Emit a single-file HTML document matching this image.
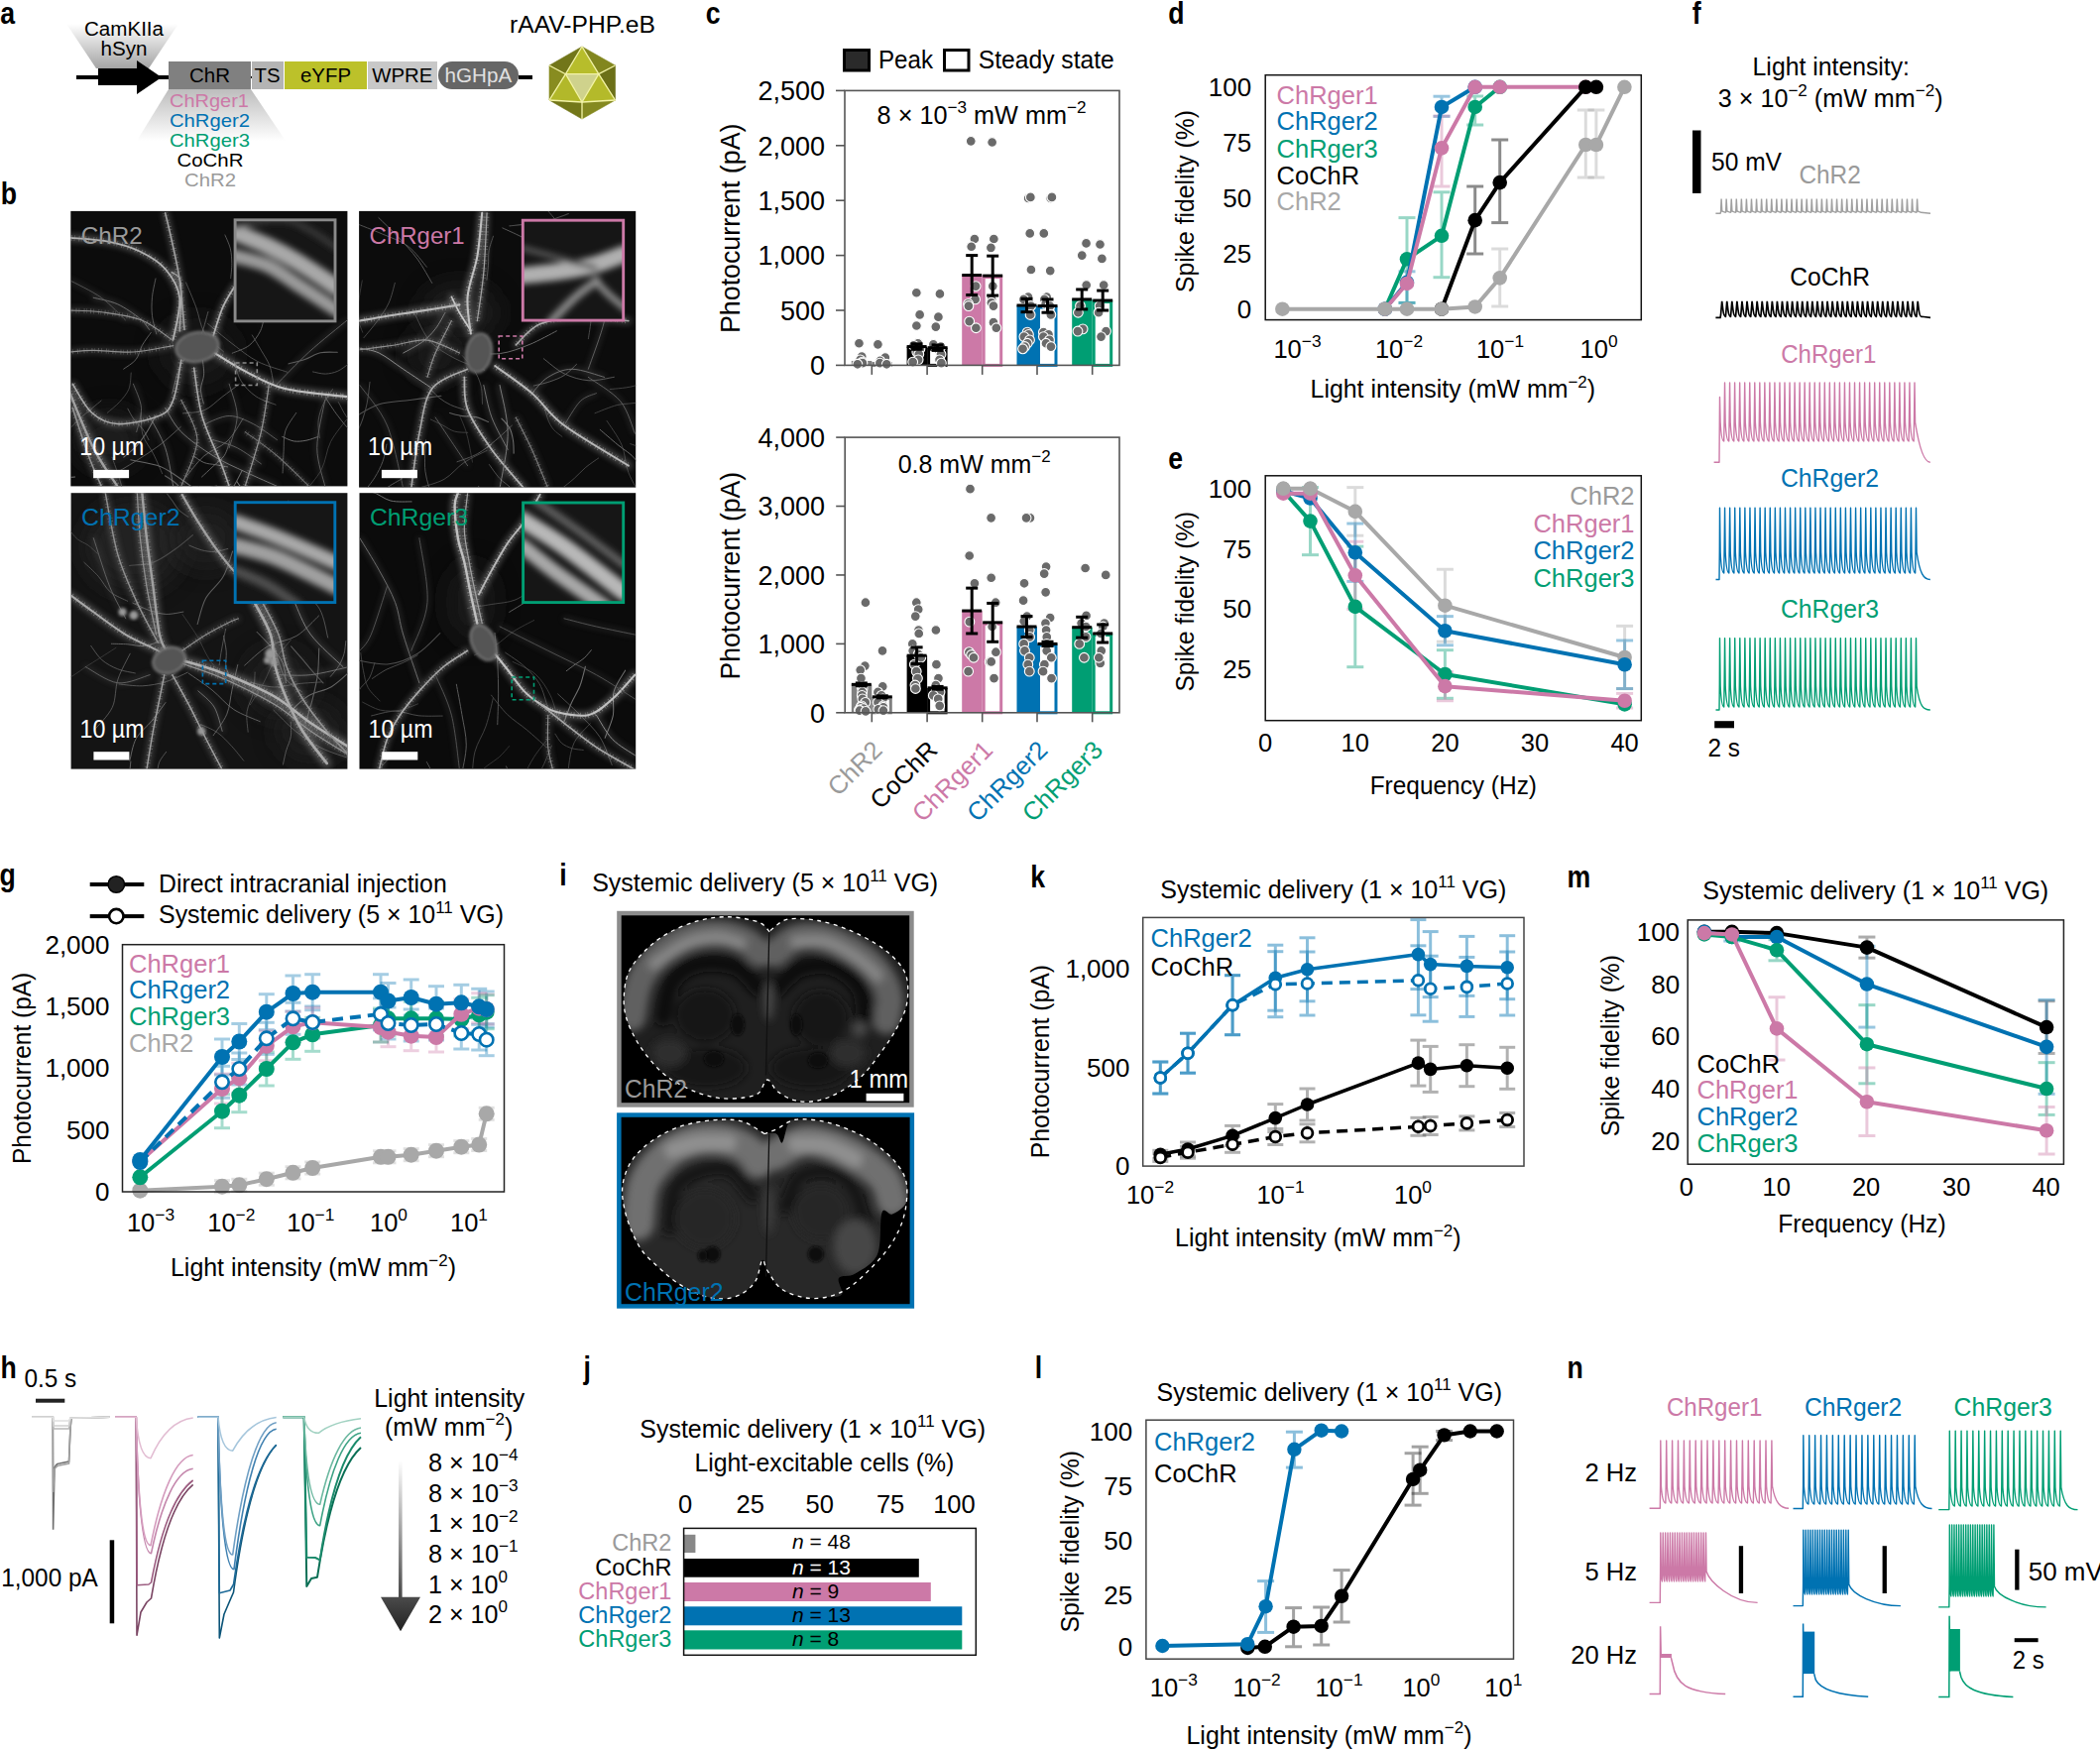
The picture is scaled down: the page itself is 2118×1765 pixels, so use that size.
<!DOCTYPE html>
<html><head><meta charset="utf-8"><style>
html,body{margin:0;padding:0;background:#fff;overflow:hidden;}
svg{display:block;font-family:"Liberation Sans",sans-serif;}
</style></head><body>
<svg width="2118" height="1765" viewBox="0 0 2118 1765">
<defs><linearGradient id="fun1" x1="0" y1="0" x2="0" y2="1"><stop offset="0" stop-color="#fff"/><stop offset="1" stop-color="#a4a4a4"/></linearGradient>
<linearGradient id="fun2" x1="0" y1="0" x2="0" y2="1"><stop offset="0" stop-color="#bdbdbd"/><stop offset="1" stop-color="#fff"/></linearGradient>
<filter id="blur1" x="-20%" y="-20%" width="140%" height="140%"><feGaussianBlur stdDeviation="1.5"/></filter>
<filter id="blur3" x="-5%" y="-5%" width="110%" height="110%"><feGaussianBlur stdDeviation="3"/></filter>
<filter id="blur8" x="-50%" y="-50%" width="200%" height="200%"><feGaussianBlur stdDeviation="12"/></filter>
<filter id="blur4" x="-20%" y="-20%" width="140%" height="140%"><feGaussianBlur stdDeviation="3.2"/></filter>
<clipPath id="im1"><rect x="71.3" y="212.9" width="279.1" height="277.5"/></clipPath>
<clipPath id="im1i"><rect x="237.1" y="221.8" width="100.9" height="102.1"/></clipPath>
<clipPath id="im2"><rect x="362.1" y="212.9" width="279.1" height="278.7"/></clipPath>
<clipPath id="im2i"><rect x="527.3" y="222.2" width="101.4" height="100.9"/></clipPath>
<clipPath id="im3"><rect x="71.6" y="497.2" width="278.8" height="278.4"/></clipPath>
<clipPath id="im3i"><rect x="237.2" y="506.7" width="100.6" height="100.9"/></clipPath>
<clipPath id="im4"><rect x="362.5" y="497.2" width="278.7" height="278.4"/></clipPath>
<clipPath id="im4i"><rect x="527.6" y="507" width="101.1" height="100.6"/></clipPath>
<linearGradient id="arr" x1="0" y1="1473" x2="0" y2="1645" gradientUnits="userSpaceOnUse"><stop offset="0" stop-color="#fff"/><stop offset="0.75" stop-color="#555"/><stop offset="1" stop-color="#222"/></linearGradient>
<filter id="blur5" x="-20%" y="-20%" width="140%" height="140%"><feGaussianBlur stdDeviation="4.5"/></filter>
<clipPath id="br1"><path d="M776.24,939.75 C774.37,938.12 771.87,932.5 764.99,930 C758.12,927.5 744.99,925 734.99,924.75 C724.99,924.5 715,925.87 705,928.5 C695,931.12 683.75,935.75 675,940.5 C666.25,945.25 659.25,950.5 652.5,957 C645.75,963.5 638.37,971.5 634.5,979.5 C630.62,987.5 629.75,997.25 629.25,1005 C628.75,1012.74 629.62,1018.99 631.5,1025.99 C633.37,1032.99 637,1040.49 640.5,1046.99 C644,1053.49 648,1059.24 652.5,1064.99 C657,1070.74 662.5,1076.99 667.5,1081.49 C672.5,1085.99 676.25,1088.49 682.5,1091.99 C688.75,1095.49 697.5,1099.87 705,1102.49 C712.5,1105.12 719.99,1106.99 727.49,1107.74 C734.99,1108.49 743.74,1107.87 749.99,1106.99 C756.24,1106.12 760.99,1105.49 764.99,1102.49 C768.99,1099.49 770.74,1089.24 773.99,1088.99 C777.24,1088.74 779.74,1097.49 784.49,1100.99 C789.24,1104.49 795.74,1108.49 802.49,1109.99 C809.24,1111.49 817.49,1111.49 824.99,1109.99 C832.49,1108.49 839.99,1105.24 847.49,1100.99 C854.99,1096.74 863.24,1090.99 869.99,1084.49 C876.74,1077.99 882.49,1069.49 887.99,1061.99 C893.49,1054.49 898.74,1046.99 902.99,1039.49 C907.24,1031.99 911.36,1024.24 913.49,1016.99 C915.61,1009.75 915.98,1002.25 915.73,996 C915.48,989.75 914.61,984.75 911.99,979.5 C909.36,974.25 904.99,969.25 899.99,964.5 C894.99,959.75 889.49,955.5 881.99,951 C874.49,946.5 864.49,941.25 854.99,937.5 C845.49,933.75 834.99,930.25 824.99,928.5 C814.99,926.75 802.49,925.75 794.99,927 C787.49,928.25 783.12,933.87 779.99,936 C776.87,938.12 776.87,939.12 776.24,939.75 Z"/></clipPath>
<clipPath id="br2"><path d="M770.99,1143.5 C767.49,1141.5 757.24,1133.87 749.99,1131.5 C742.74,1129.12 736.24,1129 727.49,1129.25 C718.74,1129.5 706.75,1130.87 697.5,1133 C688.25,1135.12 680,1138 672,1142 C664,1146 655.75,1151.5 649.5,1157 C643.25,1162.5 638.12,1168.25 634.5,1175 C630.87,1181.75 628.5,1190 627.75,1197.5 C627,1205 628.37,1212.5 630,1219.99 C631.62,1227.49 634.5,1235.49 637.5,1242.49 C640.5,1249.49 643.5,1255.99 648,1261.99 C652.5,1267.99 658.75,1273.24 664.5,1278.49 C670.25,1283.74 675.75,1288.99 682.5,1293.49 C689.25,1297.99 697.5,1302.74 705,1305.49 C712.5,1308.24 720.49,1309.99 727.49,1309.99 C734.49,1309.99 741.24,1308.49 746.99,1305.49 C752.74,1302.49 758.37,1297.74 761.99,1291.99 C765.62,1286.24 766.74,1272.74 768.74,1270.99 C770.74,1269.24 770.87,1276.74 773.99,1281.49 C777.12,1286.24 781.49,1294.99 787.49,1299.49 C793.49,1303.99 802.49,1306.99 809.99,1308.49 C817.49,1309.99 825.99,1308.99 832.49,1308.49 C838.99,1307.99 846.74,1308.74 848.99,1305.49 C851.24,1302.24 843.74,1292.49 845.99,1288.99 C848.24,1285.49 855.99,1288.49 862.49,1284.49 C868.99,1280.49 880.49,1275.24 884.99,1264.99 C889.49,1254.74 886.99,1229.74 889.49,1222.99 C891.99,1216.24 895.86,1226.24 899.99,1224.49 C904.11,1222.74 911.99,1218.24 914.24,1212.5 C916.48,1206.75 915.36,1196.75 913.49,1190 C911.61,1183.25 907.74,1177.75 902.99,1172 C898.24,1166.25 891.74,1160.5 884.99,1155.5 C878.24,1150.5 871.24,1146 862.49,1142 C853.74,1138 842.49,1133.62 832.49,1131.5 C822.49,1129.37 808.74,1129 802.49,1129.25 C796.24,1129.5 797.24,1129.12 794.99,1133 C792.74,1136.87 790.99,1150.75 788.99,1152.5 C786.99,1154.25 785.99,1145 782.99,1143.5 C779.99,1142 772.99,1143.5 770.99,1143.5 Z"/></clipPath></defs>
<rect width="2118" height="1765" fill="#fff"/>
<text x="0.2" y="24" font-size="31" textLength="14.83" lengthAdjust="spacingAndGlyphs" font-weight="bold">a</text>
<polygon points="67,24 180,24 150,69 97,69" fill="url(#fun1)"/>
<polygon points="170,90 253,90 288,142 138,142" fill="url(#fun2)"/>
<text x="125" y="36" font-size="19.5" text-anchor="middle" textLength="80" lengthAdjust="spacingAndGlyphs">CamKIIa</text>
<text x="125" y="56" font-size="19.5" text-anchor="middle" textLength="47" lengthAdjust="spacingAndGlyphs">hSyn</text>
<rect x="77" y="76" width="93" height="4" fill="#000" />
<rect x="99" y="69" width="41" height="17" fill="#000" />
<polygon points="138,61 163,78 138,95" fill="#000"/>
<rect x="170" y="62" width="83" height="28" fill="#808080" />
<rect x="254" y="62" width="32" height="28" fill="#b4b4b4" />
<rect x="287" y="62" width="83" height="28" fill="#bcc12a" />
<rect x="371" y="62" width="70" height="28" fill="#c8c8c8" />
<line x1="253" y1="78" x2="254" y2="78" stroke="#000" stroke-width="2" />
<rect x="442" y="62" width="81" height="28" rx="14" fill="#666"/>
<rect x="523" y="76" width="14" height="4" fill="#000" />
<text x="191" y="83" font-size="20" textLength="41" lengthAdjust="spacingAndGlyphs">ChR</text>
<text x="256.5" y="83" font-size="20" textLength="26" lengthAdjust="spacingAndGlyphs">TS</text>
<text x="303" y="83" font-size="20" textLength="51" lengthAdjust="spacingAndGlyphs">eYFP</text>
<text x="375.2" y="83" font-size="20" textLength="61" lengthAdjust="spacingAndGlyphs">WPRE</text>
<text x="448.6" y="83" font-size="20" fill="#e0e0e0" textLength="67.6" lengthAdjust="spacingAndGlyphs">hGHpA</text>
<text x="171" y="108" font-size="19" fill="#CC79A7" textLength="80" lengthAdjust="spacingAndGlyphs">ChRger1</text>
<text x="171" y="128" font-size="19" fill="#0072B2" textLength="81" lengthAdjust="spacingAndGlyphs">ChRger2</text>
<text x="171" y="148" font-size="19" fill="#009E73" textLength="81" lengthAdjust="spacingAndGlyphs">ChRger3</text>
<text x="178.5" y="168" font-size="19" textLength="67" lengthAdjust="spacingAndGlyphs">CoChR</text>
<text x="186" y="188" font-size="19" fill="#9a9a9a" textLength="52" lengthAdjust="spacingAndGlyphs">ChR2</text>
<text x="514" y="33" font-size="23" textLength="147" lengthAdjust="spacingAndGlyphs">rAAV-PHP.eB</text>
<polygon points="587,47 570.5,74.7 603.8,74.7" fill="#b7bd2b" stroke="#b7bd2b" stroke-width="0.6" stroke-linejoin="round"/>
<polygon points="554,66 587,47 570.5,74.7" fill="#72761a" stroke="#72761a" stroke-width="0.6" stroke-linejoin="round"/>
<polygon points="587,47 620.5,66 603.8,74.7" fill="#82861e" stroke="#82861e" stroke-width="0.6" stroke-linejoin="round"/>
<polygon points="554,66 570.5,74.7 554,101" fill="#888c20" stroke="#888c20" stroke-width="0.6" stroke-linejoin="round"/>
<polygon points="620.5,66 603.8,74.7 620.5,101" fill="#6c7018" stroke="#6c7018" stroke-width="0.6" stroke-linejoin="round"/>
<polygon points="570.5,74.7 603.8,74.7 587,103" fill="#cfd28c" stroke="#cfd28c" stroke-width="0.6" stroke-linejoin="round"/>
<polygon points="570.5,74.7 587,103 554,101" fill="#b2b82a" stroke="#b2b82a" stroke-width="0.6" stroke-linejoin="round"/>
<polygon points="603.8,74.7 620.5,101 587,103" fill="#b4ba2a" stroke="#b4ba2a" stroke-width="0.6" stroke-linejoin="round"/>
<polygon points="554,101 587,103 587,120" fill="#737719" stroke="#737719" stroke-width="0.6" stroke-linejoin="round"/>
<polygon points="587,103 620.5,101 587,120" fill="#858920" stroke="#858920" stroke-width="0.6" stroke-linejoin="round"/>
<line x1="587" y1="47" x2="570.5" y2="74.7" stroke="#f4f4a8" stroke-width="1.3" />
<line x1="587" y1="47" x2="603.8" y2="74.7" stroke="#f4f4a8" stroke-width="1.3" />
<line x1="570.5" y1="74.7" x2="603.8" y2="74.7" stroke="#f4f4a8" stroke-width="1.3" />
<line x1="554" y1="66" x2="570.5" y2="74.7" stroke="#f4f4a8" stroke-width="1.3" />
<line x1="620.5" y1="66" x2="603.8" y2="74.7" stroke="#f4f4a8" stroke-width="1.3" />
<line x1="570.5" y1="74.7" x2="587" y2="103" stroke="#f4f4a8" stroke-width="1.3" />
<line x1="603.8" y1="74.7" x2="587" y2="103" stroke="#f4f4a8" stroke-width="1.3" />
<line x1="570.5" y1="74.7" x2="554" y2="101" stroke="#f4f4a8" stroke-width="1.3" />
<line x1="603.8" y1="74.7" x2="620.5" y2="101" stroke="#f4f4a8" stroke-width="1.3" />
<line x1="554" y1="101" x2="587" y2="103" stroke="#f4f4a8" stroke-width="1.3" />
<line x1="620.5" y1="101" x2="587" y2="103" stroke="#f4f4a8" stroke-width="1.3" />
<line x1="587" y1="103" x2="587" y2="120" stroke="#f4f4a8" stroke-width="1.3" />
<text x="0.7" y="205.8" font-size="31" textLength="16.28" lengthAdjust="spacingAndGlyphs" font-weight="bold">b</text>
<rect x="71.3" y="212.9" width="279.1" height="277.5" fill="#0c0c0c" />
<g clip-path="url(#im1)">
<ellipse cx="110.28" cy="443.64" rx="35" ry="30" fill="#202020" opacity="0.8" filter="url(#blur8)"/>
<ellipse cx="198.91" cy="355.02" rx="40" ry="35" fill="#1e1e1e" opacity="0.8" filter="url(#blur8)"/>
<g fill="none" stroke-linecap="round">
<path d="M131.77,463.85 C136.85,464.99 152.79,466.76 162.27,470.71 C171.74,474.65 180.04,481.62 188.62,487.52 C197.19,493.43 209.54,503.04 213.73,506.14" stroke="#666666" stroke-width="1.01"/>
<path d="M328.61,401.54 C330.65,404.54 336.39,413.83 340.86,419.52 C345.33,425.2 349.61,431.73 355.45,435.66 C361.29,439.59 372.48,441.85 375.89,443.09" stroke="#686868" stroke-width="0.87"/>
<path d="M195.64,460.09 C197.34,461.17 202.15,465.13 205.83,466.57 C209.5,468.01 213.75,468 217.71,468.72 C221.66,469.44 227.6,470.54 229.58,470.9" stroke="#676767" stroke-width="0.92"/>
<path d="M102.12,404.08 C98.61,407.05 87.81,415.65 81.06,421.87 C74.31,428.1 67.7,434.56 61.63,441.43 C55.56,448.31 47.46,459.52 44.63,463.14" stroke="#5c5c5c" stroke-width="0.78"/>
<path d="M187.57,284.96 C189.28,289.12 194.7,301.51 197.82,309.96 C200.94,318.4 201.68,328.16 206.28,335.62 C210.88,343.07 222.23,351.5 225.42,354.68" stroke="#626262" stroke-width="0.72"/>
<path d="M200.28,490.98 C203.72,492.79 213.87,498.63 220.94,501.85 C228.01,505.06 235.52,507.3 242.71,510.26 C249.91,513.21 260.55,518.02 264.12,519.58" stroke="#5d5d5d" stroke-width="0.69"/>
<path d="M132.21,376 C131.85,378.7 131.97,387.28 130.02,392.19 C128.07,397.1 124.14,401.45 120.51,405.47 C116.89,409.49 110.32,414.49 108.28,416.29" stroke="#565656" stroke-width="0.7"/>
<path d="M328.64,268.9 C327.76,271.1 324.67,277.55 323.34,282.07 C322.01,286.59 322,291.5 320.66,296.01 C319.32,300.52 316.17,306.96 315.28,309.15" stroke="#4c4c4c" stroke-width="0.78"/>
<path d="M254.32,337.97 C255.83,340.52 260.45,348.14 263.4,353.29 C266.34,358.44 269.92,363.39 271.98,368.89 C274.04,374.39 275.13,383.39 275.76,386.29" stroke="#676767" stroke-width="0.72"/>
<path d="M166.45,479.79 C168.19,480.98 173.57,484.35 176.86,486.98 C180.14,489.61 182.56,493.59 186.15,495.55 C189.74,497.52 196.35,498.24 198.38,498.77" stroke="#5b5b5b" stroke-width="1.09"/>
<path d="M343.84,397.21 C346.52,399.53 353.9,407.66 359.93,411.15 C365.97,414.64 373.16,417.28 380.05,418.14 C386.94,418.99 397.72,416.59 401.26,416.28" stroke="#5f5f5f" stroke-width="0.96"/>
<path d="M298.74,416.39 C296.92,419.43 289.93,428.05 287.82,434.61 C285.71,441.17 286.52,448.71 286.07,455.78 C285.62,462.84 285.26,473.46 285.1,476.99" stroke="#727272" stroke-width="0.72"/>
<path d="M209.54,326.44 C213.61,329.77 225.58,340.08 233.96,346.44 C242.34,352.79 250.53,359.78 259.8,364.57 C269.06,369.35 284.58,373.39 289.53,375.15" stroke="#717171" stroke-width="0.62"/>
<path d="M156.99,419.27 C155.59,421.88 151.7,429.91 148.56,434.92 C145.41,439.92 142.07,444.94 138.11,449.3 C134.16,453.66 127.04,459.13 124.82,461.1" stroke="#6d6d6d" stroke-width="1.03"/>
<path d="M235.76,363.83 C236.98,367.22 239.38,378.19 243.1,384.18 C246.83,390.17 252.28,395.77 258.11,399.77 C263.93,403.77 274.73,406.76 278.05,408.16" stroke="#565656" stroke-width="0.88"/>
<path d="M320.92,440.43 C318.92,441.05 313.03,443.43 308.95,444.19 C304.87,444.95 300.47,445.59 296.44,444.97 C292.4,444.34 286.69,441.2 284.74,440.44" stroke="#6d6d6d" stroke-width="0.97"/>
<path d="M231.76,444.64 C230.86,447.09 229.12,455.09 226.33,459.36 C223.53,463.63 218.82,466.66 215.02,470.26 C211.22,473.86 205.46,479.19 203.55,480.98" stroke="#676767" stroke-width="0.92"/>
<path d="M239.06,485.82 C241.08,489.22 248.76,498.91 251.16,506.25 C253.56,513.6 251.83,522.2 253.47,529.89 C255.11,537.59 259.74,548.67 261,552.42" stroke="#717171" stroke-width="1.01"/>
<path d="M182.23,430.55 C178.66,433.65 168.29,443.4 160.78,449.12 C153.28,454.83 145.16,459.78 137.18,464.84 C129.19,469.9 116.93,477.04 112.88,479.48" stroke="#666666" stroke-width="0.77"/>
<path d="M113.04,461.28 C114.04,464.11 117.25,472.54 119.04,478.27 C120.83,484 122.79,489.76 123.8,495.65 C124.81,501.54 124.89,510.62 125.11,513.62" stroke="#4d4d4d" stroke-width="0.93"/>
<path d="M245.13,422.22 C242.49,426.01 235.79,438.68 229.24,444.94 C222.69,451.21 212.77,453.86 205.85,459.84 C198.92,465.82 190.73,477.32 187.71,480.82" stroke="#787878" stroke-width="0.73"/>
<path d="M142.21,416.82 C142.51,420.46 141.94,431.81 144.02,438.64 C146.1,445.46 151.4,451.24 154.68,457.75 C157.96,464.26 162.19,474.37 163.7,477.7" stroke="#696969" stroke-width="0.61"/>
<path d="M267.65,260.78 C271.27,262.74 283.13,267.38 289.33,272.54 C295.53,277.7 298.49,286.86 304.84,291.71 C311.19,296.56 323.65,299.98 327.41,301.64" stroke="#666666" stroke-width="1.03"/>
<path d="M128.86,412.17 C129.92,414.01 132.73,419.79 135.23,423.19 C137.72,426.6 141.35,429.18 143.82,432.59 C146.29,436.01 149,441.85 150.04,443.71" stroke="#727272" stroke-width="0.63"/>
<path d="M184.5,416.88 C188.11,416.35 199.63,416.41 206.16,413.7 C212.7,410.98 217.87,404.98 223.71,400.6 C229.55,396.23 238.29,389.64 241.21,387.45" stroke="#707070" stroke-width="0.66"/>
<path d="M244.04,474.76 C241.78,478.57 236.52,491.47 230.51,497.63 C224.5,503.78 215.97,508.07 207.98,511.71 C199.99,515.34 186.81,518.16 182.57,519.45" stroke="#676767" stroke-width="1.02"/>
<path d="M351.45,367.06 C349.67,368.25 344.65,372.57 340.78,374.24 C336.91,375.92 332.44,376.97 328.23,377.08 C324.03,377.2 317.66,375.29 315.55,374.93" stroke="#545454" stroke-width="0.89"/>
<path d="M218.41,489.8 C213.47,491.37 197.89,494.58 188.73,499.18 C179.57,503.77 172.8,513.52 163.46,517.37 C154.13,521.21 137.84,521.42 132.72,522.23" stroke="#545454" stroke-width="0.67"/>
<path d="M209.92,314.5 C208.35,319.31 205.1,334.49 200.52,343.37 C195.94,352.24 186.89,358.84 182.43,367.75 C177.97,376.66 175.2,391.99 173.75,396.84" stroke="#6c6c6c" stroke-width="0.73"/>
<path d="M267.13,315.68 C266.38,318.7 265.28,328.29 262.63,333.76 C259.97,339.22 255.93,344.73 251.2,348.47 C246.47,352.21 237.08,354.9 234.25,356.19" stroke="#5d5d5d" stroke-width="0.99"/>
<path d="M350.88,421.57 C347.99,425.56 337.99,436.85 333.55,445.52 C329.11,454.18 328.77,464.97 324.24,473.57 C319.71,482.16 309.34,493.18 306.36,497.1" stroke="#515151" stroke-width="0.66"/>
<path d="M350.85,487.92 C353.7,488.26 362.26,490.03 367.95,489.93 C373.64,489.83 379.47,488.82 384.97,487.33 C390.48,485.85 398.33,482.09 401,481.05" stroke="#696969" stroke-width="0.95"/>
<path d="M152.32,335.4 C150.83,337.55 145.95,343.75 143.41,348.28 C140.87,352.82 140.2,358.62 137.07,362.6 C133.95,366.58 126.73,370.57 124.66,372.16" stroke="#5d5d5d" stroke-width="0.97"/>
<path d="M75.66,481 C73.2,481.11 65.8,481.83 60.9,481.63 C56,481.42 51.12,480.45 46.24,479.77 C41.36,479.08 34.07,477.9 31.63,477.53" stroke="#757575" stroke-width="1.01"/>
<path d="M226.9,236.97 C227.81,239.28 231.21,246.05 232.35,250.84 C233.5,255.62 233.73,260.72 233.79,265.67 C233.85,270.62 232.9,278.06 232.73,280.53" stroke="#5e5e5e" stroke-width="0.89"/>
<path d="M340.31,355.28 C337.46,355.36 328.68,354.58 323.2,355.78 C317.73,356.99 312.84,360.65 307.46,362.51 C302.08,364.36 293.68,366.17 290.92,366.91" stroke="#5d5d5d" stroke-width="1.07"/>
<path d="M341.32,405.58 C343.16,408.63 347.54,418.89 352.37,423.85 C357.21,428.82 363.84,432.86 370.34,435.4 C376.84,437.93 387.88,438.44 391.38,439.05" stroke="#6c6c6c" stroke-width="0.61"/>
<path d="M156.99,280.98 C156.41,284.08 154.08,293.33 153.49,299.59 C152.91,305.84 152.75,312.29 153.48,318.51 C154.2,324.74 157.1,333.86 157.83,336.93" stroke="#6c6c6c" stroke-width="0.77"/>
<path d="M335.43,392.66 C333.87,395.13 328.48,402.21 326.1,407.47 C323.71,412.74 321.73,418.55 321.11,424.25 C320.48,429.96 322.14,438.81 322.34,441.72" stroke="#6e6e6e" stroke-width="0.62"/>
<path d="M204.42,363.36 C204.62,365.82 205.93,373.23 205.61,378.1 C205.28,382.96 202.52,387.72 202.48,392.55 C202.44,397.38 204.88,404.64 205.36,407.05" stroke="#707070" stroke-width="0.87"/>
</g>
<g filter="url(#blur3)" fill="none" stroke-linecap="round" opacity="0.45">
<path d="M181.18,334.07 C181.45,327.9 182.79,305.87 182.79,297.01 C182.79,288.15 182.79,284.66 181.18,280.9 C179.57,277.14 174.47,275.53 173.13,274.45" stroke="#a8a8a8" stroke-width="4.16"/>
<path d="M150.57,332.46 C148.96,330.58 146.27,325.48 140.9,321.18 C135.53,316.89 126.13,310.17 118.34,306.68 C110.55,303.19 98.2,301.31 94.17,300.24" stroke="#808080" stroke-width="2.6"/>
<path d="M166.68,411.42 C169.37,415.45 174.74,427.53 182.79,435.59 C190.85,443.64 204.28,453.04 215.02,459.76 C225.76,466.47 236.51,470.77 247.25,475.87 C257.99,480.97 274.1,487.96 279.47,490.37" stroke="#888888" stroke-width="2.6"/>
<path d="M150.57,419.47 C153.25,424.85 162.65,439.89 166.68,451.7 C170.71,463.52 173.39,483.93 174.74,490.37" stroke="#808080" stroke-width="2.6"/>
<path d="M206.96,427.53 C210.99,426.19 223.08,419.47 231.13,419.47 C239.19,419.47 247.25,423.5 255.3,427.53 C263.36,431.56 275.45,440.96 279.47,443.64" stroke="#777777" stroke-width="2.34"/>
<path d="M215.02,443.64 C219.05,444.99 231.13,447.67 239.19,451.7 C247.25,455.73 259.33,465.13 263.36,467.82" stroke="#777777" stroke-width="2.34"/>
<path d="M134.45,387.25 C135.8,391.28 141.97,403.36 142.51,411.42 C143.05,419.47 138.48,431.56 137.68,435.59" stroke="#707070" stroke-width="2.34"/>
<path d="M231.13,387.25 C232.48,392.62 239.19,408.73 239.19,419.47 C239.19,430.22 232.48,446.33 231.13,451.7" stroke="#707070" stroke-width="2.34"/>
<path d="M174.74,342.13 C175.81,335.15 182.53,312.05 181.18,300.24 C179.84,288.42 173.39,279.02 166.68,271.23 C159.97,263.44 150.3,258.07 140.9,253.51 C131.5,248.94 122.1,246.12 110.28,243.84 C98.47,241.56 76.71,240.48 70,239.81" stroke="#b0b0b0" stroke-width="5.72"/>
<path d="M186.02,332.46 C185.21,324.14 183.33,297.55 181.18,282.51 C179.03,267.47 175.54,253.51 173.13,242.23 C170.71,230.95 167.75,219.4 166.68,214.83" stroke="#a0a0a0" stroke-width="5.2"/>
<path d="M215.02,338.91 C216.63,334.07 220.93,318.5 224.69,309.9 C228.45,301.31 235.43,291.1 237.58,287.34" stroke="#b0b0b0" stroke-width="5.72"/>
<path d="M215.02,355.02 C220.39,358.24 235.16,368.18 247.25,374.36 C259.33,380.53 270.34,387.78 287.53,392.08 C304.72,396.38 339.9,398.8 350.37,400.14" stroke="#c0c0c0" stroke-width="6.76"/>
<path d="M174.74,343.74 C169.37,340.25 154.6,327.63 142.51,322.79 C130.43,317.96 114.31,316.35 102.23,314.74 C90.14,313.13 75.37,313.39 70,313.13" stroke="#909090" stroke-width="3.9"/>
<path d="M174.74,348.58 C168.02,349.65 147.88,354.22 134.45,355.02 C121.03,355.83 104.91,353.41 94.17,353.41 C83.43,353.41 74.03,354.75 70,355.02" stroke="#909090" stroke-width="3.9"/>
<path d="M182.79,363.08 C181.45,369.79 178.5,393.96 174.74,403.36 C170.98,412.76 169.63,415.45 160.24,419.47 C150.84,423.5 129.62,428.07 118.34,427.53 C107.06,426.99 100.08,422.97 92.56,416.25 C85.04,409.54 76.45,392.08 73.22,387.25" stroke="#a8a8a8" stroke-width="5.2"/>
<path d="M195.68,371.13 C197.03,379.19 199.18,403.36 203.74,419.47 C208.31,435.59 218.51,456 223.08,467.82 C227.64,479.63 229.79,486.61 231.13,490.37" stroke="#a8a8a8" stroke-width="5.2"/>
<path d="M70,395.3 C74.03,404.7 86.11,435.86 94.17,451.7 C102.23,467.55 114.31,483.93 118.34,490.37" stroke="#a0a0a0" stroke-width="7.8"/>
<path d="M73.22,411.42 C75.91,419.47 84.5,446.6 89.34,459.76 C94.17,472.92 100.08,485.27 102.23,490.37" stroke="#909090" stroke-width="5.2"/>
<path d="M271.42,387.25 C270.08,395.3 267.39,418.4 263.36,435.59 C259.33,452.78 249.93,481.24 247.25,490.37" stroke="#909090" stroke-width="4.16"/>
<path d="M182.79,403.36 C185.48,410.08 198.91,429.14 198.91,443.64 C198.91,458.15 185.48,482.59 182.79,490.37" stroke="#808080" stroke-width="3.64"/>
<path d="M247.25,435.59 C252.62,439.62 268.73,450.63 279.47,459.76 C290.22,468.89 306.33,485.27 311.7,490.37" stroke="#707070" stroke-width="3.38"/>
<path d="M279.47,387.25 C284.85,381.88 299.89,365.76 311.7,355.02 C323.52,344.28 343.93,328.17 350.37,322.79" stroke="#606060" stroke-width="3.12"/>
<path d="M70,282.51 C75.37,285.46 92.83,293.52 102.23,300.24 C111.63,306.95 122.37,319.03 126.4,322.79" stroke="#606060" stroke-width="2.6"/>
<path d="M327.82,403.36 C326.47,411.42 319.76,437.2 319.76,451.7 C319.76,466.2 326.47,483.93 327.82,490.37" stroke="#606060" stroke-width="3.12"/>
</g>
<g fill="none" opacity="0.45">
<path d="M181.18,334.07 C181.45,327.9 182.79,305.87 182.79,297.01 C182.79,288.15 182.79,284.66 181.18,280.9 C179.57,277.14 174.47,275.53 173.13,274.45" stroke="#a8a8a8" stroke-width="5.1" stroke-dasharray="0.7,2.1,1.0,3.4,0.6,1.6,0.9,4.2"/>
<path d="M174.74,342.13 C175.81,335.15 182.53,312.05 181.18,300.24 C179.84,288.42 173.39,279.02 166.68,271.23 C159.97,263.44 150.3,258.07 140.9,253.51 C131.5,248.94 122.1,246.12 110.28,243.84 C98.47,241.56 76.71,240.48 70,239.81" stroke="#b0b0b0" stroke-width="5.7" stroke-dasharray="0.7,2.1,1.0,3.4,0.6,1.6,0.9,4.2"/>
<path d="M186.02,332.46 C185.21,324.14 183.33,297.55 181.18,282.51 C179.03,267.47 175.54,253.51 173.13,242.23 C170.71,230.95 167.75,219.4 166.68,214.83" stroke="#a0a0a0" stroke-width="5.5" stroke-dasharray="0.7,2.1,1.0,3.4,0.6,1.6,0.9,4.2"/>
<path d="M215.02,338.91 C216.63,334.07 220.93,318.5 224.69,309.9 C228.45,301.31 235.43,291.1 237.58,287.34" stroke="#b0b0b0" stroke-width="5.7" stroke-dasharray="0.7,2.1,1.0,3.4,0.6,1.6,0.9,4.2"/>
<path d="M215.02,355.02 C220.39,358.24 235.16,368.18 247.25,374.36 C259.33,380.53 270.34,387.78 287.53,392.08 C304.72,396.38 339.9,398.8 350.37,400.14" stroke="#c0c0c0" stroke-width="6.1" stroke-dasharray="0.7,2.1,1.0,3.4,0.6,1.6,0.9,4.2"/>
<path d="M174.74,343.74 C169.37,340.25 154.6,327.63 142.51,322.79 C130.43,317.96 114.31,316.35 102.23,314.74 C90.14,313.13 75.37,313.39 70,313.13" stroke="#909090" stroke-width="5" stroke-dasharray="0.7,2.1,1.0,3.4,0.6,1.6,0.9,4.2"/>
<path d="M174.74,348.58 C168.02,349.65 147.88,354.22 134.45,355.02 C121.03,355.83 104.91,353.41 94.17,353.41 C83.43,353.41 74.03,354.75 70,355.02" stroke="#909090" stroke-width="5" stroke-dasharray="0.7,2.1,1.0,3.4,0.6,1.6,0.9,4.2"/>
<path d="M182.79,363.08 C181.45,369.79 178.5,393.96 174.74,403.36 C170.98,412.76 169.63,415.45 160.24,419.47 C150.84,423.5 129.62,428.07 118.34,427.53 C107.06,426.99 100.08,422.97 92.56,416.25 C85.04,409.54 76.45,392.08 73.22,387.25" stroke="#a8a8a8" stroke-width="5.5" stroke-dasharray="0.7,2.1,1.0,3.4,0.6,1.6,0.9,4.2"/>
<path d="M195.68,371.13 C197.03,379.19 199.18,403.36 203.74,419.47 C208.31,435.59 218.51,456 223.08,467.82 C227.64,479.63 229.79,486.61 231.13,490.37" stroke="#a8a8a8" stroke-width="5.5" stroke-dasharray="0.7,2.1,1.0,3.4,0.6,1.6,0.9,4.2"/>
<path d="M70,395.3 C74.03,404.7 86.11,435.86 94.17,451.7 C102.23,467.55 114.31,483.93 118.34,490.37" stroke="#a0a0a0" stroke-width="6.5" stroke-dasharray="0.7,2.1,1.0,3.4,0.6,1.6,0.9,4.2"/>
<path d="M73.22,411.42 C75.91,419.47 84.5,446.6 89.34,459.76 C94.17,472.92 100.08,485.27 102.23,490.37" stroke="#909090" stroke-width="5.5" stroke-dasharray="0.7,2.1,1.0,3.4,0.6,1.6,0.9,4.2"/>
<path d="M271.42,387.25 C270.08,395.3 267.39,418.4 263.36,435.59 C259.33,452.78 249.93,481.24 247.25,490.37" stroke="#909090" stroke-width="5.1" stroke-dasharray="0.7,2.1,1.0,3.4,0.6,1.6,0.9,4.2"/>
<path d="M182.79,403.36 C185.48,410.08 198.91,429.14 198.91,443.64 C198.91,458.15 185.48,482.59 182.79,490.37" stroke="#808080" stroke-width="4.9" stroke-dasharray="0.7,2.1,1.0,3.4,0.6,1.6,0.9,4.2"/>
<path d="M247.25,435.59 C252.62,439.62 268.73,450.63 279.47,459.76 C290.22,468.89 306.33,485.27 311.7,490.37" stroke="#707070" stroke-width="4.8" stroke-dasharray="0.7,2.1,1.0,3.4,0.6,1.6,0.9,4.2"/>
</g>
<g fill="none" stroke-linecap="round">
<path d="M181.18,334.07 C181.45,327.9 182.79,305.87 182.79,297.01 C182.79,288.15 182.79,284.66 181.18,280.9 C179.57,277.14 174.47,275.53 173.13,274.45" stroke="#a8a8a8" stroke-width="1.28"/>
<path d="M150.57,332.46 C148.96,330.58 146.27,325.48 140.9,321.18 C135.53,316.89 126.13,310.17 118.34,306.68 C110.55,303.19 98.2,301.31 94.17,300.24" stroke="#808080" stroke-width="0.8"/>
<path d="M166.68,411.42 C169.37,415.45 174.74,427.53 182.79,435.59 C190.85,443.64 204.28,453.04 215.02,459.76 C225.76,466.47 236.51,470.77 247.25,475.87 C257.99,480.97 274.1,487.96 279.47,490.37" stroke="#888888" stroke-width="0.8"/>
<path d="M150.57,419.47 C153.25,424.85 162.65,439.89 166.68,451.7 C170.71,463.52 173.39,483.93 174.74,490.37" stroke="#808080" stroke-width="0.8"/>
<path d="M206.96,427.53 C210.99,426.19 223.08,419.47 231.13,419.47 C239.19,419.47 247.25,423.5 255.3,427.53 C263.36,431.56 275.45,440.96 279.47,443.64" stroke="#777777" stroke-width="0.72"/>
<path d="M215.02,443.64 C219.05,444.99 231.13,447.67 239.19,451.7 C247.25,455.73 259.33,465.13 263.36,467.82" stroke="#777777" stroke-width="0.72"/>
<path d="M134.45,387.25 C135.8,391.28 141.97,403.36 142.51,411.42 C143.05,419.47 138.48,431.56 137.68,435.59" stroke="#707070" stroke-width="0.72"/>
<path d="M231.13,387.25 C232.48,392.62 239.19,408.73 239.19,419.47 C239.19,430.22 232.48,446.33 231.13,451.7" stroke="#707070" stroke-width="0.72"/>
<path d="M174.74,342.13 C175.81,335.15 182.53,312.05 181.18,300.24 C179.84,288.42 173.39,279.02 166.68,271.23 C159.97,263.44 150.3,258.07 140.9,253.51 C131.5,248.94 122.1,246.12 110.28,243.84 C98.47,241.56 76.71,240.48 70,239.81" stroke="#b0b0b0" stroke-width="1.76"/>
<path d="M186.02,332.46 C185.21,324.14 183.33,297.55 181.18,282.51 C179.03,267.47 175.54,253.51 173.13,242.23 C170.71,230.95 167.75,219.4 166.68,214.83" stroke="#a0a0a0" stroke-width="1.6"/>
<path d="M215.02,338.91 C216.63,334.07 220.93,318.5 224.69,309.9 C228.45,301.31 235.43,291.1 237.58,287.34" stroke="#b0b0b0" stroke-width="1.76"/>
<path d="M215.02,355.02 C220.39,358.24 235.16,368.18 247.25,374.36 C259.33,380.53 270.34,387.78 287.53,392.08 C304.72,396.38 339.9,398.8 350.37,400.14" stroke="#c0c0c0" stroke-width="2.08"/>
<path d="M174.74,343.74 C169.37,340.25 154.6,327.63 142.51,322.79 C130.43,317.96 114.31,316.35 102.23,314.74 C90.14,313.13 75.37,313.39 70,313.13" stroke="#909090" stroke-width="1.2"/>
<path d="M174.74,348.58 C168.02,349.65 147.88,354.22 134.45,355.02 C121.03,355.83 104.91,353.41 94.17,353.41 C83.43,353.41 74.03,354.75 70,355.02" stroke="#909090" stroke-width="1.2"/>
<path d="M182.79,363.08 C181.45,369.79 178.5,393.96 174.74,403.36 C170.98,412.76 169.63,415.45 160.24,419.47 C150.84,423.5 129.62,428.07 118.34,427.53 C107.06,426.99 100.08,422.97 92.56,416.25 C85.04,409.54 76.45,392.08 73.22,387.25" stroke="#a8a8a8" stroke-width="1.6"/>
<path d="M195.68,371.13 C197.03,379.19 199.18,403.36 203.74,419.47 C208.31,435.59 218.51,456 223.08,467.82 C227.64,479.63 229.79,486.61 231.13,490.37" stroke="#a8a8a8" stroke-width="1.6"/>
<path d="M70,395.3 C74.03,404.7 86.11,435.86 94.17,451.7 C102.23,467.55 114.31,483.93 118.34,490.37" stroke="#a0a0a0" stroke-width="2.4"/>
<path d="M73.22,411.42 C75.91,419.47 84.5,446.6 89.34,459.76 C94.17,472.92 100.08,485.27 102.23,490.37" stroke="#909090" stroke-width="1.6"/>
<path d="M271.42,387.25 C270.08,395.3 267.39,418.4 263.36,435.59 C259.33,452.78 249.93,481.24 247.25,490.37" stroke="#909090" stroke-width="1.28"/>
<path d="M182.79,403.36 C185.48,410.08 198.91,429.14 198.91,443.64 C198.91,458.15 185.48,482.59 182.79,490.37" stroke="#808080" stroke-width="1.12"/>
<path d="M247.25,435.59 C252.62,439.62 268.73,450.63 279.47,459.76 C290.22,468.89 306.33,485.27 311.7,490.37" stroke="#707070" stroke-width="1.04"/>
<path d="M279.47,387.25 C284.85,381.88 299.89,365.76 311.7,355.02 C323.52,344.28 343.93,328.17 350.37,322.79" stroke="#606060" stroke-width="0.96"/>
<path d="M70,282.51 C75.37,285.46 92.83,293.52 102.23,300.24 C111.63,306.95 122.37,319.03 126.4,322.79" stroke="#606060" stroke-width="0.8"/>
<path d="M327.82,403.36 C326.47,411.42 319.76,437.2 319.76,451.7 C319.76,466.2 326.47,483.93 327.82,490.37" stroke="#606060" stroke-width="0.96"/>
</g>
<ellipse cx="199" cy="350" rx="22" ry="15" fill="#555" stroke="#8a8a8a" stroke-width="1.5" transform="rotate(-10 199 350)" filter="url(#blur1)"/>
</g>
<rect x="237.1" y="221.8" width="100.9" height="102.1" fill="#161616" />
<g clip-path="url(#im1i)">
<g filter="url(#blur4)" fill="none" stroke-linecap="round">
<path d="M236,234 C241.67,236.33 259.33,243 270,248 C280.67,253 288.33,257 300,264 C311.67,271 333.33,285.67 340,290" stroke="#a8a8a8" stroke-width="17"/>
<path d="M236,258 C241.67,259.67 259.33,263.17 270,268 C280.67,272.83 288.33,279.5 300,287 C311.67,294.5 333.33,308.67 340,313" stroke="#9a9a9a" stroke-width="14"/>
<path d="M236,228 C245,227 272.67,218.33 290,222 C307.33,225.67 331.67,245.33 340,250" stroke="#3a3a3a" stroke-width="6"/>
</g></g>
<rect x="237.1" y="221.8" width="100.9" height="102.1" fill="none" stroke="#8a8a8a" stroke-width="2.9"/>
<rect x="237.6" y="366" width="21.7" height="22.5" fill="none" stroke="#8a8a8a" stroke-width="1.6" stroke-dasharray="4,3"/>
<text x="81.8" y="245.5" font-size="24.5" fill="#9a9a9a" textLength="62" lengthAdjust="spacingAndGlyphs">ChR2</text>
<text x="80.3" y="459.2" font-size="25.5" fill="#fff" textLength="65" lengthAdjust="spacingAndGlyphs">10 µm</text>
<rect x="94.1" y="473.9" width="36" height="8.3" fill="#fff" />
<rect x="362.1" y="212.9" width="279.1" height="278.7" fill="#0c0c0c" />
<g clip-path="url(#im2)">
<ellipse cx="463.49" cy="315.49" rx="40" ry="30" fill="#222" opacity="0.8" filter="url(#blur8)"/>
<ellipse cx="439.14" cy="356.06" rx="30" ry="30" fill="#1c1c1c" opacity="0.8" filter="url(#blur8)"/>
<g fill="none" stroke-linecap="round">
<path d="M381.9,219.66 C385.28,222.99 395.66,232.75 402.16,239.66 C408.65,246.57 415.29,253.49 420.88,261.11 C426.47,268.74 433.23,281.37 435.7,285.42" stroke="#5b5b5b" stroke-width="0.97"/>
<path d="M445.02,399.22 C439.79,399.92 424.1,402.02 413.65,403.46 C403.2,404.9 392.19,404.66 382.3,407.85 C372.41,411.05 358.97,420.17 354.31,422.64" stroke="#535353" stroke-width="1.01"/>
<path d="M466.41,358.75 C468.33,361.08 474.81,367.6 477.93,372.69 C481.05,377.78 483.7,383.52 485.13,389.29 C486.55,395.06 486.26,404.32 486.49,407.33" stroke="#515151" stroke-width="0.81"/>
<path d="M549.79,412.42 C550.28,414.24 551.31,419.86 552.73,423.31 C554.14,426.77 555.89,430.31 558.26,433.15 C560.62,435.99 565.49,439.15 566.94,440.35" stroke="#494949" stroke-width="0.84"/>
<path d="M429.62,443.78 C429.51,449.07 427.52,465.15 428.96,475.48 C430.41,485.81 434.05,496.18 438.31,505.76 C442.57,515.35 451.82,528.46 454.53,533" stroke="#606060" stroke-width="0.82"/>
<path d="M405.68,482.7 C402.89,484.4 394.07,488.88 388.98,492.89 C383.9,496.9 380.43,503.06 375.18,506.75 C369.93,510.44 360.42,513.66 357.46,515.04" stroke="#5e5e5e" stroke-width="0.93"/>
<path d="M635.76,447.68 C637.58,448.41 643.48,449.93 646.64,452.08 C649.8,454.23 651.68,458.18 654.72,460.58 C657.75,462.98 663.17,465.49 664.86,466.47" stroke="#4e4e4e" stroke-width="0.82"/>
<path d="M453.57,416.5 C455.75,417.02 462.22,418.94 466.63,419.62 C471.04,420.31 475.7,419.65 480.02,420.62 C484.34,421.59 490.45,424.66 492.54,425.47" stroke="#5d5d5d" stroke-width="1.08"/>
<path d="M482.61,490.55 C478.92,494.11 468.87,506.29 460.5,511.94 C452.14,517.59 442.13,521.41 432.41,524.47 C422.7,527.52 407.24,529.3 402.21,530.26" stroke="#717171" stroke-width="0.88"/>
<path d="M603.59,462.06 C601.44,463.62 594.75,468.02 590.68,471.42 C586.61,474.82 583.16,478.95 579.19,482.48 C575.22,486 568.9,490.88 566.84,492.57" stroke="#5e5e5e" stroke-width="0.69"/>
<path d="M365.3,282.9 C364.79,285.83 363.11,294.6 362.26,300.49 C361.41,306.37 359.62,312.43 360.19,318.21 C360.77,324 364.79,332.36 365.71,335.18" stroke="#535353" stroke-width="0.63"/>
<path d="M612.06,424.48 C614.56,428.54 623.44,440.17 627.08,448.87 C630.72,457.57 630.52,467.84 633.9,476.69 C637.28,485.54 645.11,497.77 647.35,501.98" stroke="#5c5c5c" stroke-width="0.63"/>
<path d="M358.96,225.3 C363.37,227.08 376.72,232.15 385.43,235.96 C394.15,239.76 403.76,242.56 411.25,248.11 C418.75,253.66 427.22,265.73 430.42,269.25" stroke="#5e5e5e" stroke-width="0.84"/>
<path d="M506.83,229.91 C510.73,231.8 522.8,236.85 530.23,241.26 C537.65,245.68 545.45,250.26 551.39,256.38 C557.34,262.49 563.47,274.37 565.89,277.97" stroke="#6b6b6b" stroke-width="0.79"/>
<path d="M389.95,448.06 C389.29,450.93 387.99,459.81 386.02,465.33 C384.06,470.86 381.25,476.2 378.18,481.22 C375.11,486.23 369.37,493.07 367.61,495.44" stroke="#595959" stroke-width="0.92"/>
<path d="M493.43,468.57 C495.18,470.88 500.01,478.22 503.92,482.47 C507.83,486.73 513.64,489.47 516.9,494.1 C520.15,498.72 522.35,507.55 523.44,510.24" stroke="#757575" stroke-width="0.65"/>
<path d="M433.27,391.09 C434.86,392.76 439.28,398.24 442.84,401.13 C446.39,404.02 450.47,406.48 454.61,408.45 C458.76,410.43 465.54,412.22 467.73,412.97" stroke="#555555" stroke-width="0.92"/>
<path d="M474.18,355.52 C479.28,355.69 494.79,357.85 504.76,356.51 C514.73,355.18 524.56,351.27 534,347.49 C543.43,343.7 556.8,336.09 561.36,333.8" stroke="#696969" stroke-width="0.98"/>
<path d="M373.05,385.25 C372.46,389.31 371.45,401.66 369.54,409.6 C367.63,417.53 365.23,425.61 361.57,432.87 C357.91,440.12 349.92,449.74 347.6,453.11" stroke="#484848" stroke-width="1.02"/>
<path d="M471.73,436.32 C469.5,436.12 462.55,436.34 458.33,435.09 C454.11,433.85 450.42,430.88 446.41,428.86 C442.41,426.84 436.33,423.97 434.31,422.99" stroke="#585858" stroke-width="0.63"/>
<path d="M548.37,361.76 C551.83,364.29 561.54,373.23 569.12,376.9 C576.71,380.56 585.51,383.2 593.87,383.76 C602.24,384.33 615.08,380.87 619.33,380.29" stroke="#777777" stroke-width="0.69"/>
<path d="M516.31,429.21 C513.54,431.71 505.48,439.5 499.73,444.23 C493.97,448.96 488.23,453.99 481.77,457.58 C475.31,461.18 464.44,464.45 460.97,465.82" stroke="#5f5f5f" stroke-width="0.87"/>
<path d="M463.72,419.31 C464.73,421.82 468.12,429.23 469.76,434.37 C471.4,439.51 472.42,444.86 473.54,450.15 C474.66,455.44 475.99,463.45 476.48,466.11" stroke="#494949" stroke-width="0.67"/>
<path d="M505.92,422.1 C507.28,423.76 512.17,428.32 514.1,432.05 C516.04,435.78 516.86,440.25 517.53,444.46 C518.21,448.68 518.06,455.18 518.16,457.33" stroke="#6f6f6f" stroke-width="1.06"/>
<path d="M599.65,277.99 C599.09,281.51 596.89,292.03 596.33,299.11 C595.77,306.2 596.77,313.4 596.28,320.5 C595.79,327.59 593.86,338.15 593.38,341.68" stroke="#585858" stroke-width="0.79"/>
<path d="M550.64,210.31 C553.77,214.43 565.1,225.88 569.39,235.04 C573.68,244.21 576.41,255.21 576.38,265.28 C576.35,275.35 570.38,290.44 569.18,295.47" stroke="#6c6c6c" stroke-width="0.67"/>
<path d="M585.53,246.65 C586.18,248.96 587.64,256.1 589.42,260.54 C591.19,264.98 594.71,268.78 596.2,273.28 C597.68,277.78 597.99,285.17 598.35,287.54" stroke="#515151" stroke-width="0.8"/>
<path d="M600,416.76 C603.79,415.37 614.98,410.41 622.77,408.44 C630.57,406.47 639.4,407.75 646.77,404.94 C654.14,402.13 663.63,393.81 667,391.58" stroke="#5c5c5c" stroke-width="0.67"/>
<path d="M418.41,316.63 C420.95,321.19 426.81,336.46 433.64,344 C440.47,351.53 450.23,356.97 459.39,361.82 C468.56,366.67 483.74,371.22 488.61,373.1" stroke="#4a4a4a" stroke-width="0.96"/>
<path d="M581.51,367.38 C579.48,369.21 573.84,375.44 569.29,378.36 C564.74,381.29 559.39,383.16 554.23,384.94 C549.07,386.72 540.97,388.35 538.32,389.03" stroke="#5a5a5a" stroke-width="0.95"/>
<path d="M615.2,392.61 C619.88,391.84 634.75,391.56 643.28,388.01 C651.8,384.47 658.93,377.25 666.35,371.36 C673.77,365.48 684.24,355.8 687.81,352.68" stroke="#4d4d4d" stroke-width="0.81"/>
<path d="M573.38,215.62 C570.17,216.72 560.68,220.55 554.13,222.21 C547.58,223.88 540.79,224.67 534.08,225.62 C527.36,226.56 517.23,227.51 513.86,227.89" stroke="#4a4a4a" stroke-width="1.06"/>
<path d="M605.23,433.37 C608.17,435.89 616.98,443.48 622.91,448.48 C628.84,453.47 636.39,457.26 640.8,463.34 C645.22,469.42 647.97,481.35 649.41,484.95" stroke="#696969" stroke-width="1"/>
<path d="M398.34,285.31 C397.29,288.73 394.99,299.39 392.02,305.82 C389.04,312.25 384.65,318.12 380.47,323.91 C376.29,329.7 369.21,337.81 366.96,340.59" stroke="#5b5b5b" stroke-width="0.75"/>
<path d="M497.48,238.22 C496.76,240.61 494.01,247.68 493.18,252.57 C492.35,257.46 492.87,262.56 492.49,267.53 C492.11,272.51 491.19,279.95 490.93,282.43" stroke="#727272" stroke-width="0.63"/>
<path d="M491.06,454.41 C487.21,456.43 475.15,461.74 467.98,466.56 C460.81,471.38 455.45,479.13 448.01,483.34 C440.58,487.55 427.46,490.42 423.35,491.83" stroke="#5a5a5a" stroke-width="0.75"/>
</g>
<g filter="url(#blur3)" fill="none" stroke-linecap="round" opacity="0.45">
<path d="M455.37,299.26 C456.72,301.96 460.24,309.81 463.49,315.49 C466.73,321.17 472.95,330.36 474.85,333.34" stroke="#c8c8c8" stroke-width="5.2"/>
<path d="M448.88,315.49 C447.26,318.19 442.93,326.85 439.14,331.71 C435.36,336.58 431.57,340.64 426.16,344.7 C420.75,348.75 409.93,354.16 406.69,356.06" stroke="#909090" stroke-width="2.6"/>
<path d="M435.9,391.76 C431.03,388.51 415.61,378.24 406.69,372.28 C397.76,366.33 389.65,359.57 382.34,356.06 C375.04,352.54 366.11,352 362.87,351.19" stroke="#909090" stroke-width="3.12"/>
<path d="M487.83,388.51 C489.18,393.92 491.89,410.15 495.94,420.97 C500,431.79 509.47,448.02 512.17,453.43" stroke="#888888" stroke-width="2.6"/>
<path d="M536.51,396.63 C539.22,393.92 545.98,384.46 552.74,380.4 C559.5,376.34 567.62,372.28 577.08,372.28 C586.55,372.28 604.13,379.05 609.54,380.4" stroke="#808080" stroke-width="2.6"/>
<path d="M568.97,429.08 C571.68,425.03 579.79,410.15 585.2,404.74 C590.61,399.33 598.72,397.98 601.43,396.63" stroke="#707070" stroke-width="2.34"/>
<path d="M439.14,420.97 C441.85,425.03 449.96,437.2 455.37,445.31 C460.78,453.43 468.89,465.6 471.6,469.66" stroke="#707070" stroke-width="2.34"/>
<path d="M474.85,336.58 C474.3,330.36 470.52,312.24 471.6,299.26 C472.68,286.27 478.9,272.75 481.34,258.69 C483.77,244.62 485.39,222.17 486.21,214.87" stroke="#c0c0c0" stroke-width="6.76"/>
<path d="M481.34,323.6 C482.42,315.49 486.21,293.04 487.83,274.91 C489.45,256.79 490.53,224.88 491.07,214.87" stroke="#a0a0a0" stroke-width="4.16"/>
<path d="M463.49,307.37 C456.72,308.45 435.09,311.97 422.91,313.86 C410.74,315.76 400.46,317.11 390.46,318.73 C380.45,320.35 367.47,322.79 362.87,323.6" stroke="#b8b8b8" stroke-width="6.76"/>
<path d="M471.6,372.28 C465.65,375.53 444.01,380.94 435.9,391.76 C427.78,402.58 426.43,420.43 422.91,437.2 C419.4,453.97 416.15,483.18 414.8,492.38" stroke="#a8a8a8" stroke-width="5.2"/>
<path d="M499.19,369.04 C505.41,373.64 524.88,386.62 536.51,396.63 C548.14,406.64 552.74,416.91 568.97,429.08 C585.2,441.26 623.07,462.89 633.88,469.66" stroke="#b8b8b8" stroke-width="6.24"/>
<path d="M468.35,380.4 C468.89,385.81 467,400.68 471.6,412.86 C476.2,425.03 486.48,440.17 495.94,453.43 C505.41,466.68 522.99,485.88 528.4,492.38" stroke="#b0b0b0" stroke-width="5.72"/>
<path d="M520.28,347.94 C524.34,344.43 533.81,331.44 544.63,326.85 C555.45,322.25 570.32,320.89 585.2,320.35 C600.08,319.81 625.77,323.06 633.88,323.6" stroke="#a8a8a8" stroke-width="5.2"/>
<path d="M463.49,356.06 C458.08,353.89 441.85,344.43 431.03,343.07 C420.21,341.72 409.93,346.32 398.57,347.94 C387.21,349.57 368.82,352 362.87,352.81" stroke="#909090" stroke-width="3.64"/>
<path d="M455.37,323.6 C452.67,329.01 443.2,346.59 439.14,356.06 C435.09,365.52 432.38,376.34 431.03,380.4" stroke="#909090" stroke-width="3.64"/>
<path d="M520.28,420.97 C522.99,426.38 531.1,441.53 536.51,453.43 C541.92,465.33 550.04,485.88 552.74,492.38" stroke="#808080" stroke-width="3.38"/>
<path d="M593.31,372.28 C596.02,364.17 606.57,337.12 609.54,323.6 C612.52,310.08 610.89,296.55 611.16,291.14" stroke="#707070" stroke-width="2.6"/>
<path d="M593.31,380.4 C598.72,384.46 617.93,395.28 625.77,404.74 C633.61,414.21 637.94,431.79 640.38,437.2" stroke="#707070" stroke-width="2.6"/>
<path d="M362.87,388.51 C367.47,395.28 383.15,411.77 390.46,429.08 C397.76,446.4 403.98,481.83 406.69,492.38" stroke="#606060" stroke-width="2.6"/>
<path d="M504.06,388.51 C505.41,396.63 512.17,419.89 512.17,437.2 C512.17,454.51 505.41,483.18 504.06,492.38" stroke="#808080" stroke-width="3.12"/>
</g>
<g fill="none" opacity="0.45">
<path d="M455.37,299.26 C456.72,301.96 460.24,309.81 463.49,315.49 C466.73,321.17 472.95,330.36 474.85,333.34" stroke="#c8c8c8" stroke-width="5.5" stroke-dasharray="0.7,2.1,1.0,3.4,0.6,1.6,0.9,4.2"/>
<path d="M474.85,336.58 C474.3,330.36 470.52,312.24 471.6,299.26 C472.68,286.27 478.9,272.75 481.34,258.69 C483.77,244.62 485.39,222.17 486.21,214.87" stroke="#c0c0c0" stroke-width="6.1" stroke-dasharray="0.7,2.1,1.0,3.4,0.6,1.6,0.9,4.2"/>
<path d="M481.34,323.6 C482.42,315.49 486.21,293.04 487.83,274.91 C489.45,256.79 490.53,224.88 491.07,214.87" stroke="#a0a0a0" stroke-width="5.1" stroke-dasharray="0.7,2.1,1.0,3.4,0.6,1.6,0.9,4.2"/>
<path d="M463.49,307.37 C456.72,308.45 435.09,311.97 422.91,313.86 C410.74,315.76 400.46,317.11 390.46,318.73 C380.45,320.35 367.47,322.79 362.87,323.6" stroke="#b8b8b8" stroke-width="6.1" stroke-dasharray="0.7,2.1,1.0,3.4,0.6,1.6,0.9,4.2"/>
<path d="M471.6,372.28 C465.65,375.53 444.01,380.94 435.9,391.76 C427.78,402.58 426.43,420.43 422.91,437.2 C419.4,453.97 416.15,483.18 414.8,492.38" stroke="#a8a8a8" stroke-width="5.5" stroke-dasharray="0.7,2.1,1.0,3.4,0.6,1.6,0.9,4.2"/>
<path d="M499.19,369.04 C505.41,373.64 524.88,386.62 536.51,396.63 C548.14,406.64 552.74,416.91 568.97,429.08 C585.2,441.26 623.07,462.89 633.88,469.66" stroke="#b8b8b8" stroke-width="5.9" stroke-dasharray="0.7,2.1,1.0,3.4,0.6,1.6,0.9,4.2"/>
<path d="M468.35,380.4 C468.89,385.81 467,400.68 471.6,412.86 C476.2,425.03 486.48,440.17 495.94,453.43 C505.41,466.68 522.99,485.88 528.4,492.38" stroke="#b0b0b0" stroke-width="5.7" stroke-dasharray="0.7,2.1,1.0,3.4,0.6,1.6,0.9,4.2"/>
<path d="M520.28,347.94 C524.34,344.43 533.81,331.44 544.63,326.85 C555.45,322.25 570.32,320.89 585.2,320.35 C600.08,319.81 625.77,323.06 633.88,323.6" stroke="#a8a8a8" stroke-width="5.5" stroke-dasharray="0.7,2.1,1.0,3.4,0.6,1.6,0.9,4.2"/>
<path d="M463.49,356.06 C458.08,353.89 441.85,344.43 431.03,343.07 C420.21,341.72 409.93,346.32 398.57,347.94 C387.21,349.57 368.82,352 362.87,352.81" stroke="#909090" stroke-width="4.9" stroke-dasharray="0.7,2.1,1.0,3.4,0.6,1.6,0.9,4.2"/>
<path d="M455.37,323.6 C452.67,329.01 443.2,346.59 439.14,356.06 C435.09,365.52 432.38,376.34 431.03,380.4" stroke="#909090" stroke-width="4.9" stroke-dasharray="0.7,2.1,1.0,3.4,0.6,1.6,0.9,4.2"/>
<path d="M520.28,420.97 C522.99,426.38 531.1,441.53 536.51,453.43 C541.92,465.33 550.04,485.88 552.74,492.38" stroke="#808080" stroke-width="4.8" stroke-dasharray="0.7,2.1,1.0,3.4,0.6,1.6,0.9,4.2"/>
</g>
<g fill="none" stroke-linecap="round">
<path d="M455.37,299.26 C456.72,301.96 460.24,309.81 463.49,315.49 C466.73,321.17 472.95,330.36 474.85,333.34" stroke="#c8c8c8" stroke-width="1.6"/>
<path d="M448.88,315.49 C447.26,318.19 442.93,326.85 439.14,331.71 C435.36,336.58 431.57,340.64 426.16,344.7 C420.75,348.75 409.93,354.16 406.69,356.06" stroke="#909090" stroke-width="0.8"/>
<path d="M435.9,391.76 C431.03,388.51 415.61,378.24 406.69,372.28 C397.76,366.33 389.65,359.57 382.34,356.06 C375.04,352.54 366.11,352 362.87,351.19" stroke="#909090" stroke-width="0.96"/>
<path d="M487.83,388.51 C489.18,393.92 491.89,410.15 495.94,420.97 C500,431.79 509.47,448.02 512.17,453.43" stroke="#888888" stroke-width="0.8"/>
<path d="M536.51,396.63 C539.22,393.92 545.98,384.46 552.74,380.4 C559.5,376.34 567.62,372.28 577.08,372.28 C586.55,372.28 604.13,379.05 609.54,380.4" stroke="#808080" stroke-width="0.8"/>
<path d="M568.97,429.08 C571.68,425.03 579.79,410.15 585.2,404.74 C590.61,399.33 598.72,397.98 601.43,396.63" stroke="#707070" stroke-width="0.72"/>
<path d="M439.14,420.97 C441.85,425.03 449.96,437.2 455.37,445.31 C460.78,453.43 468.89,465.6 471.6,469.66" stroke="#707070" stroke-width="0.72"/>
<path d="M474.85,336.58 C474.3,330.36 470.52,312.24 471.6,299.26 C472.68,286.27 478.9,272.75 481.34,258.69 C483.77,244.62 485.39,222.17 486.21,214.87" stroke="#c0c0c0" stroke-width="2.08"/>
<path d="M481.34,323.6 C482.42,315.49 486.21,293.04 487.83,274.91 C489.45,256.79 490.53,224.88 491.07,214.87" stroke="#a0a0a0" stroke-width="1.28"/>
<path d="M463.49,307.37 C456.72,308.45 435.09,311.97 422.91,313.86 C410.74,315.76 400.46,317.11 390.46,318.73 C380.45,320.35 367.47,322.79 362.87,323.6" stroke="#b8b8b8" stroke-width="2.08"/>
<path d="M471.6,372.28 C465.65,375.53 444.01,380.94 435.9,391.76 C427.78,402.58 426.43,420.43 422.91,437.2 C419.4,453.97 416.15,483.18 414.8,492.38" stroke="#a8a8a8" stroke-width="1.6"/>
<path d="M499.19,369.04 C505.41,373.64 524.88,386.62 536.51,396.63 C548.14,406.64 552.74,416.91 568.97,429.08 C585.2,441.26 623.07,462.89 633.88,469.66" stroke="#b8b8b8" stroke-width="1.92"/>
<path d="M468.35,380.4 C468.89,385.81 467,400.68 471.6,412.86 C476.2,425.03 486.48,440.17 495.94,453.43 C505.41,466.68 522.99,485.88 528.4,492.38" stroke="#b0b0b0" stroke-width="1.76"/>
<path d="M520.28,347.94 C524.34,344.43 533.81,331.44 544.63,326.85 C555.45,322.25 570.32,320.89 585.2,320.35 C600.08,319.81 625.77,323.06 633.88,323.6" stroke="#a8a8a8" stroke-width="1.6"/>
<path d="M463.49,356.06 C458.08,353.89 441.85,344.43 431.03,343.07 C420.21,341.72 409.93,346.32 398.57,347.94 C387.21,349.57 368.82,352 362.87,352.81" stroke="#909090" stroke-width="1.12"/>
<path d="M455.37,323.6 C452.67,329.01 443.2,346.59 439.14,356.06 C435.09,365.52 432.38,376.34 431.03,380.4" stroke="#909090" stroke-width="1.12"/>
<path d="M520.28,420.97 C522.99,426.38 531.1,441.53 536.51,453.43 C541.92,465.33 550.04,485.88 552.74,492.38" stroke="#808080" stroke-width="1.04"/>
<path d="M593.31,372.28 C596.02,364.17 606.57,337.12 609.54,323.6 C612.52,310.08 610.89,296.55 611.16,291.14" stroke="#707070" stroke-width="0.8"/>
<path d="M593.31,380.4 C598.72,384.46 617.93,395.28 625.77,404.74 C633.61,414.21 637.94,431.79 640.38,437.2" stroke="#707070" stroke-width="0.8"/>
<path d="M362.87,388.51 C367.47,395.28 383.15,411.77 390.46,429.08 C397.76,446.4 403.98,481.83 406.69,492.38" stroke="#606060" stroke-width="0.8"/>
<path d="M504.06,388.51 C505.41,396.63 512.17,419.89 512.17,437.2 C512.17,454.51 505.41,483.18 504.06,492.38" stroke="#808080" stroke-width="0.96"/>
</g>
<ellipse cx="483" cy="356" rx="13" ry="20" fill="#555" stroke="#8a8a8a" stroke-width="1.5" transform="rotate(10 483 356)" filter="url(#blur1)"/>
</g>
<rect x="527.3" y="222.2" width="101.4" height="100.9" fill="#161616" />
<g clip-path="url(#im2i)">
<g filter="url(#blur4)" fill="none" stroke-linecap="round">
<path d="M526,278 C533.33,277.17 557.67,274.83 570,273 C582.33,271.17 590,269.83 600,267 C610,264.17 625,257.83 630,256" stroke="#b0b0b0" stroke-width="17"/>
<path d="M602,283 C598.33,285.83 587.83,293 580,300 C572.17,307 559.17,320.83 555,325" stroke="#8a8a8a" stroke-width="8"/>
<path d="M600,283 C602.5,285.5 609.67,293.17 615,298 C620.33,302.83 629.17,309.67 632,312" stroke="#8a8a8a" stroke-width="7"/>
<path d="M526,250 C533.33,252 557.67,258.67 570,262 C582.33,265.33 595,268.67 600,270" stroke="#5a5a5a" stroke-width="5"/>
</g></g>
<rect x="527.3" y="222.2" width="101.4" height="100.9" fill="none" stroke="#CC79A7" stroke-width="2.9"/>
<rect x="503.2" y="339" width="23.6" height="22.7" fill="none" stroke="#CC79A7" stroke-width="1.6" stroke-dasharray="4,3"/>
<text x="372.6" y="245.5" font-size="24.5" fill="#CC79A7" textLength="96" lengthAdjust="spacingAndGlyphs">ChRger1</text>
<text x="371.1" y="459.2" font-size="25.5" fill="#fff" textLength="65" lengthAdjust="spacingAndGlyphs">10 µm</text>
<rect x="384.9" y="473.9" width="36" height="8.3" fill="#fff" />
<rect x="71.6" y="497.2" width="278.8" height="278.4" fill="#141414" />
<g clip-path="url(#im3)">
<ellipse cx="134.91" cy="550.8" rx="50" ry="45" fill="#262626" opacity="0.8" filter="url(#blur8)"/>
<ellipse cx="207.94" cy="542.69" rx="35" ry="30" fill="#242424" opacity="0.8" filter="url(#blur8)"/>
<ellipse cx="280.97" cy="688.74" rx="35" ry="35" fill="#222" opacity="0.8" filter="url(#blur8)"/>
<ellipse cx="313.43" cy="737.43" rx="35" ry="30" fill="#222" opacity="0.8" filter="url(#blur8)"/>
<g fill="none" stroke-linecap="round">
<path d="M349.36,756.1 C353.81,758.07 366.99,764.49 376.1,767.92 C385.2,771.35 394.56,776.16 403.98,776.68 C413.41,777.2 427.88,771.96 432.66,771.02" stroke="#4e4e4e" stroke-width="0.69"/>
<path d="M184.88,617.09 C181.95,617.48 173.12,619.7 167.32,619.41 C161.52,619.11 155.64,617.23 150.08,615.34 C144.51,613.46 136.6,609.31 133.91,608.11" stroke="#767676" stroke-width="0.73"/>
<path d="M161.07,646.93 C158.43,647.7 150.61,651.09 145.23,651.57 C139.86,652.05 134.31,650.19 128.83,649.8 C123.34,649.42 115.08,649.35 112.33,649.26" stroke="#616161" stroke-width="0.98"/>
<path d="M190.36,679.21 C194.32,682.02 206.53,690.04 214.1,696.1 C221.67,702.16 227.74,710.3 235.77,715.57 C243.8,720.83 257.86,725.65 262.27,727.67" stroke="#656565" stroke-width="0.92"/>
<path d="M91.7,651.32 C93.56,653.71 98.4,661.75 102.89,665.66 C107.38,669.56 113.07,672.53 118.65,674.75 C124.22,676.97 133.39,678.26 136.34,678.96" stroke="#727272" stroke-width="0.67"/>
<path d="M275.73,647.69 C276.59,650.91 278.72,660.75 280.9,667.04 C283.09,673.33 284.9,680.29 288.83,685.43 C292.77,690.57 301.91,695.81 304.52,697.89" stroke="#767676" stroke-width="0.69"/>
<path d="M293.22,728.19 C293.24,730.63 294.09,738.1 293.34,742.87 C292.59,747.64 290.03,752.1 288.72,756.8 C287.4,761.51 285.98,768.73 285.43,771.11" stroke="#5c5c5c" stroke-width="0.95"/>
<path d="M259.19,637.45 C261.52,639.91 268.82,647.03 273.16,652.21 C277.49,657.4 282.68,662.5 285.21,668.57 C287.75,674.65 287.84,685.3 288.37,688.65" stroke="#777777" stroke-width="0.92"/>
<path d="M189.29,678.16 C185.63,679.73 174.92,685.3 167.34,687.57 C159.76,689.84 151.72,691.39 143.83,691.79 C135.94,692.19 123.98,690.28 120.01,689.98" stroke="#585858" stroke-width="0.94"/>
<path d="M131.23,659.23 C129.18,663.56 121.9,676.17 118.91,685.2 C115.92,694.22 117.19,704.92 113.29,713.38 C109.38,721.84 98.44,732.18 95.48,735.94" stroke="#686868" stroke-width="0.76"/>
<path d="M184.05,619.65 C186.54,623.35 194.43,634.2 199,641.85 C203.57,649.49 206.5,658.19 211.47,665.53 C216.44,672.87 225.92,682.52 228.81,685.91" stroke="#4d4d4d" stroke-width="0.62"/>
<path d="M116.98,653.33 C112.48,656.18 99.04,664.83 89.96,670.39 C80.89,675.96 72.4,683.8 62.5,686.72 C52.61,689.64 35.9,687.73 30.58,687.93" stroke="#4f4f4f" stroke-width="0.6"/>
<path d="M257.14,678.03 C256.88,681.42 256.88,691.78 255.54,698.41 C254.19,705.04 249.94,711.17 249.05,717.81 C248.15,724.44 249.98,734.83 250.16,738.23" stroke="#606060" stroke-width="0.74"/>
<path d="M229.79,553.42 C227.62,553.93 221.13,556.24 216.73,556.48 C212.34,556.71 207.73,555.89 203.43,554.83 C199.12,553.76 192.97,550.88 190.88,550.09" stroke="#606060" stroke-width="0.83"/>
<path d="M239.77,670.59 C238.82,674.72 235.9,687.1 234.07,695.38 C232.24,703.66 231.95,712.54 228.8,720.26 C225.64,727.98 217.42,738.14 215.14,741.72" stroke="#6c6c6c" stroke-width="0.86"/>
<path d="M84.87,567.3 C87.25,569.61 94.73,576.2 99.11,581.13 C103.49,586.06 106.24,592.71 111.17,596.9 C116.1,601.08 125.76,604.68 128.68,606.24" stroke="#5a5a5a" stroke-width="0.9"/>
<path d="M321.74,654.16 C321.52,658.45 321.53,671.42 320.44,679.92 C319.36,688.43 317.29,696.85 315.21,705.18 C313.14,713.52 309.2,725.82 308,729.95" stroke="#5e5e5e" stroke-width="1.09"/>
<path d="M167.64,758.34 C166.46,760.1 162.02,765.06 160.55,768.93 C159.07,772.8 158.88,777.33 158.79,781.55 C158.7,785.77 159.82,792.13 160.02,794.24" stroke="#5e5e5e" stroke-width="0.83"/>
<path d="M293.31,645.44 C290.62,648.8 281.73,658.36 277.15,665.58 C272.56,672.8 269.93,681.24 265.8,688.77 C261.66,696.31 254.58,707.14 252.34,710.81" stroke="#4d4d4d" stroke-width="0.78"/>
<path d="M354,676.29 C350.7,679.02 341.49,688.38 334.22,692.7 C326.94,697.02 317.52,697.78 310.34,702.21 C303.15,706.63 294.3,716.41 291.1,719.25" stroke="#646464" stroke-width="1.04"/>
<path d="M202.08,730.35 C204.97,731.79 214.2,735.3 219.42,738.96 C224.64,742.62 229.03,747.61 233.42,752.31 C237.82,757.02 243.73,764.71 245.79,767.2" stroke="#666666" stroke-width="0.69"/>
<path d="M290.78,504.88 C290.28,508.87 287.2,520.96 287.77,528.82 C288.34,536.69 290.9,544.86 294.2,552.08 C297.5,559.3 305.34,568.82 307.56,572.17" stroke="#525252" stroke-width="0.68"/>
<path d="M194.44,539.65 C191.28,542.17 182.1,550.19 175.45,554.76 C168.8,559.34 162.04,564.5 154.55,567.12 C147.06,569.74 134.52,569.92 130.51,570.48" stroke="#4b4b4b" stroke-width="1.08"/>
<path d="M286.26,567.13 C288.91,571.34 296.12,584.55 302.15,592.42 C308.18,600.29 317.69,605.9 322.44,614.34 C327.2,622.78 329.31,638.26 330.68,643.05" stroke="#707070" stroke-width="0.68"/>
<path d="M225.58,641.21 C226.02,643.89 227.8,651.91 228.23,657.31 C228.66,662.72 226.93,668.51 228.18,673.63 C229.44,678.76 234.51,685.68 235.78,688.08" stroke="#606060" stroke-width="0.94"/>
<path d="M321.55,621.02 C317.78,624.42 307.49,636.34 298.93,641.46 C290.38,646.58 278.94,646.78 270.23,651.72 C261.52,656.66 250.62,667.87 246.69,671.1" stroke="#767676" stroke-width="0.74"/>
<path d="M324.5,687.87 C320.46,688.16 308.32,688.79 300.28,689.64 C292.23,690.49 284.2,693.22 276.22,692.97 C268.24,692.72 256.39,688.94 252.42,688.14" stroke="#5b5b5b" stroke-width="0.83"/>
<path d="M131.86,768.12 C131.49,771.27 130.63,780.76 129.68,787.02 C128.73,793.29 126.37,799.46 126.15,805.72 C125.92,811.99 127.97,821.48 128.33,824.63" stroke="#777777" stroke-width="0.86"/>
<path d="M167.15,496.17 C168.29,497.69 171.75,502.24 174,505.32 C176.24,508.41 177.95,512 180.6,514.66 C183.26,517.32 188.38,520.17 189.93,521.27" stroke="#4b4b4b" stroke-width="1.03"/>
<path d="M166.98,708.56 C164.64,711.67 157.87,721.2 152.93,727.22 C148,733.24 141.07,738.01 137.39,744.65 C133.72,751.3 131.97,763.35 130.89,767.09" stroke="#787878" stroke-width="0.81"/>
<path d="M70.02,534.51 C71.39,536.07 75.08,541.27 78.26,543.86 C81.43,546.45 85.73,547.63 89.08,550.05 C92.42,552.47 96.78,557.02 98.32,558.41" stroke="#545454" stroke-width="0.7"/>
<path d="M293.58,651.8 C295.38,653.86 300.82,660.01 304.38,664.17 C307.93,668.33 311.29,672.66 314.9,676.77 C318.51,680.89 324.17,686.83 326.03,688.85" stroke="#5b5b5b" stroke-width="1.04"/>
<path d="M348.81,646.59 C348.49,648.79 348.14,655.55 346.93,659.78 C345.71,664 343.8,668.18 341.52,671.95 C339.24,675.71 334.63,680.64 333.25,682.38" stroke="#696969" stroke-width="0.83"/>
<path d="M234.63,555.97 C233.02,560.28 229.48,573.94 224.97,581.83 C220.47,589.72 211.92,595.34 207.61,603.29 C203.3,611.25 200.53,625.19 199.12,629.56" stroke="#5c5c5c" stroke-width="1.07"/>
<path d="M275.94,716.26 C279.66,719.82 290.24,731.22 298.28,737.58 C306.31,743.94 315,749.85 324.14,754.43 C333.29,759.02 348.29,763.31 353.12,765.08" stroke="#707070" stroke-width="0.64"/>
<path d="M227.64,634.37 C227.23,636.39 225.96,642.43 225.17,646.47 C224.38,650.51 223.58,654.55 222.92,658.61 C222.25,662.67 221.46,668.8 221.17,670.84" stroke="#5a5a5a" stroke-width="0.84"/>
</g>
<g filter="url(#blur3)" fill="none" stroke-linecap="round" opacity="0.45">
<path d="M143.03,494 C143.84,502.11 146,526.46 147.9,542.69 C149.79,558.91 152.22,575.14 154.39,591.37 C156.55,607.6 158.72,629.24 160.88,640.06 C163.04,650.88 166.29,653.58 167.37,656.28" stroke="#a0a0a0" stroke-width="7.8"/>
<path d="M138.16,494 C138.7,502.11 139.78,526.46 141.41,542.69 C143.03,558.91 145.19,575.14 147.9,591.37 C150.6,607.6 156.01,631.94 157.63,640.06" stroke="#909090" stroke-width="4.16"/>
<path d="M105.7,494 C107.87,504.82 113.28,539.98 118.69,558.91 C124.09,577.85 131.4,592.72 138.16,607.6 C144.92,622.48 155.74,641.41 159.26,648.17" stroke="#909090" stroke-width="4.68"/>
<path d="M70,599.49 C74.06,602.46 84.88,610.57 94.34,617.34 C103.81,624.1 115.98,633.57 126.8,640.06 C137.62,646.55 151.95,652.23 159.26,656.28 C166.56,660.34 168.72,663.05 170.62,664.4" stroke="#a8a8a8" stroke-width="6.24"/>
<path d="M183.6,666.02 C189.01,667.64 205.24,671.97 216.06,675.76 C226.88,679.55 237.69,683.87 248.51,688.74 C259.33,693.61 270.15,698.21 280.97,704.97 C291.79,711.73 301.53,721.2 313.43,729.31 C325.33,737.43 345.88,749.6 352.38,753.66" stroke="#b0b0b0" stroke-width="8.32"/>
<path d="M183.6,669.27 C189.01,671.16 205.24,676.3 216.06,680.63 C226.88,684.96 237.69,689.82 248.51,695.23 C259.33,700.64 270.15,706.05 280.97,713.08 C291.79,720.12 301.53,729.31 313.43,737.43 C325.33,745.54 345.88,757.71 352.38,761.77" stroke="#909090" stroke-width="4.16"/>
<path d="M183.6,498.87 C186.3,503.47 194.42,517.8 199.83,526.46 C205.24,535.11 210.65,543.23 216.06,550.8 C221.47,558.37 228.5,567.3 232.28,571.9 C236.07,576.49 237.69,577.31 238.78,578.39" stroke="#a0a0a0" stroke-width="7.28"/>
<path d="M256.63,607.6 C259.33,613.01 269.34,629.24 272.86,640.06 C276.37,650.88 275.02,661.69 277.72,672.51 C280.43,683.33 284.49,694.15 289.08,704.97 C293.68,715.79 298.55,726.61 305.31,737.43 C312.08,748.25 325.6,764.47 329.66,769.88" stroke="#a8a8a8" stroke-width="8.84"/>
<path d="M264.74,607.6 C267.45,613.01 276.91,629.24 280.97,640.06 C285.03,650.88 285.03,661.69 289.08,672.51 C293.14,683.33 298.55,694.15 305.31,704.97 C312.08,715.79 321.81,727.96 329.66,737.43 C337.5,746.89 348.59,757.71 352.38,761.77" stroke="#909090" stroke-width="5.2"/>
<path d="M165.75,680.63 C164.94,684.68 162.77,695.5 160.88,704.97 C158.99,714.44 156.55,725.53 154.39,737.43 C152.22,749.33 148.98,769.88 147.9,776.38" stroke="#a0a0a0" stroke-width="4.68"/>
<path d="M173.86,680.63 C176.84,686.04 186.03,702.27 191.71,713.08 C197.39,723.9 202.53,734.99 207.94,745.54 C213.35,756.09 221.47,771.24 224.17,776.38" stroke="#a0a0a0" stroke-width="4.68"/>
<path d="M183.6,656.28 C187.66,653.58 199.83,644.93 207.94,640.06 C216.06,635.19 226.88,629.78 232.28,627.07 C237.69,624.37 239.05,624.37 240.4,623.83" stroke="#909090" stroke-width="3.38"/>
<path d="M86.23,672.51 C91.64,675.22 107.87,687.39 118.69,688.74 C129.5,690.09 145.73,681.98 151.14,680.63" stroke="#707070" stroke-width="2.6"/>
<path d="M297.2,607.6 C299.9,613.01 305.31,629.24 313.43,640.06 C321.54,650.88 340.47,667.1 345.88,672.51" stroke="#808080" stroke-width="3.12"/>
<path d="M94.34,542.69 C97.05,550.8 105.16,577.85 110.57,591.37 C115.98,604.89 124.09,618.42 126.8,623.83" stroke="#707070" stroke-width="2.6"/>
<path d="M199.83,696.86 C202.53,699.56 212,706.32 216.06,713.08 C220.11,719.85 222.82,733.37 224.17,737.43" stroke="#808080" stroke-width="2.6"/>
<path d="M280.97,680.63 C286.38,680.63 301.53,681.98 313.43,680.63 C325.33,679.28 345.88,673.87 352.38,672.51" stroke="#808080" stroke-width="2.6"/>
</g>
<g fill="none" opacity="0.45">
<path d="M143.03,494 C143.84,502.11 146,526.46 147.9,542.69 C149.79,558.91 152.22,575.14 154.39,591.37 C156.55,607.6 158.72,629.24 160.88,640.06 C163.04,650.88 166.29,653.58 167.37,656.28" stroke="#a0a0a0" stroke-width="6.5" stroke-dasharray="0.7,2.1,1.0,3.4,0.6,1.6,0.9,4.2"/>
<path d="M138.16,494 C138.7,502.11 139.78,526.46 141.41,542.69 C143.03,558.91 145.19,575.14 147.9,591.37 C150.6,607.6 156.01,631.94 157.63,640.06" stroke="#909090" stroke-width="5.1" stroke-dasharray="0.7,2.1,1.0,3.4,0.6,1.6,0.9,4.2"/>
<path d="M105.7,494 C107.87,504.82 113.28,539.98 118.69,558.91 C124.09,577.85 131.4,592.72 138.16,607.6 C144.92,622.48 155.74,641.41 159.26,648.17" stroke="#909090" stroke-width="5.3" stroke-dasharray="0.7,2.1,1.0,3.4,0.6,1.6,0.9,4.2"/>
<path d="M70,599.49 C74.06,602.46 84.88,610.57 94.34,617.34 C103.81,624.1 115.98,633.57 126.8,640.06 C137.62,646.55 151.95,652.23 159.26,656.28 C166.56,660.34 168.72,663.05 170.62,664.4" stroke="#a8a8a8" stroke-width="5.9" stroke-dasharray="0.7,2.1,1.0,3.4,0.6,1.6,0.9,4.2"/>
<path d="M183.6,666.02 C189.01,667.64 205.24,671.97 216.06,675.76 C226.88,679.55 237.69,683.87 248.51,688.74 C259.33,693.61 270.15,698.21 280.97,704.97 C291.79,711.73 301.53,721.2 313.43,729.31 C325.33,737.43 345.88,749.6 352.38,753.66" stroke="#b0b0b0" stroke-width="6.7" stroke-dasharray="0.7,2.1,1.0,3.4,0.6,1.6,0.9,4.2"/>
<path d="M183.6,669.27 C189.01,671.16 205.24,676.3 216.06,680.63 C226.88,684.96 237.69,689.82 248.51,695.23 C259.33,700.64 270.15,706.05 280.97,713.08 C291.79,720.12 301.53,729.31 313.43,737.43 C325.33,745.54 345.88,757.71 352.38,761.77" stroke="#909090" stroke-width="5.1" stroke-dasharray="0.7,2.1,1.0,3.4,0.6,1.6,0.9,4.2"/>
<path d="M183.6,498.87 C186.3,503.47 194.42,517.8 199.83,526.46 C205.24,535.11 210.65,543.23 216.06,550.8 C221.47,558.37 228.5,567.3 232.28,571.9 C236.07,576.49 237.69,577.31 238.78,578.39" stroke="#a0a0a0" stroke-width="6.3" stroke-dasharray="0.7,2.1,1.0,3.4,0.6,1.6,0.9,4.2"/>
<path d="M256.63,607.6 C259.33,613.01 269.34,629.24 272.86,640.06 C276.37,650.88 275.02,661.69 277.72,672.51 C280.43,683.33 284.49,694.15 289.08,704.97 C293.68,715.79 298.55,726.61 305.31,737.43 C312.08,748.25 325.6,764.47 329.66,769.88" stroke="#a8a8a8" stroke-width="6.9" stroke-dasharray="0.7,2.1,1.0,3.4,0.6,1.6,0.9,4.2"/>
<path d="M264.74,607.6 C267.45,613.01 276.91,629.24 280.97,640.06 C285.03,650.88 285.03,661.69 289.08,672.51 C293.14,683.33 298.55,694.15 305.31,704.97 C312.08,715.79 321.81,727.96 329.66,737.43 C337.5,746.89 348.59,757.71 352.38,761.77" stroke="#909090" stroke-width="5.5" stroke-dasharray="0.7,2.1,1.0,3.4,0.6,1.6,0.9,4.2"/>
<path d="M165.75,680.63 C164.94,684.68 162.77,695.5 160.88,704.97 C158.99,714.44 156.55,725.53 154.39,737.43 C152.22,749.33 148.98,769.88 147.9,776.38" stroke="#a0a0a0" stroke-width="5.3" stroke-dasharray="0.7,2.1,1.0,3.4,0.6,1.6,0.9,4.2"/>
<path d="M173.86,680.63 C176.84,686.04 186.03,702.27 191.71,713.08 C197.39,723.9 202.53,734.99 207.94,745.54 C213.35,756.09 221.47,771.24 224.17,776.38" stroke="#a0a0a0" stroke-width="5.3" stroke-dasharray="0.7,2.1,1.0,3.4,0.6,1.6,0.9,4.2"/>
<path d="M183.6,656.28 C187.66,653.58 199.83,644.93 207.94,640.06 C216.06,635.19 226.88,629.78 232.28,627.07 C237.69,624.37 239.05,624.37 240.4,623.83" stroke="#909090" stroke-width="4.8" stroke-dasharray="0.7,2.1,1.0,3.4,0.6,1.6,0.9,4.2"/>
</g>
<g fill="none" stroke-linecap="round">
<path d="M143.03,494 C143.84,502.11 146,526.46 147.9,542.69 C149.79,558.91 152.22,575.14 154.39,591.37 C156.55,607.6 158.72,629.24 160.88,640.06 C163.04,650.88 166.29,653.58 167.37,656.28" stroke="#a0a0a0" stroke-width="2.4"/>
<path d="M138.16,494 C138.7,502.11 139.78,526.46 141.41,542.69 C143.03,558.91 145.19,575.14 147.9,591.37 C150.6,607.6 156.01,631.94 157.63,640.06" stroke="#909090" stroke-width="1.28"/>
<path d="M105.7,494 C107.87,504.82 113.28,539.98 118.69,558.91 C124.09,577.85 131.4,592.72 138.16,607.6 C144.92,622.48 155.74,641.41 159.26,648.17" stroke="#909090" stroke-width="1.44"/>
<path d="M70,599.49 C74.06,602.46 84.88,610.57 94.34,617.34 C103.81,624.1 115.98,633.57 126.8,640.06 C137.62,646.55 151.95,652.23 159.26,656.28 C166.56,660.34 168.72,663.05 170.62,664.4" stroke="#a8a8a8" stroke-width="1.92"/>
<path d="M183.6,666.02 C189.01,667.64 205.24,671.97 216.06,675.76 C226.88,679.55 237.69,683.87 248.51,688.74 C259.33,693.61 270.15,698.21 280.97,704.97 C291.79,711.73 301.53,721.2 313.43,729.31 C325.33,737.43 345.88,749.6 352.38,753.66" stroke="#b0b0b0" stroke-width="2.56"/>
<path d="M183.6,669.27 C189.01,671.16 205.24,676.3 216.06,680.63 C226.88,684.96 237.69,689.82 248.51,695.23 C259.33,700.64 270.15,706.05 280.97,713.08 C291.79,720.12 301.53,729.31 313.43,737.43 C325.33,745.54 345.88,757.71 352.38,761.77" stroke="#909090" stroke-width="1.28"/>
<path d="M183.6,498.87 C186.3,503.47 194.42,517.8 199.83,526.46 C205.24,535.11 210.65,543.23 216.06,550.8 C221.47,558.37 228.5,567.3 232.28,571.9 C236.07,576.49 237.69,577.31 238.78,578.39" stroke="#a0a0a0" stroke-width="2.24"/>
<path d="M256.63,607.6 C259.33,613.01 269.34,629.24 272.86,640.06 C276.37,650.88 275.02,661.69 277.72,672.51 C280.43,683.33 284.49,694.15 289.08,704.97 C293.68,715.79 298.55,726.61 305.31,737.43 C312.08,748.25 325.6,764.47 329.66,769.88" stroke="#a8a8a8" stroke-width="2.72"/>
<path d="M264.74,607.6 C267.45,613.01 276.91,629.24 280.97,640.06 C285.03,650.88 285.03,661.69 289.08,672.51 C293.14,683.33 298.55,694.15 305.31,704.97 C312.08,715.79 321.81,727.96 329.66,737.43 C337.5,746.89 348.59,757.71 352.38,761.77" stroke="#909090" stroke-width="1.6"/>
<path d="M165.75,680.63 C164.94,684.68 162.77,695.5 160.88,704.97 C158.99,714.44 156.55,725.53 154.39,737.43 C152.22,749.33 148.98,769.88 147.9,776.38" stroke="#a0a0a0" stroke-width="1.44"/>
<path d="M173.86,680.63 C176.84,686.04 186.03,702.27 191.71,713.08 C197.39,723.9 202.53,734.99 207.94,745.54 C213.35,756.09 221.47,771.24 224.17,776.38" stroke="#a0a0a0" stroke-width="1.44"/>
<path d="M183.6,656.28 C187.66,653.58 199.83,644.93 207.94,640.06 C216.06,635.19 226.88,629.78 232.28,627.07 C237.69,624.37 239.05,624.37 240.4,623.83" stroke="#909090" stroke-width="1.04"/>
<path d="M86.23,672.51 C91.64,675.22 107.87,687.39 118.69,688.74 C129.5,690.09 145.73,681.98 151.14,680.63" stroke="#707070" stroke-width="0.8"/>
<path d="M297.2,607.6 C299.9,613.01 305.31,629.24 313.43,640.06 C321.54,650.88 340.47,667.1 345.88,672.51" stroke="#808080" stroke-width="0.96"/>
<path d="M94.34,542.69 C97.05,550.8 105.16,577.85 110.57,591.37 C115.98,604.89 124.09,618.42 126.8,623.83" stroke="#707070" stroke-width="0.8"/>
<path d="M199.83,696.86 C202.53,699.56 212,706.32 216.06,713.08 C220.11,719.85 222.82,733.37 224.17,737.43" stroke="#808080" stroke-width="0.8"/>
<path d="M280.97,680.63 C286.38,680.63 301.53,681.98 313.43,680.63 C325.33,679.28 345.88,673.87 352.38,672.51" stroke="#808080" stroke-width="0.8"/>
</g>
<circle cx="272.86" cy="659.53" r="5.5" fill="#9a9a9a" filter="url(#blur1)"/>
<circle cx="276.1" cy="667.64" r="4" fill="#9a9a9a" filter="url(#blur1)"/>
<circle cx="269.61" cy="666.02" r="3.5" fill="#9a9a9a" filter="url(#blur1)"/>
<circle cx="203.07" cy="737.43" r="4" fill="#9a9a9a" filter="url(#blur1)"/>
<circle cx="134.91" cy="620.58" r="4.5" fill="#9a9a9a" filter="url(#blur1)"/>
<circle cx="123.55" cy="617.34" r="4" fill="#9a9a9a" filter="url(#blur1)"/>
<ellipse cx="170.6" cy="666" rx="17" ry="13" fill="#555" stroke="#8a8a8a" stroke-width="1.5" transform="rotate(-20 170.6 666)" filter="url(#blur1)"/>
</g>
<rect x="237.2" y="506.7" width="100.6" height="100.9" fill="#161616" />
<g clip-path="url(#im3i)">
<g filter="url(#blur4)" fill="none" stroke-linecap="round">
<path d="M236,526 C243.33,528.67 262.67,535 280,542 C297.33,549 330,563.67 340,568" stroke="#a8a8a8" stroke-width="15"/>
<path d="M236,550 C243.33,552.17 262.67,556 280,563 C297.33,570 330,587.17 340,592" stroke="#a0a0a0" stroke-width="16"/>
<path d="M236,575 C241.67,577.5 259.33,584.17 270,590 C280.67,595.83 295,606.67 300,610" stroke="#505050" stroke-width="10"/>
</g></g>
<rect x="237.2" y="506.7" width="100.6" height="100.9" fill="none" stroke="#0072B2" stroke-width="2.9"/>
<rect x="204.4" y="666.3" width="23.3" height="23.3" fill="none" stroke="#0072B2" stroke-width="1.6" stroke-dasharray="4,3"/>
<text x="82.1" y="529.8" font-size="24.5" fill="#0072B2" textLength="99.4" lengthAdjust="spacingAndGlyphs">ChRger2</text>
<text x="80.6" y="743.5" font-size="25.5" fill="#fff" textLength="65" lengthAdjust="spacingAndGlyphs">10 µm</text>
<rect x="94.4" y="758.2" width="36" height="8.3" fill="#fff" />
<rect x="362.5" y="497.2" width="278.7" height="278.4" fill="#0b0b0b" />
<g clip-path="url(#im4)">
<ellipse cx="474.85" cy="607.6" rx="25" ry="40" fill="#1e1e1e" opacity="0.8" filter="url(#blur8)"/>
<g fill="none" stroke-linecap="round">
<path d="M421.19,660.82 C418.64,662.12 411.09,666.26 405.89,668.64 C400.69,671.03 395.05,672.51 389.98,675.13 C384.91,677.75 377.9,682.82 375.48,684.36" stroke="#595959" stroke-width="0.8"/>
<path d="M540.4,591.08 C537,593.38 527.44,601.82 520.01,604.88 C512.58,607.95 503.91,608.06 495.83,609.48 C487.75,610.9 475.58,612.77 471.53,613.42" stroke="#515151" stroke-width="0.78"/>
<path d="M377.94,668.34 C377.02,670.94 375.1,679.2 372.42,683.91 C369.74,688.62 364.22,691.81 361.87,696.62 C359.52,701.42 358.9,710.06 358.3,712.75" stroke="#5a5a5a" stroke-width="0.77"/>
<path d="M497.27,704.49 C496.08,709.1 493.22,723.17 490.16,732.16 C487.1,741.15 481.26,749.3 478.91,758.42 C476.57,767.53 476.56,782.11 476.09,786.85" stroke="#595959" stroke-width="0.69"/>
<path d="M556.35,752.1 C554.85,755.64 550.77,766.49 547.36,773.38 C543.95,780.27 540.76,787.62 535.9,793.44 C531.05,799.26 521.17,805.83 518.22,808.31" stroke="#595959" stroke-width="0.71"/>
<path d="M383.71,756.22 C384.03,758.4 385.77,764.96 385.66,769.3 C385.54,773.64 384.61,778.23 383.01,782.26 C381.41,786.3 377.23,791.65 376.07,793.53" stroke="#494949" stroke-width="0.6"/>
<path d="M415.07,505.92 C411.55,505.77 400.65,506.64 393.92,505.01 C387.2,503.38 381.44,497.5 374.71,496.14 C367.98,494.77 357.08,496.71 353.56,496.82" stroke="#767676" stroke-width="0.93"/>
<path d="M509.68,658.19 C512.86,660.49 523,666.75 528.75,672.02 C534.49,677.3 540.28,683.17 544.16,689.84 C548.03,696.51 550.7,708.35 552.01,712.05" stroke="#515151" stroke-width="0.85"/>
<path d="M517.16,667.44 C520.98,669.54 533.76,674.36 540.09,680.03 C546.42,685.7 551.33,693.7 555.14,701.43 C558.95,709.16 561.65,722.24 562.95,726.4" stroke="#565656" stroke-width="0.6"/>
<path d="M595.26,729.79 C592.59,732.94 582.85,741.55 579.24,748.73 C575.62,755.91 574.65,764.72 573.56,772.88 C572.48,781.04 572.87,793.54 572.73,797.67" stroke="#4b4b4b" stroke-width="0.85"/>
<path d="M552.65,745.09 C550.33,748.13 542.78,756.88 538.73,763.33 C534.67,769.77 530.87,776.63 528.33,783.78 C525.79,790.93 524.31,802.47 523.51,806.21" stroke="#535353" stroke-width="0.63"/>
<path d="M499.02,638.4 C499.49,643.51 501.23,658.84 501.83,669.09 C502.43,679.34 502.64,689.64 502.63,699.91 C502.61,710.18 501.89,725.58 501.74,730.72" stroke="#555555" stroke-width="0.98"/>
<path d="M575,554.44 C572.95,559.04 568.63,574.24 562.67,582.01 C556.71,589.79 547.4,595.21 539.25,601.09 C531.1,606.97 518.01,614.59 513.76,617.29" stroke="#787878" stroke-width="0.75"/>
<path d="M559.92,740.17 C561.03,741.73 563.77,747.12 566.6,749.55 C569.43,751.98 573.27,753.59 576.89,754.74 C580.5,755.88 586.38,756.15 588.28,756.43" stroke="#4d4d4d" stroke-width="0.84"/>
<path d="M538.7,625.55 C535.27,627.41 524.68,632.48 518.16,636.71 C511.64,640.93 506.2,646.87 499.58,650.89 C492.96,654.91 481.95,659.16 478.43,660.82" stroke="#4d4d4d" stroke-width="0.67"/>
<path d="M495.46,701.09 C498.14,704.31 505.59,714.61 511.56,720.45 C517.53,726.28 524.85,730.7 531.29,736.08 C537.72,741.46 547.02,749.96 550.16,752.74" stroke="#4c4c4c" stroke-width="0.89"/>
<path d="M630.69,676.07 C628.77,679.61 621.26,689.78 619.19,697.36 C617.13,704.93 619.82,713.71 618.31,721.54 C616.8,729.36 611.49,740.51 610.12,744.3" stroke="#727272" stroke-width="1.01"/>
<path d="M460.35,690.23 C461.27,695.3 464.23,710.45 465.89,720.61 C467.54,730.77 470.31,740.99 470.25,751.18 C470.2,761.36 466.33,776.61 465.55,781.69" stroke="#5c5c5c" stroke-width="0.99"/>
<path d="M361.68,666.29 C366.77,666.89 382.32,671.01 392.21,669.84 C402.11,668.67 412.47,664.47 421.07,659.27 C429.68,654.07 440.06,642.08 443.86,638.64" stroke="#4d4d4d" stroke-width="1.03"/>
<path d="M590.38,672.24 C589.48,675.46 587.4,685.33 585.02,691.53 C582.65,697.73 578.79,703.35 576.12,709.45 C573.45,715.56 570.19,725.04 569,728.15" stroke="#6e6e6e" stroke-width="1.1"/>
<path d="M363.81,658.57 C364.25,661.53 365.21,670.48 366.45,676.32 C367.69,682.16 368.46,688.49 371.25,693.61 C374.03,698.72 381.2,704.77 383.19,707" stroke="#585858" stroke-width="0.67"/>
<path d="M562.61,699.89 C566.29,703.38 577.65,713.57 584.73,720.84 C591.81,728.11 599.68,735.07 605.1,743.51 C610.51,751.95 615.18,766.81 617.2,771.47" stroke="#777777" stroke-width="0.61"/>
<path d="M513.62,752.52 C511.9,754.39 507.06,760.39 503.27,763.75 C499.48,767.11 494.78,769.43 490.87,772.67 C486.95,775.91 481.63,781.43 479.78,783.19" stroke="#4e4e4e" stroke-width="0.61"/>
<path d="M615.75,545.55 C612.54,547.95 601.78,554.11 596.49,559.94 C591.21,565.77 587.75,573.42 584.05,580.52 C580.35,587.61 575.93,598.83 574.3,602.49" stroke="#4b4b4b" stroke-width="0.97"/>
<path d="M430.44,768.6 C431.74,771.3 436.61,779.12 438.21,784.79 C439.8,790.47 439.96,796.7 439.99,802.66 C440.02,808.62 438.66,817.56 438.39,820.54" stroke="#5e5e5e" stroke-width="0.89"/>
<path d="M446.23,722.07 C442.2,722.02 430.06,722.58 422.08,721.77 C414.1,720.96 406.27,717.18 398.37,717.2 C390.47,717.22 378.63,721.11 374.68,721.89" stroke="#555555" stroke-width="0.84"/>
<path d="M421.52,709.9 C418.45,710.98 409.42,715.33 403.09,716.36 C396.76,717.4 389.79,717.48 383.56,716.12 C377.33,714.75 368.68,709.51 365.71,708.18" stroke="#484848" stroke-width="0.79"/>
<path d="M395.05,762.1 C393.71,763.5 389.66,767.7 386.98,770.51 C384.3,773.33 382.02,776.68 378.97,778.99 C375.91,781.31 370.36,783.51 368.64,784.41" stroke="#5b5b5b" stroke-width="0.89"/>
<path d="M596.35,655.66 C595.13,657.02 591.78,661.44 589.07,663.85 C586.36,666.26 583.04,667.98 580.08,670.12 C577.12,672.26 572.77,675.58 571.31,676.68" stroke="#767676" stroke-width="0.86"/>
<path d="M510.56,772.91 C512.68,777.82 519.31,792.45 523.26,802.39 C527.2,812.33 529.44,823.07 534.24,832.55 C539.04,842.03 549.08,854.81 552.04,859.27" stroke="#676767" stroke-width="0.84"/>
</g>
<g filter="url(#blur3)" fill="none" stroke-linecap="round" opacity="0.45">
<path d="M481.34,628.7 C480.25,623.83 477.01,609.76 474.85,599.49 C472.68,589.21 470.52,576.49 468.35,567.03 C466.19,557.56 463.49,552.15 461.86,542.69 C460.24,533.22 458.62,517.8 458.62,510.23 C458.62,502.66 461.32,499.41 461.86,497.25" stroke="#c0c0c0" stroke-width="7.8"/>
<path d="M486.21,628.7 C485.12,623.83 481.88,609.76 479.71,599.49 C477.55,589.21 475.12,577.85 473.22,567.03 C471.33,556.21 468.62,546.2 468.35,534.57 C468.08,522.94 471.06,503.47 471.6,497.25" stroke="#a0a0a0" stroke-width="4.16"/>
<path d="M482.96,599.49 C485.12,595.43 491.07,583.8 495.94,575.14 C500.81,566.49 506.76,555.67 512.17,547.55 C517.58,539.44 522.99,534.57 528.4,526.46 C533.81,518.34 541.92,503.47 544.63,498.87" stroke="#b8b8b8" stroke-width="6.24"/>
<path d="M499.19,659.53 C501.35,662.24 507.3,669.54 512.17,675.76 C517.04,681.98 522.99,691.18 528.4,696.86 C533.81,702.54 539.22,706.32 544.63,709.84 C550.04,713.36 552.74,716.06 560.86,717.95 C568.97,719.85 583.85,723.36 593.31,721.2 C602.78,719.04 609.81,711.73 617.66,704.97 C625.5,698.21 636.59,684.68 640.38,680.63" stroke="#c0c0c0" stroke-width="6.76"/>
<path d="M544.63,709.84 C548.68,713.08 559.5,722.01 568.97,729.31 C578.44,736.62 589.53,745.81 601.43,753.66 C613.33,761.5 633.88,772.59 640.38,776.38" stroke="#a8a8a8" stroke-width="5.2"/>
<path d="M471.6,656.28 C467.54,658.99 455.37,665.75 447.26,672.51 C439.14,679.28 430.22,688.74 422.91,696.86 C415.61,704.97 408.85,713.08 403.44,721.2 C398.03,729.31 393.97,736.35 390.46,745.54 C386.94,754.74 383.7,771.24 382.34,776.38" stroke="#a8a8a8" stroke-width="5.2"/>
<path d="M552.74,721.2 C552.74,726.61 551.93,744.46 552.74,753.66 C553.55,762.85 556.8,772.59 557.61,776.38" stroke="#909090" stroke-width="3.64"/>
<path d="M362.87,542.69 C366.11,548.09 376.39,564.32 382.34,575.14 C388.29,585.96 394.51,596.78 398.57,607.6 C402.63,618.42 402.63,626.53 406.69,640.06 C410.74,653.58 420.21,680.63 422.91,688.74" stroke="#707070" stroke-width="3.12"/>
<path d="M390.46,591.37 C387.75,599.49 378.83,629.24 374.23,640.06 C369.63,650.88 364.76,653.58 362.87,656.28" stroke="#606060" stroke-width="2.6"/>
<path d="M504.06,631.94 C512.17,636 536.51,648.17 552.74,656.28 C568.97,664.4 586.82,672.51 601.43,680.63 C616.03,688.74 633.88,700.91 640.38,704.97" stroke="#606060" stroke-width="2.6"/>
<path d="M568.97,623.83 C574.38,625.18 589.53,629.24 601.43,631.94 C613.33,634.65 633.88,638.7 640.38,640.06" stroke="#606060" stroke-width="2.6"/>
<path d="M422.91,542.69 C424.27,553.5 432.38,588.67 431.03,607.6 C429.68,626.53 417.5,648.17 414.8,656.28" stroke="#606060" stroke-width="2.6"/>
<path d="M439.14,680.63 C441.85,687.39 451.31,705.24 455.37,721.2 C459.43,737.16 462.13,767.18 463.49,776.38" stroke="#606060" stroke-width="2.6"/>
<path d="M601.43,721.2 C604.13,725.26 611.16,738.78 617.66,745.54 C624.15,752.3 636.59,759.07 640.38,761.77" stroke="#909090" stroke-width="3.12"/>
</g>
<g fill="none" opacity="0.45">
<path d="M481.34,628.7 C480.25,623.83 477.01,609.76 474.85,599.49 C472.68,589.21 470.52,576.49 468.35,567.03 C466.19,557.56 463.49,552.15 461.86,542.69 C460.24,533.22 458.62,517.8 458.62,510.23 C458.62,502.66 461.32,499.41 461.86,497.25" stroke="#c0c0c0" stroke-width="6.5" stroke-dasharray="0.7,2.1,1.0,3.4,0.6,1.6,0.9,4.2"/>
<path d="M486.21,628.7 C485.12,623.83 481.88,609.76 479.71,599.49 C477.55,589.21 475.12,577.85 473.22,567.03 C471.33,556.21 468.62,546.2 468.35,534.57 C468.08,522.94 471.06,503.47 471.6,497.25" stroke="#a0a0a0" stroke-width="5.1" stroke-dasharray="0.7,2.1,1.0,3.4,0.6,1.6,0.9,4.2"/>
<path d="M482.96,599.49 C485.12,595.43 491.07,583.8 495.94,575.14 C500.81,566.49 506.76,555.67 512.17,547.55 C517.58,539.44 522.99,534.57 528.4,526.46 C533.81,518.34 541.92,503.47 544.63,498.87" stroke="#b8b8b8" stroke-width="5.9" stroke-dasharray="0.7,2.1,1.0,3.4,0.6,1.6,0.9,4.2"/>
<path d="M499.19,659.53 C501.35,662.24 507.3,669.54 512.17,675.76 C517.04,681.98 522.99,691.18 528.4,696.86 C533.81,702.54 539.22,706.32 544.63,709.84 C550.04,713.36 552.74,716.06 560.86,717.95 C568.97,719.85 583.85,723.36 593.31,721.2 C602.78,719.04 609.81,711.73 617.66,704.97 C625.5,698.21 636.59,684.68 640.38,680.63" stroke="#c0c0c0" stroke-width="6.1" stroke-dasharray="0.7,2.1,1.0,3.4,0.6,1.6,0.9,4.2"/>
<path d="M544.63,709.84 C548.68,713.08 559.5,722.01 568.97,729.31 C578.44,736.62 589.53,745.81 601.43,753.66 C613.33,761.5 633.88,772.59 640.38,776.38" stroke="#a8a8a8" stroke-width="5.5" stroke-dasharray="0.7,2.1,1.0,3.4,0.6,1.6,0.9,4.2"/>
<path d="M471.6,656.28 C467.54,658.99 455.37,665.75 447.26,672.51 C439.14,679.28 430.22,688.74 422.91,696.86 C415.61,704.97 408.85,713.08 403.44,721.2 C398.03,729.31 393.97,736.35 390.46,745.54 C386.94,754.74 383.7,771.24 382.34,776.38" stroke="#a8a8a8" stroke-width="5.5" stroke-dasharray="0.7,2.1,1.0,3.4,0.6,1.6,0.9,4.2"/>
<path d="M552.74,721.2 C552.74,726.61 551.93,744.46 552.74,753.66 C553.55,762.85 556.8,772.59 557.61,776.38" stroke="#909090" stroke-width="4.9" stroke-dasharray="0.7,2.1,1.0,3.4,0.6,1.6,0.9,4.2"/>
</g>
<g fill="none" stroke-linecap="round">
<path d="M481.34,628.7 C480.25,623.83 477.01,609.76 474.85,599.49 C472.68,589.21 470.52,576.49 468.35,567.03 C466.19,557.56 463.49,552.15 461.86,542.69 C460.24,533.22 458.62,517.8 458.62,510.23 C458.62,502.66 461.32,499.41 461.86,497.25" stroke="#c0c0c0" stroke-width="2.4"/>
<path d="M486.21,628.7 C485.12,623.83 481.88,609.76 479.71,599.49 C477.55,589.21 475.12,577.85 473.22,567.03 C471.33,556.21 468.62,546.2 468.35,534.57 C468.08,522.94 471.06,503.47 471.6,497.25" stroke="#a0a0a0" stroke-width="1.28"/>
<path d="M482.96,599.49 C485.12,595.43 491.07,583.8 495.94,575.14 C500.81,566.49 506.76,555.67 512.17,547.55 C517.58,539.44 522.99,534.57 528.4,526.46 C533.81,518.34 541.92,503.47 544.63,498.87" stroke="#b8b8b8" stroke-width="1.92"/>
<path d="M499.19,659.53 C501.35,662.24 507.3,669.54 512.17,675.76 C517.04,681.98 522.99,691.18 528.4,696.86 C533.81,702.54 539.22,706.32 544.63,709.84 C550.04,713.36 552.74,716.06 560.86,717.95 C568.97,719.85 583.85,723.36 593.31,721.2 C602.78,719.04 609.81,711.73 617.66,704.97 C625.5,698.21 636.59,684.68 640.38,680.63" stroke="#c0c0c0" stroke-width="2.08"/>
<path d="M544.63,709.84 C548.68,713.08 559.5,722.01 568.97,729.31 C578.44,736.62 589.53,745.81 601.43,753.66 C613.33,761.5 633.88,772.59 640.38,776.38" stroke="#a8a8a8" stroke-width="1.6"/>
<path d="M471.6,656.28 C467.54,658.99 455.37,665.75 447.26,672.51 C439.14,679.28 430.22,688.74 422.91,696.86 C415.61,704.97 408.85,713.08 403.44,721.2 C398.03,729.31 393.97,736.35 390.46,745.54 C386.94,754.74 383.7,771.24 382.34,776.38" stroke="#a8a8a8" stroke-width="1.6"/>
<path d="M552.74,721.2 C552.74,726.61 551.93,744.46 552.74,753.66 C553.55,762.85 556.8,772.59 557.61,776.38" stroke="#909090" stroke-width="1.12"/>
<path d="M362.87,542.69 C366.11,548.09 376.39,564.32 382.34,575.14 C388.29,585.96 394.51,596.78 398.57,607.6 C402.63,618.42 402.63,626.53 406.69,640.06 C410.74,653.58 420.21,680.63 422.91,688.74" stroke="#707070" stroke-width="0.96"/>
<path d="M390.46,591.37 C387.75,599.49 378.83,629.24 374.23,640.06 C369.63,650.88 364.76,653.58 362.87,656.28" stroke="#606060" stroke-width="0.8"/>
<path d="M504.06,631.94 C512.17,636 536.51,648.17 552.74,656.28 C568.97,664.4 586.82,672.51 601.43,680.63 C616.03,688.74 633.88,700.91 640.38,704.97" stroke="#606060" stroke-width="0.8"/>
<path d="M568.97,623.83 C574.38,625.18 589.53,629.24 601.43,631.94 C613.33,634.65 633.88,638.7 640.38,640.06" stroke="#606060" stroke-width="0.8"/>
<path d="M422.91,542.69 C424.27,553.5 432.38,588.67 431.03,607.6 C429.68,626.53 417.5,648.17 414.8,656.28" stroke="#606060" stroke-width="0.8"/>
<path d="M439.14,680.63 C441.85,687.39 451.31,705.24 455.37,721.2 C459.43,737.16 462.13,767.18 463.49,776.38" stroke="#606060" stroke-width="0.8"/>
<path d="M601.43,721.2 C604.13,725.26 611.16,738.78 617.66,745.54 C624.15,752.3 636.59,759.07 640.38,761.77" stroke="#909090" stroke-width="0.96"/>
</g>
<ellipse cx="487.8" cy="648.2" rx="12" ry="19" fill="#555" stroke="#8a8a8a" stroke-width="1.5" transform="rotate(-25 487.8 648.2)" filter="url(#blur1)"/>
</g>
<rect x="527.6" y="507" width="101.1" height="100.6" fill="#161616" />
<g clip-path="url(#im4i)">
<g filter="url(#blur4)" fill="none" stroke-linecap="round">
<path d="M526,524 C533.33,528.67 552.67,539.67 570,552 C587.33,564.33 620,590.33 630,598" stroke="#b8b8b8" stroke-width="17"/>
<path d="M526,550 C531.67,554.5 546,566.67 560,577 C574,587.33 601.67,606.17 610,612" stroke="#a8a8a8" stroke-width="15"/>
<path d="M540,505 C548.33,510.83 575,529.17 590,540 C605,550.83 623.33,565 630,570" stroke="#606060" stroke-width="8"/>
</g></g>
<rect x="527.6" y="507" width="101.1" height="100.6" fill="none" stroke="#009E73" stroke-width="2.9"/>
<rect x="516.2" y="683" width="22.3" height="22.8" fill="none" stroke="#009E73" stroke-width="1.6" stroke-dasharray="4,3"/>
<text x="373" y="529.8" font-size="24.5" fill="#009E73" textLength="99" lengthAdjust="spacingAndGlyphs">ChRger3</text>
<text x="371.5" y="743.5" font-size="25.5" fill="#fff" textLength="65" lengthAdjust="spacingAndGlyphs">10 µm</text>
<rect x="385.3" y="758.2" width="36" height="8.3" fill="#fff" />
<text x="711.7" y="24" font-size="31" textLength="14.83" lengthAdjust="spacingAndGlyphs" font-weight="bold">c</text>
<rect x="851.5" y="50.5" width="25" height="20.5" fill="#2a2a2a" stroke="#000" stroke-width="3"/>
<text x="886" y="68.6" font-size="26.5" textLength="55" lengthAdjust="spacingAndGlyphs">Peak</text>
<rect x="952.5" y="50.5" width="24.5" height="20.5" fill="#fff" stroke="#000" stroke-width="3"/>
<text x="986.8" y="68.6" font-size="26.5" textLength="137" lengthAdjust="spacingAndGlyphs">Steady state</text>
<rect x="858.8" y="363.97" width="20.5" height="4.43" fill="#808080" />
<rect x="880.8" y="366.58" width="17.5" height="1.82" fill="#fff" stroke="#808080" stroke-width="3"/>
<rect x="914.6" y="349.56" width="20.5" height="18.84" fill="#000" />
<rect x="936.6" y="352.17" width="17.5" height="16.23" fill="#fff" stroke="#000" stroke-width="3"/>
<rect x="970.2" y="277.54" width="20.5" height="90.86" fill="#CC79A7" />
<rect x="992.2" y="279.6" width="17.5" height="88.8" fill="#fff" stroke="#CC79A7" stroke-width="3"/>
<rect x="1025.5" y="308.01" width="20.5" height="60.39" fill="#0072B2" />
<rect x="1047.5" y="310.07" width="17.5" height="58.33" fill="#fff" stroke="#0072B2" stroke-width="3"/>
<rect x="1081.2" y="301.92" width="20.5" height="66.48" fill="#009E73" />
<rect x="1103.2" y="304.53" width="17.5" height="63.87" fill="#fff" stroke="#009E73" stroke-width="3"/>
<circle cx="866.44" cy="346.24" r="4.9" fill="#6a6a6a" stroke="#fff" stroke-width="1.1" />
<circle cx="869.2" cy="359.54" r="4.9" fill="#6a6a6a" stroke="#fff" stroke-width="1.1" />
<circle cx="867.63" cy="362.86" r="4.9" fill="#6a6a6a" stroke="#fff" stroke-width="1.1" />
<circle cx="869.74" cy="365.08" r="4.9" fill="#6a6a6a" stroke="#fff" stroke-width="1.1" />
<circle cx="869.93" cy="366.18" r="4.9" fill="#6a6a6a" stroke="#fff" stroke-width="1.1" />
<circle cx="864.89" cy="367.29" r="4.9" fill="#6a6a6a" stroke="#fff" stroke-width="1.1" />
<circle cx="885.42" cy="347.35" r="4.9" fill="#6a6a6a" stroke="#fff" stroke-width="1.1" />
<circle cx="892.84" cy="360.64" r="4.9" fill="#6a6a6a" stroke="#fff" stroke-width="1.1" />
<circle cx="887.63" cy="363.97" r="4.9" fill="#6a6a6a" stroke="#fff" stroke-width="1.1" />
<circle cx="887.41" cy="366.18" r="4.9" fill="#6a6a6a" stroke="#fff" stroke-width="1.1" />
<circle cx="894.26" cy="367.29" r="4.9" fill="#6a6a6a" stroke="#fff" stroke-width="1.1" />
<circle cx="924.33" cy="295.27" r="4.9" fill="#6a6a6a" stroke="#fff" stroke-width="1.1" />
<circle cx="927.63" cy="317.43" r="4.9" fill="#6a6a6a" stroke="#fff" stroke-width="1.1" />
<circle cx="924.39" cy="328.51" r="4.9" fill="#6a6a6a" stroke="#fff" stroke-width="1.1" />
<circle cx="925.85" cy="346.24" r="4.9" fill="#6a6a6a" stroke="#fff" stroke-width="1.1" />
<circle cx="921.46" cy="348.46" r="4.9" fill="#6a6a6a" stroke="#fff" stroke-width="1.1" />
<circle cx="925.81" cy="350.67" r="4.9" fill="#6a6a6a" stroke="#fff" stroke-width="1.1" />
<circle cx="927.91" cy="351.78" r="4.9" fill="#6a6a6a" stroke="#fff" stroke-width="1.1" />
<circle cx="924.81" cy="355.1" r="4.9" fill="#6a6a6a" stroke="#fff" stroke-width="1.1" />
<circle cx="926.77" cy="357.32" r="4.9" fill="#6a6a6a" stroke="#fff" stroke-width="1.1" />
<circle cx="926.14" cy="362.86" r="4.9" fill="#6a6a6a" stroke="#fff" stroke-width="1.1" />
<circle cx="920.68" cy="365.08" r="4.9" fill="#6a6a6a" stroke="#fff" stroke-width="1.1" />
<circle cx="947.92" cy="296.38" r="4.9" fill="#6a6a6a" stroke="#fff" stroke-width="1.1" />
<circle cx="946.42" cy="319.65" r="4.9" fill="#6a6a6a" stroke="#fff" stroke-width="1.1" />
<circle cx="943.81" cy="329.62" r="4.9" fill="#6a6a6a" stroke="#fff" stroke-width="1.1" />
<circle cx="941.38" cy="347.35" r="4.9" fill="#6a6a6a" stroke="#fff" stroke-width="1.1" />
<circle cx="948.89" cy="349.56" r="4.9" fill="#6a6a6a" stroke="#fff" stroke-width="1.1" />
<circle cx="945.35" cy="351.78" r="4.9" fill="#6a6a6a" stroke="#fff" stroke-width="1.1" />
<circle cx="947.57" cy="354" r="4.9" fill="#6a6a6a" stroke="#fff" stroke-width="1.1" />
<circle cx="949.01" cy="357.32" r="4.9" fill="#6a6a6a" stroke="#fff" stroke-width="1.1" />
<circle cx="947.53" cy="362.86" r="4.9" fill="#6a6a6a" stroke="#fff" stroke-width="1.1" />
<circle cx="949.39" cy="366.18" r="4.9" fill="#6a6a6a" stroke="#fff" stroke-width="1.1" />
<circle cx="979.25" cy="142.37" r="4.9" fill="#6a6a6a" stroke="#fff" stroke-width="1.1" />
<circle cx="982.91" cy="240.98" r="4.9" fill="#6a6a6a" stroke="#fff" stroke-width="1.1" />
<circle cx="979.7" cy="248.74" r="4.9" fill="#6a6a6a" stroke="#fff" stroke-width="1.1" />
<circle cx="984.12" cy="288.62" r="4.9" fill="#6a6a6a" stroke="#fff" stroke-width="1.1" />
<circle cx="983.61" cy="301.92" r="4.9" fill="#6a6a6a" stroke="#fff" stroke-width="1.1" />
<circle cx="976.58" cy="306.35" r="4.9" fill="#6a6a6a" stroke="#fff" stroke-width="1.1" />
<circle cx="976.92" cy="308.57" r="4.9" fill="#6a6a6a" stroke="#fff" stroke-width="1.1" />
<circle cx="977.65" cy="324.08" r="4.9" fill="#6a6a6a" stroke="#fff" stroke-width="1.1" />
<circle cx="984.39" cy="330.73" r="4.9" fill="#6a6a6a" stroke="#fff" stroke-width="1.1" />
<circle cx="1000.63" cy="143.48" r="4.9" fill="#6a6a6a" stroke="#fff" stroke-width="1.1" />
<circle cx="1002.34" cy="240.98" r="4.9" fill="#6a6a6a" stroke="#fff" stroke-width="1.1" />
<circle cx="999.41" cy="249.84" r="4.9" fill="#6a6a6a" stroke="#fff" stroke-width="1.1" />
<circle cx="1001.27" cy="288.62" r="4.9" fill="#6a6a6a" stroke="#fff" stroke-width="1.1" />
<circle cx="1000.17" cy="301.92" r="4.9" fill="#6a6a6a" stroke="#fff" stroke-width="1.1" />
<circle cx="999.86" cy="305.24" r="4.9" fill="#6a6a6a" stroke="#fff" stroke-width="1.1" />
<circle cx="1001.97" cy="308.57" r="4.9" fill="#6a6a6a" stroke="#fff" stroke-width="1.1" />
<circle cx="1001.96" cy="325.19" r="4.9" fill="#6a6a6a" stroke="#fff" stroke-width="1.1" />
<circle cx="1004.84" cy="330.73" r="4.9" fill="#6a6a6a" stroke="#fff" stroke-width="1.1" />
<circle cx="1037.14" cy="199.98" r="4.9" fill="#6a6a6a" stroke="#fff" stroke-width="1.1" />
<circle cx="1039.36" cy="198.88" r="4.9" fill="#6a6a6a" stroke="#fff" stroke-width="1.1" />
<circle cx="1038.71" cy="235.44" r="4.9" fill="#6a6a6a" stroke="#fff" stroke-width="1.1" />
<circle cx="1039.92" cy="272" r="4.9" fill="#6a6a6a" stroke="#fff" stroke-width="1.1" />
<circle cx="1037.04" cy="299.7" r="4.9" fill="#6a6a6a" stroke="#fff" stroke-width="1.1" />
<circle cx="1032.47" cy="301.92" r="4.9" fill="#6a6a6a" stroke="#fff" stroke-width="1.1" />
<circle cx="1038.75" cy="306.35" r="4.9" fill="#6a6a6a" stroke="#fff" stroke-width="1.1" />
<circle cx="1039.68" cy="308.57" r="4.9" fill="#6a6a6a" stroke="#fff" stroke-width="1.1" />
<circle cx="1039.14" cy="317.43" r="4.9" fill="#6a6a6a" stroke="#fff" stroke-width="1.1" />
<circle cx="1036.12" cy="335.16" r="4.9" fill="#6a6a6a" stroke="#fff" stroke-width="1.1" />
<circle cx="1037.42" cy="337.38" r="4.9" fill="#6a6a6a" stroke="#fff" stroke-width="1.1" />
<circle cx="1032.9" cy="339.59" r="4.9" fill="#6a6a6a" stroke="#fff" stroke-width="1.1" />
<circle cx="1038.48" cy="342.92" r="4.9" fill="#6a6a6a" stroke="#fff" stroke-width="1.1" />
<circle cx="1036.16" cy="346.24" r="4.9" fill="#6a6a6a" stroke="#fff" stroke-width="1.1" />
<circle cx="1033.56" cy="349.56" r="4.9" fill="#6a6a6a" stroke="#fff" stroke-width="1.1" />
<circle cx="1031.57" cy="351.78" r="4.9" fill="#6a6a6a" stroke="#fff" stroke-width="1.1" />
<circle cx="1059.69" cy="199.98" r="4.9" fill="#6a6a6a" stroke="#fff" stroke-width="1.1" />
<circle cx="1060.91" cy="198.88" r="4.9" fill="#6a6a6a" stroke="#fff" stroke-width="1.1" />
<circle cx="1052.8" cy="235.44" r="4.9" fill="#6a6a6a" stroke="#fff" stroke-width="1.1" />
<circle cx="1059.21" cy="273.11" r="4.9" fill="#6a6a6a" stroke="#fff" stroke-width="1.1" />
<circle cx="1055.69" cy="299.7" r="4.9" fill="#6a6a6a" stroke="#fff" stroke-width="1.1" />
<circle cx="1053.36" cy="301.92" r="4.9" fill="#6a6a6a" stroke="#fff" stroke-width="1.1" />
<circle cx="1054.65" cy="306.35" r="4.9" fill="#6a6a6a" stroke="#fff" stroke-width="1.1" />
<circle cx="1058.92" cy="308.57" r="4.9" fill="#6a6a6a" stroke="#fff" stroke-width="1.1" />
<circle cx="1059.85" cy="317.43" r="4.9" fill="#6a6a6a" stroke="#fff" stroke-width="1.1" />
<circle cx="1052.4" cy="335.16" r="4.9" fill="#6a6a6a" stroke="#fff" stroke-width="1.1" />
<circle cx="1057.53" cy="337.38" r="4.9" fill="#6a6a6a" stroke="#fff" stroke-width="1.1" />
<circle cx="1052.4" cy="339.59" r="4.9" fill="#6a6a6a" stroke="#fff" stroke-width="1.1" />
<circle cx="1058.47" cy="342.92" r="4.9" fill="#6a6a6a" stroke="#fff" stroke-width="1.1" />
<circle cx="1054.98" cy="346.24" r="4.9" fill="#6a6a6a" stroke="#fff" stroke-width="1.1" />
<circle cx="1059.93" cy="349.56" r="4.9" fill="#6a6a6a" stroke="#fff" stroke-width="1.1" />
<circle cx="1095.53" cy="245.41" r="4.9" fill="#6a6a6a" stroke="#fff" stroke-width="1.1" />
<circle cx="1091.25" cy="257.6" r="4.9" fill="#6a6a6a" stroke="#fff" stroke-width="1.1" />
<circle cx="1095.69" cy="287.52" r="4.9" fill="#6a6a6a" stroke="#fff" stroke-width="1.1" />
<circle cx="1089.49" cy="308.57" r="4.9" fill="#6a6a6a" stroke="#fff" stroke-width="1.1" />
<circle cx="1087.39" cy="315.22" r="4.9" fill="#6a6a6a" stroke="#fff" stroke-width="1.1" />
<circle cx="1092.1" cy="331.84" r="4.9" fill="#6a6a6a" stroke="#fff" stroke-width="1.1" />
<circle cx="1086.98" cy="334.05" r="4.9" fill="#6a6a6a" stroke="#fff" stroke-width="1.1" />
<circle cx="1109.48" cy="246.52" r="4.9" fill="#6a6a6a" stroke="#fff" stroke-width="1.1" />
<circle cx="1111.37" cy="260.92" r="4.9" fill="#6a6a6a" stroke="#fff" stroke-width="1.1" />
<circle cx="1113.19" cy="287.52" r="4.9" fill="#6a6a6a" stroke="#fff" stroke-width="1.1" />
<circle cx="1109.11" cy="308.57" r="4.9" fill="#6a6a6a" stroke="#fff" stroke-width="1.1" />
<circle cx="1108.08" cy="315.22" r="4.9" fill="#6a6a6a" stroke="#fff" stroke-width="1.1" />
<circle cx="1115.51" cy="334.05" r="4.9" fill="#6a6a6a" stroke="#fff" stroke-width="1.1" />
<circle cx="1110.52" cy="339.59" r="4.9" fill="#6a6a6a" stroke="#fff" stroke-width="1.1" />
<line x1="924.6" y1="352.33" x2="924.6" y2="346.79" stroke="#000" stroke-width="3" />
<line x1="918.6" y1="346.79" x2="930.6" y2="346.79" stroke="#000" stroke-width="3" />
<line x1="918.6" y1="352.33" x2="930.6" y2="352.33" stroke="#000" stroke-width="3" />
<line x1="914.6" y1="349.56" x2="934.6" y2="349.56" stroke="#000" stroke-width="3" />
<line x1="945.6" y1="353.44" x2="945.6" y2="347.9" stroke="#000" stroke-width="3" />
<line x1="939.6" y1="347.9" x2="951.6" y2="347.9" stroke="#000" stroke-width="3" />
<line x1="939.6" y1="353.44" x2="951.6" y2="353.44" stroke="#000" stroke-width="3" />
<line x1="935.6" y1="350.67" x2="955.6" y2="350.67" stroke="#000" stroke-width="3" />
<line x1="980.2" y1="297.49" x2="980.2" y2="257.6" stroke="#000" stroke-width="3" />
<line x1="974.2" y1="257.6" x2="986.2" y2="257.6" stroke="#000" stroke-width="3" />
<line x1="974.2" y1="297.49" x2="986.2" y2="297.49" stroke="#000" stroke-width="3" />
<line x1="970.2" y1="277.54" x2="990.2" y2="277.54" stroke="#000" stroke-width="3" />
<line x1="1001.2" y1="298.04" x2="1001.2" y2="258.15" stroke="#000" stroke-width="3" />
<line x1="995.2" y1="258.15" x2="1007.2" y2="258.15" stroke="#000" stroke-width="3" />
<line x1="995.2" y1="298.04" x2="1007.2" y2="298.04" stroke="#000" stroke-width="3" />
<line x1="991.2" y1="278.1" x2="1011.2" y2="278.1" stroke="#000" stroke-width="3" />
<line x1="1035.5" y1="314.66" x2="1035.5" y2="301.37" stroke="#000" stroke-width="3" />
<line x1="1029.5" y1="301.37" x2="1041.5" y2="301.37" stroke="#000" stroke-width="3" />
<line x1="1029.5" y1="314.66" x2="1041.5" y2="314.66" stroke="#000" stroke-width="3" />
<line x1="1025.5" y1="308.01" x2="1045.5" y2="308.01" stroke="#000" stroke-width="3" />
<line x1="1056.5" y1="315.22" x2="1056.5" y2="301.92" stroke="#000" stroke-width="3" />
<line x1="1050.5" y1="301.92" x2="1062.5" y2="301.92" stroke="#000" stroke-width="3" />
<line x1="1050.5" y1="315.22" x2="1062.5" y2="315.22" stroke="#000" stroke-width="3" />
<line x1="1046.5" y1="308.57" x2="1066.5" y2="308.57" stroke="#000" stroke-width="3" />
<line x1="1091.2" y1="311.89" x2="1091.2" y2="291.95" stroke="#000" stroke-width="3" />
<line x1="1085.2" y1="291.95" x2="1097.2" y2="291.95" stroke="#000" stroke-width="3" />
<line x1="1085.2" y1="311.89" x2="1097.2" y2="311.89" stroke="#000" stroke-width="3" />
<line x1="1081.2" y1="301.92" x2="1101.2" y2="301.92" stroke="#000" stroke-width="3" />
<line x1="1112.2" y1="313" x2="1112.2" y2="293.06" stroke="#000" stroke-width="3" />
<line x1="1106.2" y1="293.06" x2="1118.2" y2="293.06" stroke="#000" stroke-width="3" />
<line x1="1106.2" y1="313" x2="1118.2" y2="313" stroke="#000" stroke-width="3" />
<line x1="1102.2" y1="303.03" x2="1122.2" y2="303.03" stroke="#000" stroke-width="3" />
<rect x="852" y="91.4" width="277" height="277" fill="none" stroke="#555" stroke-width="1.6"/>
<line x1="843" y1="368.4" x2="852" y2="368.4" stroke="#555" stroke-width="1.6" />
<text x="832" y="378.1" font-size="27" text-anchor="end">0</text>
<line x1="843" y1="313" x2="852" y2="313" stroke="#555" stroke-width="1.6" />
<text x="832" y="322.7" font-size="27" text-anchor="end">500</text>
<line x1="843" y1="257.6" x2="852" y2="257.6" stroke="#555" stroke-width="1.6" />
<text x="832" y="267.3" font-size="27" text-anchor="end">1,000</text>
<line x1="843" y1="202.2" x2="852" y2="202.2" stroke="#555" stroke-width="1.6" />
<text x="832" y="211.9" font-size="27" text-anchor="end">1,500</text>
<line x1="843" y1="146.8" x2="852" y2="146.8" stroke="#555" stroke-width="1.6" />
<text x="832" y="156.5" font-size="27" text-anchor="end">2,000</text>
<line x1="843" y1="91.4" x2="852" y2="91.4" stroke="#555" stroke-width="1.6" />
<text x="832" y="101.1" font-size="27" text-anchor="end">2,500</text>
<line x1="879.3" y1="368.4" x2="879.3" y2="377.9" stroke="#555" stroke-width="1.6" />
<line x1="935.1" y1="368.4" x2="935.1" y2="377.9" stroke="#555" stroke-width="1.6" />
<line x1="990.7" y1="368.4" x2="990.7" y2="377.9" stroke="#555" stroke-width="1.6" />
<line x1="1046" y1="368.4" x2="1046" y2="377.9" stroke="#555" stroke-width="1.6" />
<line x1="1101.7" y1="368.4" x2="1101.7" y2="377.9" stroke="#555" stroke-width="1.6" />
<text x="884.6" y="124.5" font-size="25.5" textLength="211" lengthAdjust="spacingAndGlyphs">8 × 10<tspan dy="-10.71" font-size="17.34">−3</tspan><tspan dy="10.71"> mW mm</tspan><tspan dy="-10.71" font-size="17.34">−2</tspan></text>
<text x="746" y="230.3" font-size="27" text-anchor="middle" textLength="211.5" lengthAdjust="spacingAndGlyphs" transform="rotate(-90 746 230.3)">Photocurrent (pA)</text>
<rect x="858.8" y="690.34" width="20.5" height="28.46" fill="#808080" />
<rect x="880.8" y="704.33" width="17.5" height="14.47" fill="#fff" stroke="#808080" stroke-width="3"/>
<rect x="914.6" y="661.18" width="20.5" height="57.62" fill="#000" />
<rect x="936.6" y="695.31" width="17.5" height="23.49" fill="#fff" stroke="#000" stroke-width="3"/>
<rect x="970.2" y="616.05" width="20.5" height="102.75" fill="#CC79A7" />
<rect x="992.2" y="629.35" width="17.5" height="89.45" fill="#fff" stroke="#CC79A7" stroke-width="3"/>
<rect x="1025.5" y="632.02" width="20.5" height="86.78" fill="#0072B2" />
<rect x="1047.5" y="650.88" width="17.5" height="67.92" fill="#fff" stroke="#0072B2" stroke-width="3"/>
<rect x="1081.2" y="632.71" width="20.5" height="86.09" fill="#009E73" />
<rect x="1103.2" y="640.46" width="17.5" height="78.34" fill="#fff" stroke="#009E73" stroke-width="3"/>
<circle cx="872.93" cy="607.72" r="4.9" fill="#6a6a6a" stroke="#fff" stroke-width="1.1" />
<circle cx="872.37" cy="671.59" r="4.9" fill="#6a6a6a" stroke="#fff" stroke-width="1.1" />
<circle cx="867.7" cy="675.76" r="4.9" fill="#6a6a6a" stroke="#fff" stroke-width="1.1" />
<circle cx="868.44" cy="684.09" r="4.9" fill="#6a6a6a" stroke="#fff" stroke-width="1.1" />
<circle cx="868.98" cy="692.42" r="4.9" fill="#6a6a6a" stroke="#fff" stroke-width="1.1" />
<circle cx="870.09" cy="694.5" r="4.9" fill="#6a6a6a" stroke="#fff" stroke-width="1.1" />
<circle cx="869.66" cy="697.97" r="4.9" fill="#6a6a6a" stroke="#fff" stroke-width="1.1" />
<circle cx="869.33" cy="701.44" r="4.9" fill="#6a6a6a" stroke="#fff" stroke-width="1.1" />
<circle cx="869.88" cy="704.91" r="4.9" fill="#6a6a6a" stroke="#fff" stroke-width="1.1" />
<circle cx="872.77" cy="708.39" r="4.9" fill="#6a6a6a" stroke="#fff" stroke-width="1.1" />
<circle cx="868.86" cy="711.86" r="4.9" fill="#6a6a6a" stroke="#fff" stroke-width="1.1" />
<circle cx="868.18" cy="713.25" r="4.9" fill="#6a6a6a" stroke="#fff" stroke-width="1.1" />
<circle cx="870.78" cy="714.63" r="4.9" fill="#6a6a6a" stroke="#fff" stroke-width="1.1" />
<circle cx="866.44" cy="716.02" r="4.9" fill="#6a6a6a" stroke="#fff" stroke-width="1.1" />
<circle cx="867.01" cy="716.72" r="4.9" fill="#6a6a6a" stroke="#fff" stroke-width="1.1" />
<circle cx="873.1" cy="717.41" r="4.9" fill="#6a6a6a" stroke="#fff" stroke-width="1.1" />
<circle cx="889.99" cy="656.32" r="4.9" fill="#6a6a6a" stroke="#fff" stroke-width="1.1" />
<circle cx="890.24" cy="692.42" r="4.9" fill="#6a6a6a" stroke="#fff" stroke-width="1.1" />
<circle cx="885.4" cy="697.97" r="4.9" fill="#6a6a6a" stroke="#fff" stroke-width="1.1" />
<circle cx="889.04" cy="701.44" r="4.9" fill="#6a6a6a" stroke="#fff" stroke-width="1.1" />
<circle cx="890.52" cy="704.91" r="4.9" fill="#6a6a6a" stroke="#fff" stroke-width="1.1" />
<circle cx="885.48" cy="708.39" r="4.9" fill="#6a6a6a" stroke="#fff" stroke-width="1.1" />
<circle cx="890.84" cy="711.86" r="4.9" fill="#6a6a6a" stroke="#fff" stroke-width="1.1" />
<circle cx="890.99" cy="713.25" r="4.9" fill="#6a6a6a" stroke="#fff" stroke-width="1.1" />
<circle cx="885.84" cy="715.33" r="4.9" fill="#6a6a6a" stroke="#fff" stroke-width="1.1" />
<circle cx="890.95" cy="716.72" r="4.9" fill="#6a6a6a" stroke="#fff" stroke-width="1.1" />
<circle cx="924.3" cy="607.72" r="4.9" fill="#6a6a6a" stroke="#fff" stroke-width="1.1" />
<circle cx="926.21" cy="614.66" r="4.9" fill="#6a6a6a" stroke="#fff" stroke-width="1.1" />
<circle cx="923.27" cy="621.61" r="4.9" fill="#6a6a6a" stroke="#fff" stroke-width="1.1" />
<circle cx="926.46" cy="635.49" r="4.9" fill="#6a6a6a" stroke="#fff" stroke-width="1.1" />
<circle cx="926.74" cy="638.96" r="4.9" fill="#6a6a6a" stroke="#fff" stroke-width="1.1" />
<circle cx="920.3" cy="649.38" r="4.9" fill="#6a6a6a" stroke="#fff" stroke-width="1.1" />
<circle cx="920.65" cy="656.32" r="4.9" fill="#6a6a6a" stroke="#fff" stroke-width="1.1" />
<circle cx="926.18" cy="659.79" r="4.9" fill="#6a6a6a" stroke="#fff" stroke-width="1.1" />
<circle cx="928.77" cy="663.26" r="4.9" fill="#6a6a6a" stroke="#fff" stroke-width="1.1" />
<circle cx="922.36" cy="670.2" r="4.9" fill="#6a6a6a" stroke="#fff" stroke-width="1.1" />
<circle cx="924.21" cy="677.14" r="4.9" fill="#6a6a6a" stroke="#fff" stroke-width="1.1" />
<circle cx="925.43" cy="684.09" r="4.9" fill="#6a6a6a" stroke="#fff" stroke-width="1.1" />
<circle cx="922.98" cy="691.03" r="4.9" fill="#6a6a6a" stroke="#fff" stroke-width="1.1" />
<circle cx="923.38" cy="694.5" r="4.9" fill="#6a6a6a" stroke="#fff" stroke-width="1.1" />
<circle cx="943.91" cy="635.49" r="4.9" fill="#6a6a6a" stroke="#fff" stroke-width="1.1" />
<circle cx="944.42" cy="670.2" r="4.9" fill="#6a6a6a" stroke="#fff" stroke-width="1.1" />
<circle cx="946.46" cy="684.09" r="4.9" fill="#6a6a6a" stroke="#fff" stroke-width="1.1" />
<circle cx="943.8" cy="691.03" r="4.9" fill="#6a6a6a" stroke="#fff" stroke-width="1.1" />
<circle cx="944.49" cy="695.89" r="4.9" fill="#6a6a6a" stroke="#fff" stroke-width="1.1" />
<circle cx="948.05" cy="697.97" r="4.9" fill="#6a6a6a" stroke="#fff" stroke-width="1.1" />
<circle cx="941.34" cy="701.44" r="4.9" fill="#6a6a6a" stroke="#fff" stroke-width="1.1" />
<circle cx="946.22" cy="704.91" r="4.9" fill="#6a6a6a" stroke="#fff" stroke-width="1.1" />
<circle cx="947.72" cy="711.86" r="4.9" fill="#6a6a6a" stroke="#fff" stroke-width="1.1" />
<circle cx="978.49" cy="493.17" r="4.9" fill="#6a6a6a" stroke="#fff" stroke-width="1.1" />
<circle cx="977.7" cy="560.51" r="4.9" fill="#6a6a6a" stroke="#fff" stroke-width="1.1" />
<circle cx="982.93" cy="588.28" r="4.9" fill="#6a6a6a" stroke="#fff" stroke-width="1.1" />
<circle cx="977.85" cy="627.16" r="4.9" fill="#6a6a6a" stroke="#fff" stroke-width="1.1" />
<circle cx="977.39" cy="657.71" r="4.9" fill="#6a6a6a" stroke="#fff" stroke-width="1.1" />
<circle cx="979.62" cy="660.48" r="4.9" fill="#6a6a6a" stroke="#fff" stroke-width="1.1" />
<circle cx="981.98" cy="663.26" r="4.9" fill="#6a6a6a" stroke="#fff" stroke-width="1.1" />
<circle cx="976.62" cy="677.14" r="4.9" fill="#6a6a6a" stroke="#fff" stroke-width="1.1" />
<circle cx="999.6" cy="522.33" r="4.9" fill="#6a6a6a" stroke="#fff" stroke-width="1.1" />
<circle cx="999.7" cy="582.73" r="4.9" fill="#6a6a6a" stroke="#fff" stroke-width="1.1" />
<circle cx="1004.2" cy="607.72" r="4.9" fill="#6a6a6a" stroke="#fff" stroke-width="1.1" />
<circle cx="1000.65" cy="632.02" r="4.9" fill="#6a6a6a" stroke="#fff" stroke-width="1.1" />
<circle cx="1004.4" cy="657.71" r="4.9" fill="#6a6a6a" stroke="#fff" stroke-width="1.1" />
<circle cx="998.22" cy="667.43" r="4.9" fill="#6a6a6a" stroke="#fff" stroke-width="1.1" />
<circle cx="999.73" cy="667.43" r="4.9" fill="#6a6a6a" stroke="#fff" stroke-width="1.1" />
<circle cx="1002.55" cy="684.09" r="4.9" fill="#6a6a6a" stroke="#fff" stroke-width="1.1" />
<circle cx="1038.96" cy="522.33" r="4.9" fill="#6a6a6a" stroke="#fff" stroke-width="1.1" />
<circle cx="1035.06" cy="522.33" r="4.9" fill="#6a6a6a" stroke="#fff" stroke-width="1.1" />
<circle cx="1033.03" cy="588.28" r="4.9" fill="#6a6a6a" stroke="#fff" stroke-width="1.1" />
<circle cx="1032.09" cy="605.64" r="4.9" fill="#6a6a6a" stroke="#fff" stroke-width="1.1" />
<circle cx="1035.77" cy="621.61" r="4.9" fill="#6a6a6a" stroke="#fff" stroke-width="1.1" />
<circle cx="1032.72" cy="626.46" r="4.9" fill="#6a6a6a" stroke="#fff" stroke-width="1.1" />
<circle cx="1038.26" cy="635.49" r="4.9" fill="#6a6a6a" stroke="#fff" stroke-width="1.1" />
<circle cx="1038.55" cy="642.43" r="4.9" fill="#6a6a6a" stroke="#fff" stroke-width="1.1" />
<circle cx="1032.65" cy="649.38" r="4.9" fill="#6a6a6a" stroke="#fff" stroke-width="1.1" />
<circle cx="1033.51" cy="656.32" r="4.9" fill="#6a6a6a" stroke="#fff" stroke-width="1.1" />
<circle cx="1038.27" cy="663.26" r="4.9" fill="#6a6a6a" stroke="#fff" stroke-width="1.1" />
<circle cx="1036.78" cy="670.2" r="4.9" fill="#6a6a6a" stroke="#fff" stroke-width="1.1" />
<circle cx="1038.26" cy="677.14" r="4.9" fill="#6a6a6a" stroke="#fff" stroke-width="1.1" />
<circle cx="1055.11" cy="571.62" r="4.9" fill="#6a6a6a" stroke="#fff" stroke-width="1.1" />
<circle cx="1053.17" cy="578.56" r="4.9" fill="#6a6a6a" stroke="#fff" stroke-width="1.1" />
<circle cx="1054.63" cy="597.31" r="4.9" fill="#6a6a6a" stroke="#fff" stroke-width="1.1" />
<circle cx="1059.14" cy="622.99" r="4.9" fill="#6a6a6a" stroke="#fff" stroke-width="1.1" />
<circle cx="1054.44" cy="628.55" r="4.9" fill="#6a6a6a" stroke="#fff" stroke-width="1.1" />
<circle cx="1055.12" cy="635.49" r="4.9" fill="#6a6a6a" stroke="#fff" stroke-width="1.1" />
<circle cx="1055.75" cy="642.43" r="4.9" fill="#6a6a6a" stroke="#fff" stroke-width="1.1" />
<circle cx="1055.78" cy="649.38" r="4.9" fill="#6a6a6a" stroke="#fff" stroke-width="1.1" />
<circle cx="1055.69" cy="656.32" r="4.9" fill="#6a6a6a" stroke="#fff" stroke-width="1.1" />
<circle cx="1060.29" cy="663.26" r="4.9" fill="#6a6a6a" stroke="#fff" stroke-width="1.1" />
<circle cx="1053.4" cy="670.2" r="4.9" fill="#6a6a6a" stroke="#fff" stroke-width="1.1" />
<circle cx="1052.04" cy="677.14" r="4.9" fill="#6a6a6a" stroke="#fff" stroke-width="1.1" />
<circle cx="1060.49" cy="684.09" r="4.9" fill="#6a6a6a" stroke="#fff" stroke-width="1.1" />
<circle cx="1094.62" cy="573.01" r="4.9" fill="#6a6a6a" stroke="#fff" stroke-width="1.1" />
<circle cx="1095.58" cy="620.91" r="4.9" fill="#6a6a6a" stroke="#fff" stroke-width="1.1" />
<circle cx="1090.61" cy="628.55" r="4.9" fill="#6a6a6a" stroke="#fff" stroke-width="1.1" />
<circle cx="1095.25" cy="632.02" r="4.9" fill="#6a6a6a" stroke="#fff" stroke-width="1.1" />
<circle cx="1095.05" cy="642.43" r="4.9" fill="#6a6a6a" stroke="#fff" stroke-width="1.1" />
<circle cx="1088.7" cy="649.38" r="4.9" fill="#6a6a6a" stroke="#fff" stroke-width="1.1" />
<circle cx="1093.41" cy="663.26" r="4.9" fill="#6a6a6a" stroke="#fff" stroke-width="1.1" />
<circle cx="1115.23" cy="579.95" r="4.9" fill="#6a6a6a" stroke="#fff" stroke-width="1.1" />
<circle cx="1113.67" cy="628.55" r="4.9" fill="#6a6a6a" stroke="#fff" stroke-width="1.1" />
<circle cx="1112.37" cy="632.02" r="4.9" fill="#6a6a6a" stroke="#fff" stroke-width="1.1" />
<circle cx="1110.3" cy="638.96" r="4.9" fill="#6a6a6a" stroke="#fff" stroke-width="1.1" />
<circle cx="1110.77" cy="656.32" r="4.9" fill="#6a6a6a" stroke="#fff" stroke-width="1.1" />
<circle cx="1109.75" cy="668.81" r="4.9" fill="#6a6a6a" stroke="#fff" stroke-width="1.1" />
<circle cx="1108.31" cy="663.26" r="4.9" fill="#6a6a6a" stroke="#fff" stroke-width="1.1" />
<line x1="868.8" y1="691.72" x2="868.8" y2="688.95" stroke="#000" stroke-width="3" />
<line x1="862.8" y1="688.95" x2="874.8" y2="688.95" stroke="#000" stroke-width="3" />
<line x1="862.8" y1="691.72" x2="874.8" y2="691.72" stroke="#000" stroke-width="3" />
<line x1="858.8" y1="690.34" x2="878.8" y2="690.34" stroke="#000" stroke-width="3" />
<line x1="889.8" y1="703.87" x2="889.8" y2="701.79" stroke="#000" stroke-width="3" />
<line x1="883.8" y1="701.79" x2="895.8" y2="701.79" stroke="#000" stroke-width="3" />
<line x1="883.8" y1="703.87" x2="895.8" y2="703.87" stroke="#000" stroke-width="3" />
<line x1="879.8" y1="702.83" x2="899.8" y2="702.83" stroke="#000" stroke-width="3" />
<line x1="924.6" y1="669.51" x2="924.6" y2="652.85" stroke="#000" stroke-width="3" />
<line x1="918.6" y1="652.85" x2="930.6" y2="652.85" stroke="#000" stroke-width="3" />
<line x1="918.6" y1="669.51" x2="930.6" y2="669.51" stroke="#000" stroke-width="3" />
<line x1="914.6" y1="661.18" x2="934.6" y2="661.18" stroke="#000" stroke-width="3" />
<line x1="945.6" y1="695.2" x2="945.6" y2="692.42" stroke="#000" stroke-width="3" />
<line x1="939.6" y1="692.42" x2="951.6" y2="692.42" stroke="#000" stroke-width="3" />
<line x1="939.6" y1="695.2" x2="951.6" y2="695.2" stroke="#000" stroke-width="3" />
<line x1="935.6" y1="693.81" x2="955.6" y2="693.81" stroke="#000" stroke-width="3" />
<line x1="980.2" y1="638.96" x2="980.2" y2="593.14" stroke="#000" stroke-width="3" />
<line x1="974.2" y1="593.14" x2="986.2" y2="593.14" stroke="#000" stroke-width="3" />
<line x1="974.2" y1="638.96" x2="986.2" y2="638.96" stroke="#000" stroke-width="3" />
<line x1="970.2" y1="616.05" x2="990.2" y2="616.05" stroke="#000" stroke-width="3" />
<line x1="1001.2" y1="647.29" x2="1001.2" y2="608.41" stroke="#000" stroke-width="3" />
<line x1="995.2" y1="608.41" x2="1007.2" y2="608.41" stroke="#000" stroke-width="3" />
<line x1="995.2" y1="647.29" x2="1007.2" y2="647.29" stroke="#000" stroke-width="3" />
<line x1="991.2" y1="627.85" x2="1011.2" y2="627.85" stroke="#000" stroke-width="3" />
<line x1="1035.5" y1="642.43" x2="1035.5" y2="621.61" stroke="#000" stroke-width="3" />
<line x1="1029.5" y1="621.61" x2="1041.5" y2="621.61" stroke="#000" stroke-width="3" />
<line x1="1029.5" y1="642.43" x2="1041.5" y2="642.43" stroke="#000" stroke-width="3" />
<line x1="1025.5" y1="632.02" x2="1045.5" y2="632.02" stroke="#000" stroke-width="3" />
<line x1="1056.5" y1="651.46" x2="1056.5" y2="647.29" stroke="#000" stroke-width="3" />
<line x1="1050.5" y1="647.29" x2="1062.5" y2="647.29" stroke="#000" stroke-width="3" />
<line x1="1050.5" y1="651.46" x2="1062.5" y2="651.46" stroke="#000" stroke-width="3" />
<line x1="1046.5" y1="649.38" x2="1066.5" y2="649.38" stroke="#000" stroke-width="3" />
<line x1="1091.2" y1="643.13" x2="1091.2" y2="622.3" stroke="#000" stroke-width="3" />
<line x1="1085.2" y1="622.3" x2="1097.2" y2="622.3" stroke="#000" stroke-width="3" />
<line x1="1085.2" y1="643.13" x2="1097.2" y2="643.13" stroke="#000" stroke-width="3" />
<line x1="1081.2" y1="632.71" x2="1101.2" y2="632.71" stroke="#000" stroke-width="3" />
<line x1="1112.2" y1="647.99" x2="1112.2" y2="629.94" stroke="#000" stroke-width="3" />
<line x1="1106.2" y1="629.94" x2="1118.2" y2="629.94" stroke="#000" stroke-width="3" />
<line x1="1106.2" y1="647.99" x2="1118.2" y2="647.99" stroke="#000" stroke-width="3" />
<line x1="1102.2" y1="638.96" x2="1122.2" y2="638.96" stroke="#000" stroke-width="3" />
<rect x="852.2" y="441.1" width="276.8" height="277.7" fill="none" stroke="#555" stroke-width="1.6"/>
<line x1="843.2" y1="718.8" x2="852.2" y2="718.8" stroke="#555" stroke-width="1.6" />
<text x="832" y="728.5" font-size="27" text-anchor="end">0</text>
<line x1="843.2" y1="649.38" x2="852.2" y2="649.38" stroke="#555" stroke-width="1.6" />
<text x="832" y="659.08" font-size="27" text-anchor="end">1,000</text>
<line x1="843.2" y1="579.95" x2="852.2" y2="579.95" stroke="#555" stroke-width="1.6" />
<text x="832" y="589.65" font-size="27" text-anchor="end">2,000</text>
<line x1="843.2" y1="510.52" x2="852.2" y2="510.52" stroke="#555" stroke-width="1.6" />
<text x="832" y="520.23" font-size="27" text-anchor="end">3,000</text>
<line x1="843.2" y1="441.1" x2="852.2" y2="441.1" stroke="#555" stroke-width="1.6" />
<text x="832" y="450.8" font-size="27" text-anchor="end">4,000</text>
<line x1="879.3" y1="718.8" x2="879.3" y2="728.3" stroke="#555" stroke-width="1.6" />
<line x1="935.1" y1="718.8" x2="935.1" y2="728.3" stroke="#555" stroke-width="1.6" />
<line x1="990.7" y1="718.8" x2="990.7" y2="728.3" stroke="#555" stroke-width="1.6" />
<line x1="1046" y1="718.8" x2="1046" y2="728.3" stroke="#555" stroke-width="1.6" />
<line x1="1101.7" y1="718.8" x2="1101.7" y2="728.3" stroke="#555" stroke-width="1.6" />
<text x="905.7" y="476.6" font-size="25.5" textLength="154" lengthAdjust="spacingAndGlyphs">0.8 mW mm<tspan dy="-10.71" font-size="17.34">−2</tspan></text>
<text x="746" y="580.7" font-size="27" text-anchor="middle" textLength="209.5" lengthAdjust="spacingAndGlyphs" transform="rotate(-90 746 580.7)">Photocurrent (pA)</text>
<text x="891.3" y="758" font-size="25.5" fill="#9a9a9a" text-anchor="end" transform="rotate(-45 891.3 758)">ChR2</text>
<text x="947.1" y="758" font-size="25.5" text-anchor="end" transform="rotate(-45 947.1 758)">CoChR</text>
<text x="1002.7" y="758" font-size="25.5" fill="#CC79A7" text-anchor="end" transform="rotate(-45 1002.7 758)">ChRger1</text>
<text x="1058" y="758" font-size="25.5" fill="#0072B2" text-anchor="end" transform="rotate(-45 1058 758)">ChRger2</text>
<text x="1113.7" y="758" font-size="25.5" fill="#009E73" text-anchor="end" transform="rotate(-45 1113.7 758)">ChRger3</text>
<text x="1178.2" y="24" font-size="31" textLength="16.28" lengthAdjust="spacingAndGlyphs" font-weight="bold">d</text>
<g stroke="#a8a8a8" stroke-width="3" opacity="0.4">
<line x1="1512.7" y1="251" x2="1512.7" y2="309" stroke="#a8a8a8" stroke-width="3" />
<line x1="1504.2" y1="251" x2="1521.2" y2="251" stroke="#a8a8a8" stroke-width="3" />
<line x1="1504.2" y1="309" x2="1521.2" y2="309" stroke="#a8a8a8" stroke-width="3" />
</g>
<g stroke="#a8a8a8" stroke-width="3" opacity="0.4">
<line x1="1599.3" y1="111" x2="1599.3" y2="179" stroke="#a8a8a8" stroke-width="3" />
<line x1="1590.8" y1="111" x2="1607.8" y2="111" stroke="#a8a8a8" stroke-width="3" />
<line x1="1590.8" y1="179" x2="1607.8" y2="179" stroke="#a8a8a8" stroke-width="3" />
</g>
<g stroke="#a8a8a8" stroke-width="3" opacity="0.4">
<line x1="1609.9" y1="111" x2="1609.9" y2="179" stroke="#a8a8a8" stroke-width="3" />
<line x1="1601.4" y1="111" x2="1618.4" y2="111" stroke="#a8a8a8" stroke-width="3" />
<line x1="1601.4" y1="179" x2="1618.4" y2="179" stroke="#a8a8a8" stroke-width="3" />
</g>
<g stroke="#000" stroke-width="3" opacity="0.45">
<line x1="1487.7" y1="188" x2="1487.7" y2="256" stroke="#000" stroke-width="3" />
<line x1="1479.2" y1="188" x2="1496.2" y2="188" stroke="#000" stroke-width="3" />
<line x1="1479.2" y1="256" x2="1496.2" y2="256" stroke="#000" stroke-width="3" />
</g>
<g stroke="#000" stroke-width="3" opacity="0.45">
<line x1="1512.7" y1="141" x2="1512.7" y2="224.6" stroke="#000" stroke-width="3" />
<line x1="1504.2" y1="141" x2="1521.2" y2="141" stroke="#000" stroke-width="3" />
<line x1="1504.2" y1="224.6" x2="1521.2" y2="224.6" stroke="#000" stroke-width="3" />
</g>
<g stroke="#0072B2" stroke-width="3" opacity="0.4">
<line x1="1454" y1="97.2" x2="1454" y2="117.4" stroke="#0072B2" stroke-width="3" />
<line x1="1445.5" y1="97.2" x2="1462.5" y2="97.2" stroke="#0072B2" stroke-width="3" />
<line x1="1445.5" y1="117.4" x2="1462.5" y2="117.4" stroke="#0072B2" stroke-width="3" />
</g>
<g stroke="#CC79A7" stroke-width="3" opacity="0.4">
<line x1="1454" y1="117" x2="1454" y2="188" stroke="#CC79A7" stroke-width="3" />
<line x1="1445.5" y1="117" x2="1462.5" y2="117" stroke="#CC79A7" stroke-width="3" />
<line x1="1445.5" y1="188" x2="1462.5" y2="188" stroke="#CC79A7" stroke-width="3" />
</g>
<g stroke="#009E73" stroke-width="3" opacity="0.4">
<line x1="1419" y1="219.6" x2="1419" y2="305.4" stroke="#009E73" stroke-width="3" />
<line x1="1410.5" y1="219.6" x2="1427.5" y2="219.6" stroke="#009E73" stroke-width="3" />
<line x1="1410.5" y1="305.4" x2="1427.5" y2="305.4" stroke="#009E73" stroke-width="3" />
</g>
<g stroke="#009E73" stroke-width="3" opacity="0.4">
<line x1="1454" y1="193.8" x2="1454" y2="279.7" stroke="#009E73" stroke-width="3" />
<line x1="1445.5" y1="193.8" x2="1462.5" y2="193.8" stroke="#009E73" stroke-width="3" />
<line x1="1445.5" y1="279.7" x2="1462.5" y2="279.7" stroke="#009E73" stroke-width="3" />
</g>
<g stroke="#009E73" stroke-width="3" opacity="0.4">
<line x1="1487.7" y1="97" x2="1487.7" y2="126" stroke="#009E73" stroke-width="3" />
<line x1="1479.2" y1="97" x2="1496.2" y2="97" stroke="#009E73" stroke-width="3" />
<line x1="1479.2" y1="126" x2="1496.2" y2="126" stroke="#009E73" stroke-width="3" />
</g>
<g stroke="#0072B2" stroke-width="3" opacity="0.4">
<line x1="1419" y1="273.8" x2="1419" y2="305.4" stroke="#0072B2" stroke-width="3" />
<line x1="1410.5" y1="273.8" x2="1427.5" y2="273.8" stroke="#0072B2" stroke-width="3" />
<line x1="1410.5" y1="305.4" x2="1427.5" y2="305.4" stroke="#0072B2" stroke-width="3" />
</g>
<polyline points="1396.8,311.7 1419,261.32 1454,237.81 1487.7,107.95 1512.7,87.8" fill="none" stroke="#009E73" stroke-width="4" stroke-linejoin="round" />
<circle cx="1396.8" cy="311.7" r="7.3" fill="#009E73" stroke="none" stroke-width="0" />
<circle cx="1419" cy="261.32" r="7.3" fill="#009E73" stroke="none" stroke-width="0" />
<circle cx="1454" cy="237.81" r="7.3" fill="#009E73" stroke="none" stroke-width="0" />
<circle cx="1487.7" cy="107.95" r="7.3" fill="#009E73" stroke="none" stroke-width="0" />
<circle cx="1512.7" cy="87.8" r="7.3" fill="#009E73" stroke="none" stroke-width="0" />
<polyline points="1396.8,311.7 1419,284.83 1454,107.95 1487.7,87.8" fill="none" stroke="#0072B2" stroke-width="4" stroke-linejoin="round" />
<circle cx="1396.8" cy="311.7" r="7.3" fill="#0072B2" stroke="none" stroke-width="0" />
<circle cx="1419" cy="284.83" r="7.3" fill="#0072B2" stroke="none" stroke-width="0" />
<circle cx="1454" cy="107.95" r="7.3" fill="#0072B2" stroke="none" stroke-width="0" />
<circle cx="1487.7" cy="87.8" r="7.3" fill="#0072B2" stroke="none" stroke-width="0" />
<polyline points="1396.8,311.7 1419,285.95 1454,149.37 1487.7,87.8 1512.7,87.8 1599.3,87.8" fill="none" stroke="#CC79A7" stroke-width="4" stroke-linejoin="round" />
<circle cx="1396.8" cy="311.7" r="7.3" fill="#CC79A7" stroke="none" stroke-width="0" />
<circle cx="1419" cy="285.95" r="7.3" fill="#CC79A7" stroke="none" stroke-width="0" />
<circle cx="1454" cy="149.37" r="7.3" fill="#CC79A7" stroke="none" stroke-width="0" />
<circle cx="1487.7" cy="87.8" r="7.3" fill="#CC79A7" stroke="none" stroke-width="0" />
<circle cx="1512.7" cy="87.8" r="7.3" fill="#CC79A7" stroke="none" stroke-width="0" />
<circle cx="1599.3" cy="87.8" r="7.3" fill="#CC79A7" stroke="none" stroke-width="0" />
<polyline points="1454,311.7 1487.7,222.14 1512.7,184.08 1599.3,87.8 1609.9,87.8" fill="none" stroke="#000" stroke-width="4" stroke-linejoin="round" />
<circle cx="1454" cy="311.7" r="7.3" fill="#000" stroke="none" stroke-width="0" />
<circle cx="1487.7" cy="222.14" r="7.3" fill="#000" stroke="none" stroke-width="0" />
<circle cx="1512.7" cy="184.08" r="7.3" fill="#000" stroke="none" stroke-width="0" />
<circle cx="1599.3" cy="87.8" r="7.3" fill="#000" stroke="none" stroke-width="0" />
<circle cx="1609.9" cy="87.8" r="7.3" fill="#000" stroke="none" stroke-width="0" />
<polyline points="1293.4,311.7 1396.8,311.7 1419,311.7 1454,311.7 1487.7,309.46 1512.7,280.35 1599.3,146.01 1609.9,146.01 1638.4,87.8" fill="none" stroke="#a8a8a8" stroke-width="4" stroke-linejoin="round" />
<circle cx="1293.4" cy="311.7" r="7.3" fill="#a8a8a8" stroke="none" stroke-width="0" />
<circle cx="1396.8" cy="311.7" r="7.3" fill="#a8a8a8" stroke="none" stroke-width="0" />
<circle cx="1419" cy="311.7" r="7.3" fill="#a8a8a8" stroke="none" stroke-width="0" />
<circle cx="1454" cy="311.7" r="7.3" fill="#a8a8a8" stroke="none" stroke-width="0" />
<circle cx="1487.7" cy="309.46" r="7.3" fill="#a8a8a8" stroke="none" stroke-width="0" />
<circle cx="1512.7" cy="280.35" r="7.3" fill="#a8a8a8" stroke="none" stroke-width="0" />
<circle cx="1599.3" cy="146.01" r="7.3" fill="#a8a8a8" stroke="none" stroke-width="0" />
<circle cx="1609.9" cy="146.01" r="7.3" fill="#a8a8a8" stroke="none" stroke-width="0" />
<circle cx="1638.4" cy="87.8" r="7.3" fill="#a8a8a8" stroke="none" stroke-width="0" />
<rect x="1276.2" y="75.7" width="379.1" height="246.9" fill="none" stroke="#111" stroke-width="1.5"/>
<text x="1262.2" y="96.8" font-size="26" text-anchor="end">100</text>
<text x="1262.2" y="152.78" font-size="26" text-anchor="end">75</text>
<text x="1262.2" y="208.75" font-size="26" text-anchor="end">50</text>
<text x="1262.2" y="264.73" font-size="26" text-anchor="end">25</text>
<text x="1262.2" y="320.7" font-size="26" text-anchor="end">0</text>
<text x="1308.5" y="361" font-size="25.5" text-anchor="middle">10<tspan dy="-10.71" font-size="17.34">−3</tspan></text>
<text x="1411" y="361" font-size="25.5" text-anchor="middle">10<tspan dy="-10.71" font-size="17.34">−2</tspan></text>
<text x="1513" y="361" font-size="25.5" text-anchor="middle">10<tspan dy="-10.71" font-size="17.34">−1</tspan></text>
<text x="1612.6" y="361" font-size="25.5" text-anchor="middle">10<tspan dy="-10.71" font-size="17.34">0</tspan></text>
<text x="1321.6" y="401.3" font-size="25.5" textLength="287.4" lengthAdjust="spacingAndGlyphs">Light intensity (mW mm<tspan dy="-10.71" font-size="17.34">−2</tspan><tspan dy="10.71">)</tspan></text>
<text x="1204" y="203" font-size="25.5" text-anchor="middle" textLength="184" lengthAdjust="spacingAndGlyphs" transform="rotate(-90 1204 203)">Spike fidelity (%)</text>
<text x="1287.6" y="104.7" font-size="25.5" fill="#CC79A7">ChRger1</text>
<text x="1287.6" y="131.2" font-size="25.5" fill="#0072B2">ChRger2</text>
<text x="1287.6" y="158.5" font-size="25.5" fill="#009E73">ChRger3</text>
<text x="1287.6" y="185.5" font-size="25.5">CoChR</text>
<text x="1287.6" y="212" font-size="25.5" fill="#a8a8a8">ChR2</text>
<text x="1178.2" y="473" font-size="31" textLength="14.83" lengthAdjust="spacingAndGlyphs" font-weight="bold">e</text>
<g stroke="#a8a8a8" stroke-width="3" opacity="0.4">
<line x1="1366.8" y1="491.58" x2="1366.8" y2="540.2" stroke="#a8a8a8" stroke-width="3" />
<line x1="1358.3" y1="491.58" x2="1375.3" y2="491.58" stroke="#a8a8a8" stroke-width="3" />
<line x1="1358.3" y1="540.2" x2="1375.3" y2="540.2" stroke="#a8a8a8" stroke-width="3" />
</g>
<g stroke="#a8a8a8" stroke-width="3" opacity="0.4">
<line x1="1457.4" y1="574.24" x2="1457.4" y2="647.17" stroke="#a8a8a8" stroke-width="3" />
<line x1="1448.9" y1="574.24" x2="1465.9" y2="574.24" stroke="#a8a8a8" stroke-width="3" />
<line x1="1448.9" y1="647.17" x2="1465.9" y2="647.17" stroke="#a8a8a8" stroke-width="3" />
</g>
<g stroke="#a8a8a8" stroke-width="3" opacity="0.4">
<line x1="1638.6" y1="631.37" x2="1638.6" y2="694.57" stroke="#a8a8a8" stroke-width="3" />
<line x1="1630.1" y1="631.37" x2="1647.1" y2="631.37" stroke="#a8a8a8" stroke-width="3" />
<line x1="1630.1" y1="694.57" x2="1647.1" y2="694.57" stroke="#a8a8a8" stroke-width="3" />
</g>
<g stroke="#009E73" stroke-width="3" opacity="0.4">
<line x1="1321.5" y1="491.58" x2="1321.5" y2="559.65" stroke="#009E73" stroke-width="3" />
<line x1="1313" y1="491.58" x2="1330" y2="491.58" stroke="#009E73" stroke-width="3" />
<line x1="1313" y1="559.65" x2="1330" y2="559.65" stroke="#009E73" stroke-width="3" />
</g>
<g stroke="#009E73" stroke-width="3" opacity="0.4">
<line x1="1366.8" y1="551.14" x2="1366.8" y2="672.69" stroke="#009E73" stroke-width="3" />
<line x1="1358.3" y1="551.14" x2="1375.3" y2="551.14" stroke="#009E73" stroke-width="3" />
<line x1="1358.3" y1="672.69" x2="1375.3" y2="672.69" stroke="#009E73" stroke-width="3" />
</g>
<g stroke="#009E73" stroke-width="3" opacity="0.4">
<line x1="1457.4" y1="655.68" x2="1457.4" y2="704.3" stroke="#009E73" stroke-width="3" />
<line x1="1448.9" y1="655.68" x2="1465.9" y2="655.68" stroke="#009E73" stroke-width="3" />
<line x1="1448.9" y1="704.3" x2="1465.9" y2="704.3" stroke="#009E73" stroke-width="3" />
</g>
<g stroke="#0072B2" stroke-width="3" opacity="0.4">
<line x1="1366.8" y1="528.05" x2="1366.8" y2="586.39" stroke="#0072B2" stroke-width="3" />
<line x1="1358.3" y1="528.05" x2="1375.3" y2="528.05" stroke="#0072B2" stroke-width="3" />
<line x1="1358.3" y1="586.39" x2="1375.3" y2="586.39" stroke="#0072B2" stroke-width="3" />
</g>
<g stroke="#0072B2" stroke-width="3" opacity="0.4">
<line x1="1457.4" y1="621.64" x2="1457.4" y2="650.81" stroke="#0072B2" stroke-width="3" />
<line x1="1448.9" y1="621.64" x2="1465.9" y2="621.64" stroke="#0072B2" stroke-width="3" />
<line x1="1448.9" y1="650.81" x2="1465.9" y2="650.81" stroke="#0072B2" stroke-width="3" />
</g>
<g stroke="#0072B2" stroke-width="3" opacity="0.4">
<line x1="1638.6" y1="645.95" x2="1638.6" y2="694.57" stroke="#0072B2" stroke-width="3" />
<line x1="1630.1" y1="645.95" x2="1647.1" y2="645.95" stroke="#0072B2" stroke-width="3" />
<line x1="1630.1" y1="694.57" x2="1647.1" y2="694.57" stroke="#0072B2" stroke-width="3" />
</g>
<g stroke="#CC79A7" stroke-width="3" opacity="0.4">
<line x1="1366.8" y1="546.28" x2="1366.8" y2="614.35" stroke="#CC79A7" stroke-width="3" />
<line x1="1358.3" y1="546.28" x2="1375.3" y2="546.28" stroke="#CC79A7" stroke-width="3" />
<line x1="1358.3" y1="614.35" x2="1375.3" y2="614.35" stroke="#CC79A7" stroke-width="3" />
</g>
<g stroke="#CC79A7" stroke-width="3" opacity="0.4">
<line x1="1457.4" y1="677.56" x2="1457.4" y2="706.73" stroke="#CC79A7" stroke-width="3" />
<line x1="1448.9" y1="677.56" x2="1465.9" y2="677.56" stroke="#CC79A7" stroke-width="3" />
<line x1="1448.9" y1="706.73" x2="1465.9" y2="706.73" stroke="#CC79A7" stroke-width="3" />
</g>
<g stroke="#CC79A7" stroke-width="3" opacity="0.4">
<line x1="1638.6" y1="699.43" x2="1638.6" y2="714.02" stroke="#CC79A7" stroke-width="3" />
<line x1="1630.1" y1="699.43" x2="1647.1" y2="699.43" stroke="#CC79A7" stroke-width="3" />
<line x1="1630.1" y1="714.02" x2="1647.1" y2="714.02" stroke="#CC79A7" stroke-width="3" />
</g>
<polyline points="1294.32,492.8 1321.5,492.8 1366.8,515.89 1457.4,610.7 1638.6,662.97" fill="none" stroke="#a8a8a8" stroke-width="4" stroke-linejoin="round" />
<circle cx="1294.32" cy="492.8" r="7.3" fill="#a8a8a8" stroke="none" stroke-width="0" />
<circle cx="1321.5" cy="492.8" r="7.3" fill="#a8a8a8" stroke="none" stroke-width="0" />
<circle cx="1366.8" cy="515.89" r="7.3" fill="#a8a8a8" stroke="none" stroke-width="0" />
<circle cx="1457.4" cy="610.7" r="7.3" fill="#a8a8a8" stroke="none" stroke-width="0" />
<circle cx="1638.6" cy="662.97" r="7.3" fill="#a8a8a8" stroke="none" stroke-width="0" />
<polyline points="1294.32,495.23 1321.5,525.62 1366.8,611.92 1457.4,679.99 1638.6,710.37" fill="none" stroke="#009E73" stroke-width="4" stroke-linejoin="round" />
<circle cx="1294.32" cy="495.23" r="7.3" fill="#009E73" stroke="none" stroke-width="0" />
<circle cx="1321.5" cy="525.62" r="7.3" fill="#009E73" stroke="none" stroke-width="0" />
<circle cx="1366.8" cy="611.92" r="7.3" fill="#009E73" stroke="none" stroke-width="0" />
<circle cx="1457.4" cy="679.99" r="7.3" fill="#009E73" stroke="none" stroke-width="0" />
<circle cx="1638.6" cy="710.37" r="7.3" fill="#009E73" stroke="none" stroke-width="0" />
<polyline points="1294.32,495.23 1321.5,502.52 1366.8,557.22 1457.4,636.23 1638.6,670.26" fill="none" stroke="#0072B2" stroke-width="4" stroke-linejoin="round" />
<circle cx="1294.32" cy="495.23" r="7.3" fill="#0072B2" stroke="none" stroke-width="0" />
<circle cx="1321.5" cy="502.52" r="7.3" fill="#0072B2" stroke="none" stroke-width="0" />
<circle cx="1366.8" cy="557.22" r="7.3" fill="#0072B2" stroke="none" stroke-width="0" />
<circle cx="1457.4" cy="636.23" r="7.3" fill="#0072B2" stroke="none" stroke-width="0" />
<circle cx="1638.6" cy="670.26" r="7.3" fill="#0072B2" stroke="none" stroke-width="0" />
<polyline points="1294.32,497.66 1321.5,497.66 1366.8,580.32 1457.4,692.14 1638.6,706.73" fill="none" stroke="#CC79A7" stroke-width="4" stroke-linejoin="round" />
<circle cx="1294.32" cy="497.66" r="7.3" fill="#CC79A7" stroke="none" stroke-width="0" />
<circle cx="1321.5" cy="497.66" r="7.3" fill="#CC79A7" stroke="none" stroke-width="0" />
<circle cx="1366.8" cy="580.32" r="7.3" fill="#CC79A7" stroke="none" stroke-width="0" />
<circle cx="1457.4" cy="692.14" r="7.3" fill="#CC79A7" stroke="none" stroke-width="0" />
<circle cx="1638.6" cy="706.73" r="7.3" fill="#CC79A7" stroke="none" stroke-width="0" />
<circle cx="1294.32" cy="492.8" r="7.3" fill="#a8a8a8" stroke="none" stroke-width="0" />
<circle cx="1321.5" cy="492.8" r="7.3" fill="#a8a8a8" stroke="none" stroke-width="0" />
<rect x="1276.2" y="479.8" width="379.1" height="246.9" fill="none" stroke="#111" stroke-width="1.5"/>
<text x="1262.2" y="501.8" font-size="26" text-anchor="end">100</text>
<text x="1262.2" y="562.57" font-size="26" text-anchor="end">75</text>
<text x="1262.2" y="623.35" font-size="26" text-anchor="end">50</text>
<text x="1262.2" y="684.12" font-size="26" text-anchor="end">25</text>
<text x="1276.2" y="758.2" font-size="25.5" text-anchor="middle">0</text>
<text x="1366.8" y="758.2" font-size="25.5" text-anchor="middle">10</text>
<text x="1457.4" y="758.2" font-size="25.5" text-anchor="middle">20</text>
<text x="1548" y="758.2" font-size="25.5" text-anchor="middle">30</text>
<text x="1638.6" y="758.2" font-size="25.5" text-anchor="middle">40</text>
<text x="1381.7" y="801" font-size="25.5" textLength="168.3" lengthAdjust="spacingAndGlyphs">Frequency (Hz)</text>
<text x="1204" y="606.7" font-size="25.5" text-anchor="middle" textLength="181.7" lengthAdjust="spacingAndGlyphs" transform="rotate(-90 1204 606.7)">Spike fidelity (%)</text>
<text x="1648.5" y="508.8" font-size="25.5" fill="#9a9a9a" text-anchor="end">ChR2</text>
<text x="1648.5" y="536.6" font-size="25.5" fill="#CC79A7" text-anchor="end">ChRger1</text>
<text x="1648.5" y="564.4" font-size="25.5" fill="#0072B2" text-anchor="end">ChRger2</text>
<text x="1648.5" y="591.6" font-size="25.5" fill="#009E73" text-anchor="end">ChRger3</text>
<text x="1706.8" y="24" font-size="31" textLength="8.88" lengthAdjust="spacingAndGlyphs" font-weight="bold">f</text>
<text x="1767.6" y="75.6" font-size="25.5" textLength="158.4" lengthAdjust="spacingAndGlyphs">Light intensity:</text>
<text x="1732.8" y="108" font-size="25.5" textLength="226.8" lengthAdjust="spacingAndGlyphs">3 × 10<tspan dy="-10.71" font-size="17.34">−2</tspan><tspan dy="10.71"> (mW mm</tspan><tspan dy="-10.71" font-size="17.34">−2</tspan><tspan dy="10.71">)</tspan></text>
<rect x="1707" y="131.5" width="8.5" height="63.4" fill="#000" />
<text x="1726" y="171.6" font-size="25.5" textLength="71" lengthAdjust="spacingAndGlyphs">50 mV</text>
<text x="1814.4" y="185.3" font-size="25.5" fill="#9a9a9a" textLength="62.4" lengthAdjust="spacingAndGlyphs">ChR2</text>
<text x="1805.3" y="288" font-size="25.5" textLength="80.7" lengthAdjust="spacingAndGlyphs">CoChR</text>
<text x="1796.2" y="366.3" font-size="25.5" fill="#CC79A7" textLength="96.2" lengthAdjust="spacingAndGlyphs">ChRger1</text>
<text x="1796" y="491.2" font-size="25.5" fill="#0072B2" textLength="99" lengthAdjust="spacingAndGlyphs">ChRger2</text>
<text x="1796" y="622.6" font-size="25.5" fill="#009E73" textLength="99" lengthAdjust="spacingAndGlyphs">ChRger3</text>
<path d="M1730.4,215.3 L1735,215.3 L1735.5,214 L1736.1,200.5 L1736.8,213 L1740.06,214.3 L1740.56,214 L1741.16,200.5 L1741.86,213 L1745.13,214.3 L1745.63,214 L1746.23,200.5 L1746.93,213 L1750.19,214.3 L1750.69,214 L1751.29,200.5 L1751.99,213 L1755.26,214.3 L1755.76,214 L1756.36,200.5 L1757.06,213 L1760.32,214.3 L1760.82,214 L1761.42,200.5 L1762.12,213 L1765.38,214.3 L1765.88,214 L1766.48,200.5 L1767.18,213 L1770.45,214.3 L1770.95,214 L1771.55,200.5 L1772.25,213 L1775.51,214.3 L1776.01,214 L1776.61,200.5 L1777.31,213 L1780.58,214.3 L1781.08,214 L1781.68,200.5 L1782.38,213 L1785.64,214.3 L1786.14,214 L1786.74,200.5 L1787.44,213 L1790.71,214.3 L1791.21,214 L1791.81,200.5 L1792.51,213 L1795.77,214.3 L1796.27,214 L1796.87,200.5 L1797.57,213 L1800.83,214.3 L1801.33,214 L1801.93,200.5 L1802.63,213 L1805.9,214.3 L1806.4,214 L1807,200.5 L1807.7,213 L1810.96,214.3 L1811.46,214 L1812.06,200.5 L1812.76,213 L1816.03,214.3 L1816.53,214 L1817.13,200.5 L1817.83,213 L1821.09,214.3 L1821.59,214 L1822.19,200.5 L1822.89,213 L1826.15,214.3 L1826.65,214 L1827.25,200.5 L1827.95,213 L1831.22,214.3 L1831.72,214 L1832.32,200.5 L1833.02,213 L1836.28,214.3 L1836.78,214 L1837.38,200.5 L1838.08,213 L1841.35,214.3 L1841.85,214 L1842.45,200.5 L1843.15,213 L1846.41,214.3 L1846.91,214 L1847.51,200.5 L1848.21,213 L1851.47,214.3 L1851.97,214 L1852.57,200.5 L1853.27,213 L1856.54,214.3 L1857.04,214 L1857.64,200.5 L1858.34,213 L1861.6,214.3 L1862.1,214 L1862.7,200.5 L1863.4,213 L1866.67,214.3 L1867.17,214 L1867.77,200.5 L1868.47,213 L1871.73,214.3 L1872.23,214 L1872.83,200.5 L1873.53,213 L1876.79,214.3 L1877.29,214 L1877.89,200.5 L1878.59,213 L1881.86,214.3 L1882.36,214 L1882.96,200.5 L1883.66,213 L1886.92,214.3 L1887.42,214 L1888.02,200.5 L1888.72,213 L1891.99,214.3 L1892.49,214 L1893.09,200.5 L1893.79,213 L1897.05,214.3 L1897.55,214 L1898.15,200.5 L1898.85,213 L1902.12,214.3 L1902.62,214 L1903.22,200.5 L1903.92,213 L1907.18,214.3 L1907.68,214 L1908.28,200.5 L1908.98,213 L1912.24,214.3 L1912.74,214 L1913.34,200.5 L1914.04,213 L1917.31,214.3 L1917.81,214 L1918.41,200.5 L1919.11,213 L1922.37,214.3 L1922.87,214 L1923.47,200.5 L1924.17,213 L1927.44,214.3 L1927.94,214 L1928.54,200.5 L1929.24,213 L1932.5,214.3 L1933,214 L1933.6,200.5 L1934.3,213 L1937.56,214.3 L1947,215.3" fill="none" stroke="#a0a0a0" stroke-width="1.4"/>
<path d="M1730.4,320.4 L1735,320.4 L1735.5,318 L1736.7,303.8 L1737.7,312 Q1738.7,319.5 1740.36,319.3 L1740.56,318 L1741.76,303.8 L1742.76,312 Q1743.76,319.5 1745.43,319.3 L1745.63,318 L1746.83,303.8 L1747.83,312 Q1748.83,319.5 1750.49,319.3 L1750.69,318 L1751.89,303.8 L1752.89,312 Q1753.89,319.5 1755.56,319.3 L1755.76,318 L1756.96,303.8 L1757.96,312 Q1758.96,319.5 1760.62,319.3 L1760.82,318 L1762.02,303.8 L1763.02,312 Q1764.02,319.5 1765.68,319.3 L1765.88,318 L1767.08,303.8 L1768.08,312 Q1769.08,319.5 1770.75,319.3 L1770.95,318 L1772.15,303.8 L1773.15,312 Q1774.15,319.5 1775.81,319.3 L1776.01,318 L1777.21,303.8 L1778.21,312 Q1779.21,319.5 1780.88,319.3 L1781.08,318 L1782.28,303.8 L1783.28,312 Q1784.28,319.5 1785.94,319.3 L1786.14,318 L1787.34,303.8 L1788.34,312 Q1789.34,319.5 1791.01,319.3 L1791.21,318 L1792.41,303.8 L1793.41,312 Q1794.41,319.5 1796.07,319.3 L1796.27,318 L1797.47,303.8 L1798.47,312 Q1799.47,319.5 1801.13,319.3 L1801.33,318 L1802.53,303.8 L1803.53,312 Q1804.53,319.5 1806.2,319.3 L1806.4,318 L1807.6,303.8 L1808.6,312 Q1809.6,319.5 1811.26,319.3 L1811.46,318 L1812.66,303.8 L1813.66,312 Q1814.66,319.5 1816.33,319.3 L1816.53,318 L1817.73,303.8 L1818.73,312 Q1819.73,319.5 1821.39,319.3 L1821.59,318 L1822.79,303.8 L1823.79,312 Q1824.79,319.5 1826.45,319.3 L1826.65,318 L1827.85,303.8 L1828.85,312 Q1829.85,319.5 1831.52,319.3 L1831.72,318 L1832.92,303.8 L1833.92,312 Q1834.92,319.5 1836.58,319.3 L1836.78,318 L1837.98,303.8 L1838.98,312 Q1839.98,319.5 1841.65,319.3 L1841.85,318 L1843.05,303.8 L1844.05,312 Q1845.05,319.5 1846.71,319.3 L1846.91,318 L1848.11,303.8 L1849.11,312 Q1850.11,319.5 1851.77,319.3 L1851.97,318 L1853.17,303.8 L1854.17,312 Q1855.17,319.5 1856.84,319.3 L1857.04,318 L1858.24,303.8 L1859.24,312 Q1860.24,319.5 1861.9,319.3 L1862.1,318 L1863.3,303.8 L1864.3,312 Q1865.3,319.5 1866.97,319.3 L1867.17,318 L1868.37,303.8 L1869.37,312 Q1870.37,319.5 1872.03,319.3 L1872.23,318 L1873.43,303.8 L1874.43,312 Q1875.43,319.5 1877.09,319.3 L1877.29,318 L1878.49,303.8 L1879.49,312 Q1880.49,319.5 1882.16,319.3 L1882.36,318 L1883.56,303.8 L1884.56,312 Q1885.56,319.5 1887.22,319.3 L1887.42,318 L1888.62,303.8 L1889.62,312 Q1890.62,319.5 1892.29,319.3 L1892.49,318 L1893.69,303.8 L1894.69,312 Q1895.69,319.5 1897.35,319.3 L1897.55,318 L1898.75,303.8 L1899.75,312 Q1900.75,319.5 1902.42,319.3 L1902.62,318 L1903.82,303.8 L1904.82,312 Q1905.82,319.5 1907.48,319.3 L1907.68,318 L1908.88,303.8 L1909.88,312 Q1910.88,319.5 1912.54,319.3 L1912.74,318 L1913.94,303.8 L1914.94,312 Q1915.94,319.5 1917.61,319.3 L1917.81,318 L1919.01,303.8 L1920.01,312 Q1921.01,319.5 1922.67,319.3 L1922.87,318 L1924.07,303.8 L1925.07,312 Q1926.07,319.5 1927.74,319.3 L1927.94,318 L1929.14,303.8 L1930.14,312 Q1931.14,319.5 1932.8,319.3 L1933,318 L1934.2,303.8 L1935.2,312 Q1936.2,319.5 1937.86,319.3 L1940,319.5 L1947,320.4" fill="none" stroke="#000" stroke-width="1.7"/>
<path d="M1728.6,466.2 L1734,466.2 L1734.3,424 L1734.5,400.5 L1735.1,426 Q1736.18,445 1738.69,445 L1739.04,424 L1739.54,386 L1740.14,426 Q1741.21,445 1743.73,445 L1744.08,424 L1744.58,386 L1745.18,426 Q1746.25,445 1748.77,445 L1749.12,424 L1749.62,386 L1750.22,426 Q1751.29,445 1753.8,445 L1754.15,424 L1754.65,386 L1755.25,426 Q1756.33,445 1758.84,445 L1759.19,424 L1759.69,386 L1760.29,426 Q1761.37,445 1763.88,445 L1764.23,424 L1764.73,386 L1765.33,426 Q1766.41,445 1768.92,445 L1769.27,424 L1769.77,386 L1770.37,426 Q1771.45,445 1773.96,445 L1774.31,424 L1774.81,386 L1775.41,426 Q1776.48,445 1779,445 L1779.35,424 L1779.85,386 L1780.45,426 Q1781.52,445 1784.03,445 L1784.38,424 L1784.88,386 L1785.48,426 Q1786.56,445 1789.07,445 L1789.42,424 L1789.92,386 L1790.52,426 Q1791.6,445 1794.11,445 L1794.46,424 L1794.96,386 L1795.56,426 Q1796.64,445 1799.15,445 L1799.5,424 L1800,386 L1800.6,426 Q1801.68,445 1804.19,445 L1804.54,424 L1805.04,386 L1805.64,426 Q1806.71,445 1809.23,445 L1809.58,424 L1810.08,386 L1810.68,426 Q1811.75,445 1814.27,445 L1814.62,424 L1815.12,386 L1815.72,426 Q1816.79,445 1819.3,445 L1819.65,424 L1820.15,386 L1820.75,426 Q1821.83,445 1824.34,445 L1824.69,424 L1825.19,386 L1825.79,426 Q1826.87,445 1829.38,445 L1829.73,424 L1830.23,386 L1830.83,426 Q1831.91,445 1834.42,445 L1834.77,424 L1835.27,386 L1835.87,426 Q1836.95,445 1839.46,445 L1839.81,424 L1840.31,386 L1840.91,426 Q1841.98,445 1844.5,445 L1844.85,424 L1845.35,386 L1845.95,426 Q1847.02,445 1849.53,445 L1849.88,424 L1850.38,386 L1850.98,426 Q1852.06,445 1854.57,445 L1854.92,424 L1855.42,386 L1856.02,426 Q1857.1,445 1859.61,445 L1859.96,424 L1860.46,386 L1861.06,426 Q1862.14,445 1864.65,445 L1865,424 L1865.5,386 L1866.1,426 Q1867.18,445 1869.69,445 L1870.04,424 L1870.54,386 L1871.14,426 Q1872.21,445 1874.73,445 L1875.08,424 L1875.58,386 L1876.18,426 Q1877.25,445 1879.77,445 L1880.12,424 L1880.62,386 L1881.22,426 Q1882.29,445 1884.8,445 L1885.15,424 L1885.65,386 L1886.25,426 Q1887.33,445 1889.84,445 L1890.19,424 L1890.69,386 L1891.29,426 Q1892.37,445 1894.88,445 L1895.23,424 L1895.73,386 L1896.33,426 Q1897.41,445 1899.92,445 L1900.27,424 L1900.77,386 L1901.37,426 Q1902.45,445 1904.96,445 L1905.31,424 L1905.81,386 L1906.41,426 Q1907.48,445 1910,445 L1910.35,424 L1910.85,386 L1911.45,426 Q1912.52,445 1915.03,445 L1915.38,424 L1915.88,386 L1916.48,426 Q1917.56,445 1920.07,445 L1920.42,424 L1920.92,386 L1921.52,426 Q1922.6,445 1925.11,445 L1925.46,424 L1925.96,386 L1926.56,426 Q1927.64,445 1930.15,445 L1930.5,424 L1931,386 L1931.6,426 C1934.6,445 1939.2,466.2 1946.8,466.2" fill="none" stroke="#CC79A7" stroke-width="1.4" stroke-linejoin="round"/>
<path d="M1730.5,584.5 L1734,584.5 L1734.3,555 L1734.5,512.2 L1735.1,557 Q1736.19,578 1738.73,578 L1739.08,555 L1739.58,512.2 L1740.18,557 Q1741.26,578 1743.8,578 L1744.15,555 L1744.65,512.2 L1745.25,557 Q1746.34,578 1748.88,578 L1749.23,555 L1749.73,512.2 L1750.33,557 Q1751.42,578 1753.96,578 L1754.31,555 L1754.81,512.2 L1755.41,557 Q1756.5,578 1759.03,578 L1759.38,555 L1759.88,512.2 L1760.48,557 Q1761.57,578 1764.11,578 L1764.46,555 L1764.96,512.2 L1765.56,557 Q1766.65,578 1769.19,578 L1769.54,555 L1770.04,512.2 L1770.64,557 Q1771.73,578 1774.27,578 L1774.62,555 L1775.12,512.2 L1775.72,557 Q1776.8,578 1779.34,578 L1779.69,555 L1780.19,512.2 L1780.79,557 Q1781.88,578 1784.42,578 L1784.77,555 L1785.27,512.2 L1785.87,557 Q1786.96,578 1789.5,578 L1789.85,555 L1790.35,512.2 L1790.95,557 Q1792.03,578 1794.57,578 L1794.92,555 L1795.42,512.2 L1796.02,557 Q1797.11,578 1799.65,578 L1800,555 L1800.5,512.2 L1801.1,557 Q1802.19,578 1804.73,578 L1805.08,555 L1805.58,512.2 L1806.18,557 Q1807.26,578 1809.8,578 L1810.15,555 L1810.65,512.2 L1811.25,557 Q1812.34,578 1814.88,578 L1815.23,555 L1815.73,512.2 L1816.33,557 Q1817.42,578 1819.96,578 L1820.31,555 L1820.81,512.2 L1821.41,557 Q1822.5,578 1825.03,578 L1825.38,555 L1825.88,512.2 L1826.48,557 Q1827.57,578 1830.11,578 L1830.46,555 L1830.96,512.2 L1831.56,557 Q1832.65,578 1835.19,578 L1835.54,555 L1836.04,512.2 L1836.64,557 Q1837.73,578 1840.27,578 L1840.62,555 L1841.12,512.2 L1841.72,557 Q1842.8,578 1845.34,578 L1845.69,555 L1846.19,512.2 L1846.79,557 Q1847.88,578 1850.42,578 L1850.77,555 L1851.27,512.2 L1851.87,557 Q1852.96,578 1855.5,578 L1855.85,555 L1856.35,512.2 L1856.95,557 Q1858.03,578 1860.57,578 L1860.92,555 L1861.42,512.2 L1862.02,557 Q1863.11,578 1865.65,578 L1866,555 L1866.5,512.2 L1867.1,557 Q1868.19,578 1870.73,578 L1871.08,555 L1871.58,512.2 L1872.18,557 Q1873.26,578 1875.8,578 L1876.15,555 L1876.65,512.2 L1877.25,557 Q1878.34,578 1880.88,578 L1881.23,555 L1881.73,512.2 L1882.33,557 Q1883.42,578 1885.96,578 L1886.31,555 L1886.81,512.2 L1887.41,557 Q1888.5,578 1891.03,578 L1891.38,555 L1891.88,512.2 L1892.48,557 Q1893.57,578 1896.11,578 L1896.46,555 L1896.96,512.2 L1897.56,557 Q1898.65,578 1901.19,578 L1901.54,555 L1902.04,512.2 L1902.64,557 Q1903.73,578 1906.27,578 L1906.62,555 L1907.12,512.2 L1907.72,557 Q1908.8,578 1911.34,578 L1911.69,555 L1912.19,512.2 L1912.79,557 Q1913.88,578 1916.42,578 L1916.77,555 L1917.27,512.2 L1917.87,557 Q1918.96,578 1921.5,578 L1921.85,555 L1922.35,512.2 L1922.95,557 Q1924.03,578 1926.57,578 L1926.92,555 L1927.42,512.2 L1928.02,557 Q1929.11,578 1931.65,578 L1932,555 L1932.5,512.2 L1933.1,557 C1936.1,578 1939.95,584.5 1946.8,584.5" fill="none" stroke="#0072B2" stroke-width="1.4" stroke-linejoin="round"/>
<path d="M1730.5,716 L1734,716 L1734.3,690 L1734.5,643.6 L1735.1,692 Q1736.19,713 1738.73,713 L1739.08,690 L1739.58,643.6 L1740.18,692 Q1741.26,713 1743.8,713 L1744.15,690 L1744.65,643.6 L1745.25,692 Q1746.34,713 1748.88,713 L1749.23,690 L1749.73,643.6 L1750.33,692 Q1751.42,713 1753.96,713 L1754.31,690 L1754.81,643.6 L1755.41,692 Q1756.5,713 1759.03,713 L1759.38,690 L1759.88,643.6 L1760.48,692 Q1761.57,713 1764.11,713 L1764.46,690 L1764.96,643.6 L1765.56,692 Q1766.65,713 1769.19,713 L1769.54,690 L1770.04,643.6 L1770.64,692 Q1771.73,713 1774.27,713 L1774.62,690 L1775.12,643.6 L1775.72,692 Q1776.8,713 1779.34,713 L1779.69,690 L1780.19,643.6 L1780.79,692 Q1781.88,713 1784.42,713 L1784.77,690 L1785.27,643.6 L1785.87,692 Q1786.96,713 1789.5,713 L1789.85,690 L1790.35,643.6 L1790.95,692 Q1792.03,713 1794.57,713 L1794.92,690 L1795.42,643.6 L1796.02,692 Q1797.11,713 1799.65,713 L1800,690 L1800.5,643.6 L1801.1,692 Q1802.19,713 1804.73,713 L1805.08,690 L1805.58,643.6 L1806.18,692 Q1807.26,713 1809.8,713 L1810.15,690 L1810.65,643.6 L1811.25,692 Q1812.34,713 1814.88,713 L1815.23,690 L1815.73,643.6 L1816.33,692 Q1817.42,713 1819.96,713 L1820.31,690 L1820.81,643.6 L1821.41,692 Q1822.5,713 1825.03,713 L1825.38,690 L1825.88,643.6 L1826.48,692 Q1827.57,713 1830.11,713 L1830.46,690 L1830.96,643.6 L1831.56,692 Q1832.65,713 1835.19,713 L1835.54,690 L1836.04,643.6 L1836.64,692 Q1837.73,713 1840.27,713 L1840.62,690 L1841.12,643.6 L1841.72,692 Q1842.8,713 1845.34,713 L1845.69,690 L1846.19,643.6 L1846.79,692 Q1847.88,713 1850.42,713 L1850.77,690 L1851.27,643.6 L1851.87,692 Q1852.96,713 1855.5,713 L1855.85,690 L1856.35,643.6 L1856.95,692 Q1858.03,713 1860.57,713 L1860.92,690 L1861.42,643.6 L1862.02,692 Q1863.11,713 1865.65,713 L1866,690 L1866.5,643.6 L1867.1,692 Q1868.19,713 1870.73,713 L1871.08,690 L1871.58,643.6 L1872.18,692 Q1873.26,713 1875.8,713 L1876.15,690 L1876.65,643.6 L1877.25,692 Q1878.34,713 1880.88,713 L1881.23,690 L1881.73,643.6 L1882.33,692 Q1883.42,713 1885.96,713 L1886.31,690 L1886.81,643.6 L1887.41,692 Q1888.5,713 1891.03,713 L1891.38,690 L1891.88,643.6 L1892.48,692 Q1893.57,713 1896.11,713 L1896.46,690 L1896.96,643.6 L1897.56,692 Q1898.65,713 1901.19,713 L1901.54,690 L1902.04,643.6 L1902.64,692 Q1903.73,713 1906.27,713 L1906.62,690 L1907.12,643.6 L1907.72,692 Q1908.8,713 1911.34,713 L1911.69,690 L1912.19,643.6 L1912.79,692 Q1913.88,713 1916.42,713 L1916.77,690 L1917.27,643.6 L1917.87,692 Q1918.96,713 1921.5,713 L1921.85,690 L1922.35,643.6 L1922.95,692 Q1924.03,713 1926.57,713 L1926.92,690 L1927.42,643.6 L1928.02,692 Q1929.11,713 1931.65,713 L1932,690 L1932.5,643.6 L1933.1,692 C1936.1,713 1939.95,716 1946.8,716" fill="none" stroke="#009E73" stroke-width="1.4" stroke-linejoin="round"/>
<rect x="1729.2" y="727.2" width="19.8" height="7.1" fill="#000" />
<text x="1722.6" y="763.2" font-size="25.5" textLength="32.4" lengthAdjust="spacingAndGlyphs">2 s</text>
<text x="-0.5" y="892.5" font-size="31" textLength="16.28" lengthAdjust="spacingAndGlyphs" font-weight="bold">g</text>
<rect x="90.7" y="890" width="54.6" height="4" fill="#000" />
<circle cx="117.3" cy="892" r="8.3" fill="#222" stroke="#000" stroke-width="1.5" />
<rect x="90.7" y="922.1" width="54.6" height="4" fill="#000" />
<circle cx="117.3" cy="924.1" r="7.2" fill="#fff" stroke="#000" stroke-width="2.6" />
<text x="160" y="900.1" font-size="25.5" textLength="290.7" lengthAdjust="spacingAndGlyphs">Direct intracranial injection</text>
<text x="160" y="931.3" font-size="25.5" textLength="348" lengthAdjust="spacingAndGlyphs">Systemic delivery (5 × 10<tspan dy="-10.71" font-size="17.34">11</tspan><tspan dy="10.71"> VG)</tspan></text>
<g stroke="#0072B2" stroke-width="3" opacity="0.35">
<line x1="224" y1="1048" x2="224" y2="1084" stroke="#0072B2" stroke-width="3" />
<line x1="216" y1="1048" x2="232" y2="1048" stroke="#0072B2" stroke-width="3" />
<line x1="216" y1="1084" x2="232" y2="1084" stroke="#0072B2" stroke-width="3" />
</g>
<g stroke="#0072B2" stroke-width="3" opacity="0.35">
<line x1="241.3" y1="1032.5" x2="241.3" y2="1068.5" stroke="#0072B2" stroke-width="3" />
<line x1="233.3" y1="1032.5" x2="249.3" y2="1032.5" stroke="#0072B2" stroke-width="3" />
<line x1="233.3" y1="1068.5" x2="249.3" y2="1068.5" stroke="#0072B2" stroke-width="3" />
</g>
<g stroke="#0072B2" stroke-width="3" opacity="0.35">
<line x1="268.8" y1="1002.7" x2="268.8" y2="1038.7" stroke="#0072B2" stroke-width="3" />
<line x1="260.8" y1="1002.7" x2="276.8" y2="1002.7" stroke="#0072B2" stroke-width="3" />
<line x1="260.8" y1="1038.7" x2="276.8" y2="1038.7" stroke="#0072B2" stroke-width="3" />
</g>
<g stroke="#0072B2" stroke-width="3" opacity="0.35">
<line x1="295.5" y1="984" x2="295.5" y2="1020" stroke="#0072B2" stroke-width="3" />
<line x1="287.5" y1="984" x2="303.5" y2="984" stroke="#0072B2" stroke-width="3" />
<line x1="287.5" y1="1020" x2="303.5" y2="1020" stroke="#0072B2" stroke-width="3" />
</g>
<g stroke="#0072B2" stroke-width="3" opacity="0.35">
<line x1="315.2" y1="982.7" x2="315.2" y2="1018.7" stroke="#0072B2" stroke-width="3" />
<line x1="307.2" y1="982.7" x2="323.2" y2="982.7" stroke="#0072B2" stroke-width="3" />
<line x1="307.2" y1="1018.7" x2="323.2" y2="1018.7" stroke="#0072B2" stroke-width="3" />
</g>
<g stroke="#0072B2" stroke-width="3" opacity="0.35">
<line x1="384" y1="982.7" x2="384" y2="1018.7" stroke="#0072B2" stroke-width="3" />
<line x1="376" y1="982.7" x2="392" y2="982.7" stroke="#0072B2" stroke-width="3" />
<line x1="376" y1="1018.7" x2="392" y2="1018.7" stroke="#0072B2" stroke-width="3" />
</g>
<g stroke="#0072B2" stroke-width="3" opacity="0.35">
<line x1="391.5" y1="991.5" x2="391.5" y2="1027.5" stroke="#0072B2" stroke-width="3" />
<line x1="383.5" y1="991.5" x2="399.5" y2="991.5" stroke="#0072B2" stroke-width="3" />
<line x1="383.5" y1="1027.5" x2="399.5" y2="1027.5" stroke="#0072B2" stroke-width="3" />
</g>
<g stroke="#0072B2" stroke-width="3" opacity="0.35">
<line x1="414.7" y1="988" x2="414.7" y2="1024" stroke="#0072B2" stroke-width="3" />
<line x1="406.7" y1="988" x2="422.7" y2="988" stroke="#0072B2" stroke-width="3" />
<line x1="406.7" y1="1024" x2="422.7" y2="1024" stroke="#0072B2" stroke-width="3" />
</g>
<g stroke="#0072B2" stroke-width="3" opacity="0.35">
<line x1="440" y1="994.7" x2="440" y2="1030.7" stroke="#0072B2" stroke-width="3" />
<line x1="432" y1="994.7" x2="448" y2="994.7" stroke="#0072B2" stroke-width="3" />
<line x1="432" y1="1030.7" x2="448" y2="1030.7" stroke="#0072B2" stroke-width="3" />
</g>
<g stroke="#0072B2" stroke-width="3" opacity="0.35">
<line x1="465.3" y1="993.3" x2="465.3" y2="1029.3" stroke="#0072B2" stroke-width="3" />
<line x1="457.3" y1="993.3" x2="473.3" y2="993.3" stroke="#0072B2" stroke-width="3" />
<line x1="457.3" y1="1029.3" x2="473.3" y2="1029.3" stroke="#0072B2" stroke-width="3" />
</g>
<g stroke="#0072B2" stroke-width="3" opacity="0.35">
<line x1="483.2" y1="997.3" x2="483.2" y2="1033.3" stroke="#0072B2" stroke-width="3" />
<line x1="475.2" y1="997.3" x2="491.2" y2="997.3" stroke="#0072B2" stroke-width="3" />
<line x1="475.2" y1="1033.3" x2="491.2" y2="1033.3" stroke="#0072B2" stroke-width="3" />
</g>
<g stroke="#0072B2" stroke-width="3" opacity="0.35">
<line x1="490.7" y1="1000" x2="490.7" y2="1036" stroke="#0072B2" stroke-width="3" />
<line x1="482.7" y1="1000" x2="498.7" y2="1000" stroke="#0072B2" stroke-width="3" />
<line x1="482.7" y1="1036" x2="498.7" y2="1036" stroke="#0072B2" stroke-width="3" />
</g>
<g stroke="#0072B2" stroke-width="3" opacity="0.35">
<line x1="224" y1="1075.3" x2="224" y2="1107.3" stroke="#0072B2" stroke-width="3" />
<line x1="216" y1="1075.3" x2="232" y2="1075.3" stroke="#0072B2" stroke-width="3" />
<line x1="216" y1="1107.3" x2="232" y2="1107.3" stroke="#0072B2" stroke-width="3" />
</g>
<g stroke="#0072B2" stroke-width="3" opacity="0.35">
<line x1="241.3" y1="1062" x2="241.3" y2="1094" stroke="#0072B2" stroke-width="3" />
<line x1="233.3" y1="1062" x2="249.3" y2="1062" stroke="#0072B2" stroke-width="3" />
<line x1="233.3" y1="1094" x2="249.3" y2="1094" stroke="#0072B2" stroke-width="3" />
</g>
<g stroke="#0072B2" stroke-width="3" opacity="0.35">
<line x1="268.8" y1="1031.3" x2="268.8" y2="1063.3" stroke="#0072B2" stroke-width="3" />
<line x1="260.8" y1="1031.3" x2="276.8" y2="1031.3" stroke="#0072B2" stroke-width="3" />
<line x1="260.8" y1="1063.3" x2="276.8" y2="1063.3" stroke="#0072B2" stroke-width="3" />
</g>
<g stroke="#0072B2" stroke-width="3" opacity="0.35">
<line x1="295.5" y1="1011.3" x2="295.5" y2="1043.3" stroke="#0072B2" stroke-width="3" />
<line x1="287.5" y1="1011.3" x2="303.5" y2="1011.3" stroke="#0072B2" stroke-width="3" />
<line x1="287.5" y1="1043.3" x2="303.5" y2="1043.3" stroke="#0072B2" stroke-width="3" />
</g>
<g stroke="#0072B2" stroke-width="3" opacity="0.35">
<line x1="315.2" y1="1015" x2="315.2" y2="1047" stroke="#0072B2" stroke-width="3" />
<line x1="307.2" y1="1015" x2="323.2" y2="1015" stroke="#0072B2" stroke-width="3" />
<line x1="307.2" y1="1047" x2="323.2" y2="1047" stroke="#0072B2" stroke-width="3" />
</g>
<g stroke="#0072B2" stroke-width="3" opacity="0.35">
<line x1="384" y1="1006.8" x2="384" y2="1038.8" stroke="#0072B2" stroke-width="3" />
<line x1="376" y1="1006.8" x2="392" y2="1006.8" stroke="#0072B2" stroke-width="3" />
<line x1="376" y1="1038.8" x2="392" y2="1038.8" stroke="#0072B2" stroke-width="3" />
</g>
<g stroke="#0072B2" stroke-width="3" opacity="0.35">
<line x1="391.5" y1="1016" x2="391.5" y2="1048" stroke="#0072B2" stroke-width="3" />
<line x1="383.5" y1="1016" x2="399.5" y2="1016" stroke="#0072B2" stroke-width="3" />
<line x1="383.5" y1="1048" x2="399.5" y2="1048" stroke="#0072B2" stroke-width="3" />
</g>
<g stroke="#0072B2" stroke-width="3" opacity="0.35">
<line x1="414.7" y1="1018" x2="414.7" y2="1050" stroke="#0072B2" stroke-width="3" />
<line x1="406.7" y1="1018" x2="422.7" y2="1018" stroke="#0072B2" stroke-width="3" />
<line x1="406.7" y1="1050" x2="422.7" y2="1050" stroke="#0072B2" stroke-width="3" />
</g>
<g stroke="#0072B2" stroke-width="3" opacity="0.35">
<line x1="440" y1="1017" x2="440" y2="1049" stroke="#0072B2" stroke-width="3" />
<line x1="432" y1="1017" x2="448" y2="1017" stroke="#0072B2" stroke-width="3" />
<line x1="432" y1="1049" x2="448" y2="1049" stroke="#0072B2" stroke-width="3" />
</g>
<g stroke="#0072B2" stroke-width="3" opacity="0.35">
<line x1="465.3" y1="1026" x2="465.3" y2="1058" stroke="#0072B2" stroke-width="3" />
<line x1="457.3" y1="1026" x2="473.3" y2="1026" stroke="#0072B2" stroke-width="3" />
<line x1="457.3" y1="1058" x2="473.3" y2="1058" stroke="#0072B2" stroke-width="3" />
</g>
<g stroke="#0072B2" stroke-width="3" opacity="0.35">
<line x1="483.2" y1="1027" x2="483.2" y2="1059" stroke="#0072B2" stroke-width="3" />
<line x1="475.2" y1="1027" x2="491.2" y2="1027" stroke="#0072B2" stroke-width="3" />
<line x1="475.2" y1="1059" x2="491.2" y2="1059" stroke="#0072B2" stroke-width="3" />
</g>
<g stroke="#0072B2" stroke-width="3" opacity="0.35">
<line x1="490.7" y1="1032.7" x2="490.7" y2="1064.7" stroke="#0072B2" stroke-width="3" />
<line x1="482.7" y1="1032.7" x2="498.7" y2="1032.7" stroke="#0072B2" stroke-width="3" />
<line x1="482.7" y1="1064.7" x2="498.7" y2="1064.7" stroke="#0072B2" stroke-width="3" />
</g>
<g stroke="#CC79A7" stroke-width="3" opacity="0.35">
<line x1="224" y1="1083" x2="224" y2="1113" stroke="#CC79A7" stroke-width="3" />
<line x1="216" y1="1083" x2="232" y2="1083" stroke="#CC79A7" stroke-width="3" />
<line x1="216" y1="1113" x2="232" y2="1113" stroke="#CC79A7" stroke-width="3" />
</g>
<g stroke="#CC79A7" stroke-width="3" opacity="0.35">
<line x1="241.3" y1="1072.3" x2="241.3" y2="1102.3" stroke="#CC79A7" stroke-width="3" />
<line x1="233.3" y1="1072.3" x2="249.3" y2="1072.3" stroke="#CC79A7" stroke-width="3" />
<line x1="233.3" y1="1102.3" x2="249.3" y2="1102.3" stroke="#CC79A7" stroke-width="3" />
</g>
<g stroke="#CC79A7" stroke-width="3" opacity="0.35">
<line x1="268.8" y1="1039.8" x2="268.8" y2="1069.8" stroke="#CC79A7" stroke-width="3" />
<line x1="260.8" y1="1039.8" x2="276.8" y2="1039.8" stroke="#CC79A7" stroke-width="3" />
<line x1="260.8" y1="1069.8" x2="276.8" y2="1069.8" stroke="#CC79A7" stroke-width="3" />
</g>
<g stroke="#CC79A7" stroke-width="3" opacity="0.35">
<line x1="295.5" y1="1020.3" x2="295.5" y2="1050.3" stroke="#CC79A7" stroke-width="3" />
<line x1="287.5" y1="1020.3" x2="303.5" y2="1020.3" stroke="#CC79A7" stroke-width="3" />
<line x1="287.5" y1="1050.3" x2="303.5" y2="1050.3" stroke="#CC79A7" stroke-width="3" />
</g>
<g stroke="#CC79A7" stroke-width="3" opacity="0.35">
<line x1="315.2" y1="1016.3" x2="315.2" y2="1046.3" stroke="#CC79A7" stroke-width="3" />
<line x1="307.2" y1="1016.3" x2="323.2" y2="1016.3" stroke="#CC79A7" stroke-width="3" />
<line x1="307.2" y1="1046.3" x2="323.2" y2="1046.3" stroke="#CC79A7" stroke-width="3" />
</g>
<g stroke="#CC79A7" stroke-width="3" opacity="0.35">
<line x1="384" y1="1021" x2="384" y2="1051" stroke="#CC79A7" stroke-width="3" />
<line x1="376" y1="1021" x2="392" y2="1021" stroke="#CC79A7" stroke-width="3" />
<line x1="376" y1="1051" x2="392" y2="1051" stroke="#CC79A7" stroke-width="3" />
</g>
<g stroke="#CC79A7" stroke-width="3" opacity="0.35">
<line x1="391.5" y1="1025.7" x2="391.5" y2="1055.7" stroke="#CC79A7" stroke-width="3" />
<line x1="383.5" y1="1025.7" x2="399.5" y2="1025.7" stroke="#CC79A7" stroke-width="3" />
<line x1="383.5" y1="1055.7" x2="399.5" y2="1055.7" stroke="#CC79A7" stroke-width="3" />
</g>
<g stroke="#CC79A7" stroke-width="3" opacity="0.35">
<line x1="414.7" y1="1029.7" x2="414.7" y2="1059.7" stroke="#CC79A7" stroke-width="3" />
<line x1="406.7" y1="1029.7" x2="422.7" y2="1029.7" stroke="#CC79A7" stroke-width="3" />
<line x1="406.7" y1="1059.7" x2="422.7" y2="1059.7" stroke="#CC79A7" stroke-width="3" />
</g>
<g stroke="#CC79A7" stroke-width="3" opacity="0.35">
<line x1="440" y1="1031" x2="440" y2="1061" stroke="#CC79A7" stroke-width="3" />
<line x1="432" y1="1031" x2="448" y2="1031" stroke="#CC79A7" stroke-width="3" />
<line x1="432" y1="1061" x2="448" y2="1061" stroke="#CC79A7" stroke-width="3" />
</g>
<g stroke="#CC79A7" stroke-width="3" opacity="0.35">
<line x1="465.3" y1="1007.8" x2="465.3" y2="1037.8" stroke="#CC79A7" stroke-width="3" />
<line x1="457.3" y1="1007.8" x2="473.3" y2="1007.8" stroke="#CC79A7" stroke-width="3" />
<line x1="457.3" y1="1037.8" x2="473.3" y2="1037.8" stroke="#CC79A7" stroke-width="3" />
</g>
<g stroke="#CC79A7" stroke-width="3" opacity="0.35">
<line x1="483.2" y1="1001.7" x2="483.2" y2="1031.7" stroke="#CC79A7" stroke-width="3" />
<line x1="475.2" y1="1001.7" x2="491.2" y2="1001.7" stroke="#CC79A7" stroke-width="3" />
<line x1="475.2" y1="1031.7" x2="491.2" y2="1031.7" stroke="#CC79A7" stroke-width="3" />
</g>
<g stroke="#CC79A7" stroke-width="3" opacity="0.35">
<line x1="490.7" y1="1003" x2="490.7" y2="1033" stroke="#CC79A7" stroke-width="3" />
<line x1="482.7" y1="1003" x2="498.7" y2="1003" stroke="#CC79A7" stroke-width="3" />
<line x1="482.7" y1="1033" x2="498.7" y2="1033" stroke="#CC79A7" stroke-width="3" />
</g>
<g stroke="#009E73" stroke-width="3" opacity="0.35">
<line x1="224" y1="1103.7" x2="224" y2="1137.7" stroke="#009E73" stroke-width="3" />
<line x1="216" y1="1103.7" x2="232" y2="1103.7" stroke="#009E73" stroke-width="3" />
<line x1="216" y1="1137.7" x2="232" y2="1137.7" stroke="#009E73" stroke-width="3" />
</g>
<g stroke="#009E73" stroke-width="3" opacity="0.35">
<line x1="241.3" y1="1087.7" x2="241.3" y2="1121.7" stroke="#009E73" stroke-width="3" />
<line x1="233.3" y1="1087.7" x2="249.3" y2="1087.7" stroke="#009E73" stroke-width="3" />
<line x1="233.3" y1="1121.7" x2="249.3" y2="1121.7" stroke="#009E73" stroke-width="3" />
</g>
<g stroke="#009E73" stroke-width="3" opacity="0.35">
<line x1="268.8" y1="1061" x2="268.8" y2="1095" stroke="#009E73" stroke-width="3" />
<line x1="260.8" y1="1061" x2="276.8" y2="1061" stroke="#009E73" stroke-width="3" />
<line x1="260.8" y1="1095" x2="276.8" y2="1095" stroke="#009E73" stroke-width="3" />
</g>
<g stroke="#009E73" stroke-width="3" opacity="0.35">
<line x1="295.5" y1="1034.3" x2="295.5" y2="1068.3" stroke="#009E73" stroke-width="3" />
<line x1="287.5" y1="1034.3" x2="303.5" y2="1034.3" stroke="#009E73" stroke-width="3" />
<line x1="287.5" y1="1068.3" x2="303.5" y2="1068.3" stroke="#009E73" stroke-width="3" />
</g>
<g stroke="#009E73" stroke-width="3" opacity="0.35">
<line x1="315.2" y1="1026.3" x2="315.2" y2="1060.3" stroke="#009E73" stroke-width="3" />
<line x1="307.2" y1="1026.3" x2="323.2" y2="1026.3" stroke="#009E73" stroke-width="3" />
<line x1="307.2" y1="1060.3" x2="323.2" y2="1060.3" stroke="#009E73" stroke-width="3" />
</g>
<g stroke="#009E73" stroke-width="3" opacity="0.35">
<line x1="384" y1="1017" x2="384" y2="1051" stroke="#009E73" stroke-width="3" />
<line x1="376" y1="1017" x2="392" y2="1017" stroke="#009E73" stroke-width="3" />
<line x1="376" y1="1051" x2="392" y2="1051" stroke="#009E73" stroke-width="3" />
</g>
<g stroke="#009E73" stroke-width="3" opacity="0.35">
<line x1="391.5" y1="1010.3" x2="391.5" y2="1044.3" stroke="#009E73" stroke-width="3" />
<line x1="383.5" y1="1010.3" x2="399.5" y2="1010.3" stroke="#009E73" stroke-width="3" />
<line x1="383.5" y1="1044.3" x2="399.5" y2="1044.3" stroke="#009E73" stroke-width="3" />
</g>
<g stroke="#009E73" stroke-width="3" opacity="0.35">
<line x1="414.7" y1="1010.3" x2="414.7" y2="1044.3" stroke="#009E73" stroke-width="3" />
<line x1="406.7" y1="1010.3" x2="422.7" y2="1010.3" stroke="#009E73" stroke-width="3" />
<line x1="406.7" y1="1044.3" x2="422.7" y2="1044.3" stroke="#009E73" stroke-width="3" />
</g>
<g stroke="#009E73" stroke-width="3" opacity="0.35">
<line x1="440" y1="1010.3" x2="440" y2="1044.3" stroke="#009E73" stroke-width="3" />
<line x1="432" y1="1010.3" x2="448" y2="1010.3" stroke="#009E73" stroke-width="3" />
<line x1="432" y1="1044.3" x2="448" y2="1044.3" stroke="#009E73" stroke-width="3" />
</g>
<g stroke="#009E73" stroke-width="3" opacity="0.35">
<line x1="465.3" y1="1011" x2="465.3" y2="1045" stroke="#009E73" stroke-width="3" />
<line x1="457.3" y1="1011" x2="473.3" y2="1011" stroke="#009E73" stroke-width="3" />
<line x1="457.3" y1="1045" x2="473.3" y2="1045" stroke="#009E73" stroke-width="3" />
</g>
<g stroke="#009E73" stroke-width="3" opacity="0.35">
<line x1="483.2" y1="1006.3" x2="483.2" y2="1040.3" stroke="#009E73" stroke-width="3" />
<line x1="475.2" y1="1006.3" x2="491.2" y2="1006.3" stroke="#009E73" stroke-width="3" />
<line x1="475.2" y1="1040.3" x2="491.2" y2="1040.3" stroke="#009E73" stroke-width="3" />
</g>
<g stroke="#009E73" stroke-width="3" opacity="0.35">
<line x1="490.7" y1="1003.7" x2="490.7" y2="1037.7" stroke="#009E73" stroke-width="3" />
<line x1="482.7" y1="1003.7" x2="498.7" y2="1003.7" stroke="#009E73" stroke-width="3" />
<line x1="482.7" y1="1037.7" x2="498.7" y2="1037.7" stroke="#009E73" stroke-width="3" />
</g>
<g stroke="#a8a8a8" stroke-width="3" opacity="0.35">
<line x1="224" y1="1190.7" x2="224" y2="1202.7" stroke="#a8a8a8" stroke-width="3" />
<line x1="216" y1="1190.7" x2="232" y2="1190.7" stroke="#a8a8a8" stroke-width="3" />
<line x1="216" y1="1202.7" x2="232" y2="1202.7" stroke="#a8a8a8" stroke-width="3" />
</g>
<g stroke="#a8a8a8" stroke-width="3" opacity="0.35">
<line x1="241.3" y1="1189.3" x2="241.3" y2="1201.3" stroke="#a8a8a8" stroke-width="3" />
<line x1="233.3" y1="1189.3" x2="249.3" y2="1189.3" stroke="#a8a8a8" stroke-width="3" />
<line x1="233.3" y1="1201.3" x2="249.3" y2="1201.3" stroke="#a8a8a8" stroke-width="3" />
</g>
<g stroke="#a8a8a8" stroke-width="3" opacity="0.35">
<line x1="268.8" y1="1183.2" x2="268.8" y2="1195.2" stroke="#a8a8a8" stroke-width="3" />
<line x1="260.8" y1="1183.2" x2="276.8" y2="1183.2" stroke="#a8a8a8" stroke-width="3" />
<line x1="260.8" y1="1195.2" x2="276.8" y2="1195.2" stroke="#a8a8a8" stroke-width="3" />
</g>
<g stroke="#a8a8a8" stroke-width="3" opacity="0.35">
<line x1="295.5" y1="1176.8" x2="295.5" y2="1188.8" stroke="#a8a8a8" stroke-width="3" />
<line x1="287.5" y1="1176.8" x2="303.5" y2="1176.8" stroke="#a8a8a8" stroke-width="3" />
<line x1="287.5" y1="1188.8" x2="303.5" y2="1188.8" stroke="#a8a8a8" stroke-width="3" />
</g>
<g stroke="#a8a8a8" stroke-width="3" opacity="0.35">
<line x1="315.2" y1="1172" x2="315.2" y2="1184" stroke="#a8a8a8" stroke-width="3" />
<line x1="307.2" y1="1172" x2="323.2" y2="1172" stroke="#a8a8a8" stroke-width="3" />
<line x1="307.2" y1="1184" x2="323.2" y2="1184" stroke="#a8a8a8" stroke-width="3" />
</g>
<g stroke="#a8a8a8" stroke-width="3" opacity="0.35">
<line x1="384" y1="1160.8" x2="384" y2="1172.8" stroke="#a8a8a8" stroke-width="3" />
<line x1="376" y1="1160.8" x2="392" y2="1160.8" stroke="#a8a8a8" stroke-width="3" />
<line x1="376" y1="1172.8" x2="392" y2="1172.8" stroke="#a8a8a8" stroke-width="3" />
</g>
<g stroke="#a8a8a8" stroke-width="3" opacity="0.35">
<line x1="391.5" y1="1160.8" x2="391.5" y2="1172.8" stroke="#a8a8a8" stroke-width="3" />
<line x1="383.5" y1="1160.8" x2="399.5" y2="1160.8" stroke="#a8a8a8" stroke-width="3" />
<line x1="383.5" y1="1172.8" x2="399.5" y2="1172.8" stroke="#a8a8a8" stroke-width="3" />
</g>
<g stroke="#a8a8a8" stroke-width="3" opacity="0.35">
<line x1="414.7" y1="1158.7" x2="414.7" y2="1170.7" stroke="#a8a8a8" stroke-width="3" />
<line x1="406.7" y1="1158.7" x2="422.7" y2="1158.7" stroke="#a8a8a8" stroke-width="3" />
<line x1="406.7" y1="1170.7" x2="422.7" y2="1170.7" stroke="#a8a8a8" stroke-width="3" />
</g>
<g stroke="#a8a8a8" stroke-width="3" opacity="0.35">
<line x1="440" y1="1154.7" x2="440" y2="1166.7" stroke="#a8a8a8" stroke-width="3" />
<line x1="432" y1="1154.7" x2="448" y2="1154.7" stroke="#a8a8a8" stroke-width="3" />
<line x1="432" y1="1166.7" x2="448" y2="1166.7" stroke="#a8a8a8" stroke-width="3" />
</g>
<g stroke="#a8a8a8" stroke-width="3" opacity="0.35">
<line x1="465.3" y1="1150.7" x2="465.3" y2="1162.7" stroke="#a8a8a8" stroke-width="3" />
<line x1="457.3" y1="1150.7" x2="473.3" y2="1150.7" stroke="#a8a8a8" stroke-width="3" />
<line x1="457.3" y1="1162.7" x2="473.3" y2="1162.7" stroke="#a8a8a8" stroke-width="3" />
</g>
<g stroke="#a8a8a8" stroke-width="3" opacity="0.35">
<line x1="483.2" y1="1148.5" x2="483.2" y2="1160.5" stroke="#a8a8a8" stroke-width="3" />
<line x1="475.2" y1="1148.5" x2="491.2" y2="1148.5" stroke="#a8a8a8" stroke-width="3" />
<line x1="475.2" y1="1160.5" x2="491.2" y2="1160.5" stroke="#a8a8a8" stroke-width="3" />
</g>
<g stroke="#a8a8a8" stroke-width="3" opacity="0.35">
<line x1="490.7" y1="1117.3" x2="490.7" y2="1129.3" stroke="#a8a8a8" stroke-width="3" />
<line x1="482.7" y1="1117.3" x2="498.7" y2="1117.3" stroke="#a8a8a8" stroke-width="3" />
<line x1="482.7" y1="1129.3" x2="498.7" y2="1129.3" stroke="#a8a8a8" stroke-width="3" />
</g>
<polyline points="141.3,1200.7 224,1196.7 241.3,1195.3 268.8,1189.2 295.5,1182.8 315.2,1178 384,1166.8 391.5,1166.8 414.7,1164.7 440,1160.7 465.3,1156.7 483.2,1154.5 490.7,1123.3" fill="none" stroke="#a8a8a8" stroke-width="4" stroke-linejoin="round" />
<circle cx="141.3" cy="1200.7" r="8" fill="#a8a8a8" stroke="none" stroke-width="0" />
<circle cx="224" cy="1196.7" r="8" fill="#a8a8a8" stroke="none" stroke-width="0" />
<circle cx="241.3" cy="1195.3" r="8" fill="#a8a8a8" stroke="none" stroke-width="0" />
<circle cx="268.8" cy="1189.2" r="8" fill="#a8a8a8" stroke="none" stroke-width="0" />
<circle cx="295.5" cy="1182.8" r="8" fill="#a8a8a8" stroke="none" stroke-width="0" />
<circle cx="315.2" cy="1178" r="8" fill="#a8a8a8" stroke="none" stroke-width="0" />
<circle cx="384" cy="1166.8" r="8" fill="#a8a8a8" stroke="none" stroke-width="0" />
<circle cx="391.5" cy="1166.8" r="8" fill="#a8a8a8" stroke="none" stroke-width="0" />
<circle cx="414.7" cy="1164.7" r="8" fill="#a8a8a8" stroke="none" stroke-width="0" />
<circle cx="440" cy="1160.7" r="8" fill="#a8a8a8" stroke="none" stroke-width="0" />
<circle cx="465.3" cy="1156.7" r="8" fill="#a8a8a8" stroke="none" stroke-width="0" />
<circle cx="483.2" cy="1154.5" r="8" fill="#a8a8a8" stroke="none" stroke-width="0" />
<circle cx="490.7" cy="1123.3" r="8" fill="#a8a8a8" stroke="none" stroke-width="0" />
<polyline points="141.3,1187.3 224,1120.7 241.3,1104.7 268.8,1078 295.5,1051.3 315.2,1043.3 384,1034 391.5,1027.3 414.7,1027.3 440,1027.3 465.3,1028 483.2,1023.3 490.7,1020.7" fill="none" stroke="#009E73" stroke-width="4" stroke-linejoin="round" />
<circle cx="141.3" cy="1187.3" r="8" fill="#009E73" stroke="none" stroke-width="0" />
<circle cx="224" cy="1120.7" r="8" fill="#009E73" stroke="none" stroke-width="0" />
<circle cx="241.3" cy="1104.7" r="8" fill="#009E73" stroke="none" stroke-width="0" />
<circle cx="268.8" cy="1078" r="8" fill="#009E73" stroke="none" stroke-width="0" />
<circle cx="295.5" cy="1051.3" r="8" fill="#009E73" stroke="none" stroke-width="0" />
<circle cx="315.2" cy="1043.3" r="8" fill="#009E73" stroke="none" stroke-width="0" />
<circle cx="384" cy="1034" r="8" fill="#009E73" stroke="none" stroke-width="0" />
<circle cx="391.5" cy="1027.3" r="8" fill="#009E73" stroke="none" stroke-width="0" />
<circle cx="414.7" cy="1027.3" r="8" fill="#009E73" stroke="none" stroke-width="0" />
<circle cx="440" cy="1027.3" r="8" fill="#009E73" stroke="none" stroke-width="0" />
<circle cx="465.3" cy="1028" r="8" fill="#009E73" stroke="none" stroke-width="0" />
<circle cx="483.2" cy="1023.3" r="8" fill="#009E73" stroke="none" stroke-width="0" />
<circle cx="490.7" cy="1020.7" r="8" fill="#009E73" stroke="none" stroke-width="0" />
<polyline points="141.3,1171.3 224,1098 241.3,1087.3 268.8,1054.8 295.5,1035.3 315.2,1031.3 384,1036 391.5,1040.7 414.7,1044.7 440,1046 465.3,1022.8 483.2,1016.7 490.7,1018" fill="none" stroke="#CC79A7" stroke-width="4" stroke-linejoin="round" />
<circle cx="141.3" cy="1171.3" r="8" fill="#CC79A7" stroke="none" stroke-width="0" />
<circle cx="224" cy="1098" r="8" fill="#CC79A7" stroke="none" stroke-width="0" />
<circle cx="241.3" cy="1087.3" r="8" fill="#CC79A7" stroke="none" stroke-width="0" />
<circle cx="268.8" cy="1054.8" r="8" fill="#CC79A7" stroke="none" stroke-width="0" />
<circle cx="295.5" cy="1035.3" r="8" fill="#CC79A7" stroke="none" stroke-width="0" />
<circle cx="315.2" cy="1031.3" r="8" fill="#CC79A7" stroke="none" stroke-width="0" />
<circle cx="384" cy="1036" r="8" fill="#CC79A7" stroke="none" stroke-width="0" />
<circle cx="391.5" cy="1040.7" r="8" fill="#CC79A7" stroke="none" stroke-width="0" />
<circle cx="414.7" cy="1044.7" r="8" fill="#CC79A7" stroke="none" stroke-width="0" />
<circle cx="440" cy="1046" r="8" fill="#CC79A7" stroke="none" stroke-width="0" />
<circle cx="465.3" cy="1022.8" r="8" fill="#CC79A7" stroke="none" stroke-width="0" />
<circle cx="483.2" cy="1016.7" r="8" fill="#CC79A7" stroke="none" stroke-width="0" />
<circle cx="490.7" cy="1018" r="8" fill="#CC79A7" stroke="none" stroke-width="0" />
<polyline points="141.3,1172 224,1091.3 241.3,1078 268.8,1047.3 295.5,1027.3 315.2,1031 384,1022.8 391.5,1032 414.7,1034 440,1033 465.3,1042 483.2,1043 490.7,1048.7" fill="none" stroke="#0072B2" stroke-width="4" stroke-linejoin="round" stroke-dasharray="11,7"/>
<circle cx="141.3" cy="1172" r="6.7" fill="#fff" stroke="#0072B2" stroke-width="2.6" />
<circle cx="224" cy="1091.3" r="6.7" fill="#fff" stroke="#0072B2" stroke-width="2.6" />
<circle cx="241.3" cy="1078" r="6.7" fill="#fff" stroke="#0072B2" stroke-width="2.6" />
<circle cx="268.8" cy="1047.3" r="6.7" fill="#fff" stroke="#0072B2" stroke-width="2.6" />
<circle cx="295.5" cy="1027.3" r="6.7" fill="#fff" stroke="#0072B2" stroke-width="2.6" />
<circle cx="315.2" cy="1031" r="6.7" fill="#fff" stroke="#0072B2" stroke-width="2.6" />
<circle cx="384" cy="1022.8" r="6.7" fill="#fff" stroke="#0072B2" stroke-width="2.6" />
<circle cx="391.5" cy="1032" r="6.7" fill="#fff" stroke="#0072B2" stroke-width="2.6" />
<circle cx="414.7" cy="1034" r="6.7" fill="#fff" stroke="#0072B2" stroke-width="2.6" />
<circle cx="440" cy="1033" r="6.7" fill="#fff" stroke="#0072B2" stroke-width="2.6" />
<circle cx="465.3" cy="1042" r="6.7" fill="#fff" stroke="#0072B2" stroke-width="2.6" />
<circle cx="483.2" cy="1043" r="6.7" fill="#fff" stroke="#0072B2" stroke-width="2.6" />
<circle cx="490.7" cy="1048.7" r="6.7" fill="#fff" stroke="#0072B2" stroke-width="2.6" />
<polyline points="141.3,1170 224,1066 241.3,1050.5 268.8,1020.7 295.5,1002 315.2,1000.7 384,1000.7 391.5,1009.5 414.7,1006 440,1012.7 465.3,1011.3 483.2,1015.3 490.7,1018" fill="none" stroke="#0072B2" stroke-width="4" stroke-linejoin="round" />
<circle cx="141.3" cy="1170" r="8" fill="#0072B2" stroke="none" stroke-width="0" />
<circle cx="224" cy="1066" r="8" fill="#0072B2" stroke="none" stroke-width="0" />
<circle cx="241.3" cy="1050.5" r="8" fill="#0072B2" stroke="none" stroke-width="0" />
<circle cx="268.8" cy="1020.7" r="8" fill="#0072B2" stroke="none" stroke-width="0" />
<circle cx="295.5" cy="1002" r="8" fill="#0072B2" stroke="none" stroke-width="0" />
<circle cx="315.2" cy="1000.7" r="8" fill="#0072B2" stroke="none" stroke-width="0" />
<circle cx="384" cy="1000.7" r="8" fill="#0072B2" stroke="none" stroke-width="0" />
<circle cx="391.5" cy="1009.5" r="8" fill="#0072B2" stroke="none" stroke-width="0" />
<circle cx="414.7" cy="1006" r="8" fill="#0072B2" stroke="none" stroke-width="0" />
<circle cx="440" cy="1012.7" r="8" fill="#0072B2" stroke="none" stroke-width="0" />
<circle cx="465.3" cy="1011.3" r="8" fill="#0072B2" stroke="none" stroke-width="0" />
<circle cx="483.2" cy="1015.3" r="8" fill="#0072B2" stroke="none" stroke-width="0" />
<circle cx="490.7" cy="1018" r="8" fill="#0072B2" stroke="none" stroke-width="0" />
<rect x="123.5" y="952.7" width="385" height="249.3" fill="none" stroke="#222" stroke-width="1.5"/>
<text x="110.5" y="961.8" font-size="26" text-anchor="end">2,000</text>
<text x="110.5" y="1024.1" font-size="26" text-anchor="end">1,500</text>
<text x="110.5" y="1086.4" font-size="26" text-anchor="end">1,000</text>
<text x="110.5" y="1148.7" font-size="26" text-anchor="end">500</text>
<text x="110.5" y="1211" font-size="26" text-anchor="end">0</text>
<text x="152" y="1242" font-size="25.5" text-anchor="middle">10<tspan dy="-10.71" font-size="17.34">−3</tspan></text>
<text x="233.3" y="1242" font-size="25.5" text-anchor="middle">10<tspan dy="-10.71" font-size="17.34">−2</tspan></text>
<text x="313.3" y="1242" font-size="25.5" text-anchor="middle">10<tspan dy="-10.71" font-size="17.34">−1</tspan></text>
<text x="392" y="1242" font-size="25.5" text-anchor="middle">10<tspan dy="-10.71" font-size="17.34">0</tspan></text>
<text x="473" y="1242" font-size="25.5" text-anchor="middle">10<tspan dy="-10.71" font-size="17.34">1</tspan></text>
<text x="172" y="1287.3" font-size="25.5" textLength="288" lengthAdjust="spacingAndGlyphs">Light intensity (mW mm<tspan dy="-10.71" font-size="17.34">−2</tspan><tspan dy="10.71">)</tspan></text>
<text x="31" y="1077.4" font-size="25.5" text-anchor="middle" textLength="193.3" lengthAdjust="spacingAndGlyphs" transform="rotate(-90 31 1077.4)">Photocurrent (pA)</text>
<text x="130" y="980.7" font-size="25.5" fill="#CC79A7">ChRger1</text>
<text x="130" y="1007.3" font-size="25.5" fill="#0072B2">ChRger2</text>
<text x="130" y="1034" font-size="25.5" fill="#009E73">ChRger3</text>
<text x="130" y="1061.2" font-size="25.5" fill="#a8a8a8">ChR2</text>
<text x="0.5" y="1390" font-size="31" textLength="16.28" lengthAdjust="spacingAndGlyphs" font-weight="bold">h</text>
<text x="24.5" y="1398.7" font-size="25.5" textLength="52.8" lengthAdjust="spacingAndGlyphs">0.5 s</text>
<rect x="36" y="1410.7" width="29.3" height="4" fill="#222" />
<path d="M32,1429.3 L53.3,1429.3 L53.6,1542.7 L55,1480 Q57,1476 60,1476 L69.5,1474 L71,1440 L72,1430.3 L110.7,1429.3" fill="none" stroke="#707070" stroke-width="1.6"/>
<path d="M32,1429.3 L53.3,1429.3 L53.6,1505 L55,1482 Q57,1478 60,1478 L69.5,1476 L71,1440 L72,1430.3 L110.7,1429.3" fill="none" stroke="#a0a0a0" stroke-width="1.6"/>
<path d="M32,1429.3 L53.3,1429.3 L53.8,1441 L69.5,1441 L71,1430.3 L110.7,1429.3" fill="none" stroke="#b8b8b8" stroke-width="1.6"/>
<path d="M32,1429.3 L53.3,1429.3 L53.8,1438 L69.5,1438 L71,1430.3 L110.7,1429.3" fill="none" stroke="#cfcfcf" stroke-width="1.6"/>
<path d="M32,1429.3 L53.3,1429.3 L53.8,1433 L69.5,1433 L71,1430.3 L110.7,1429.3" fill="none" stroke="#e0e0e0" stroke-width="1.6"/>
<path d="M116,1429.3 L137.3,1429.3 L138,1649.3 L142,1626 L148,1616 L152.5,1612 C163.05,1548.91 177.82,1511.06 194.7,1497.3" fill="none" stroke="#7a4563" stroke-width="1.6" stroke-linejoin="round"/>
<path d="M116,1429.3 L137.3,1429.3 L138.2,1598.7 L150,1598 L152.5,1596 C163.05,1539.35 177.82,1505.36 194.7,1493" fill="none" stroke="#9c5c80" stroke-width="1.6" stroke-linejoin="round"/>
<path d="M116,1429.3 L137.3,1429.3 C139.3,1525.48 144.5,1566.7 152.5,1566.7 C163.05,1515.46 177.82,1483.3 194.7,1481.3" fill="none" stroke="#c486ac" stroke-width="1.6" stroke-linejoin="round"/>
<path d="M116,1429.3 L137.3,1429.3 C139.3,1519.88 144,1558.7 152,1558.7 C162.68,1503.98 177.62,1469.5 194.7,1467.5" fill="none" stroke="#d49bbd" stroke-width="1.6" stroke-linejoin="round"/>
<path d="M116,1429.3 L137.3,1429.3 C139.3,1458.28 144,1470.7 152,1470.7 C162.68,1446.28 177.62,1432 194.7,1430" fill="none" stroke="#e2bcd2" stroke-width="1.6" stroke-linejoin="round"/>
<path d="M199.5,1429.3 L220,1429.3 L221.3,1652 L226,1628 L232,1614 L235.5,1606 C246.3,1524.21 261.42,1475.14 278.7,1457.3" fill="none" stroke="#0b5478" stroke-width="1.6" stroke-linejoin="round"/>
<path d="M199.5,1429.3 L220,1429.3 L221.3,1606.7 L232,1604 L235.5,1598 C246.3,1520.62 261.42,1474.18 278.7,1457.3" fill="none" stroke="#1d6a98" stroke-width="1.6" stroke-linejoin="round"/>
<path d="M199.5,1429.3 L220,1429.3 C222,1536.68 228,1582.7 236,1582.7 C246.68,1497.86 261.62,1443.3 278.7,1441.3" fill="none" stroke="#3f80b0" stroke-width="1.6" stroke-linejoin="round"/>
<path d="M199.5,1429.3 L220,1429.3 C222,1526.39 226.7,1568 234.7,1568 C245.7,1488.02 261.1,1436.7 278.7,1434.7" fill="none" stroke="#6f9fc4" stroke-width="1.6" stroke-linejoin="round"/>
<path d="M199.5,1429.3 L220,1429.3 C222,1453.03 226.7,1463.2 234.7,1463.2 C245.7,1442.98 261.1,1431.5 278.7,1429.5" fill="none" stroke="#a6c6dc" stroke-width="1.6" stroke-linejoin="round"/>
<path d="M285.3,1429.3 L306.7,1429.3 L309.3,1600 L314,1592 L320,1590.7 C331,1518.82 346.4,1475.68 364,1460" fill="none" stroke="#0a6f55" stroke-width="2" stroke-linejoin="round"/>
<path d="M285.3,1429.3 L306.7,1429.3 L309.3,1570.7 L318,1571 L322.7,1573.3 C333.02,1505.1 347.48,1464.18 364,1449.3" fill="none" stroke="#1b8a6b" stroke-width="2" stroke-linejoin="round"/>
<path d="M285.3,1429.3 L306.7,1429.3 C308.7,1505.88 314.7,1538.7 322.7,1538.7 C333.02,1482.66 347.48,1447.3 364,1445.3" fill="none" stroke="#3ea385" stroke-width="1.6" stroke-linejoin="round"/>
<path d="M285.3,1429.3 L306.7,1429.3 C308.7,1490.9 314.7,1517.3 322.7,1517.3 C333.02,1470.92 347.48,1442 364,1440" fill="none" stroke="#6cb8a0" stroke-width="1.6" stroke-linejoin="round"/>
<path d="M285.3,1429.3 L306.7,1429.3 C308.7,1440.5 313.3,1445.3 321.3,1445.3 C331.98,1436.54 346.92,1432.7 364,1430.7" fill="none" stroke="#a2d2c2" stroke-width="1.6" stroke-linejoin="round"/>
<rect x="110.7" y="1553.3" width="4.5" height="84" fill="#000" />
<text x="1.3" y="1600" font-size="25.5" textLength="97.4" lengthAdjust="spacingAndGlyphs">1,000 pA</text>
<text x="377.3" y="1418.7" font-size="25.5" textLength="152" lengthAdjust="spacingAndGlyphs">Light intensity</text>
<text x="388" y="1448" font-size="25.5" textLength="129.3" lengthAdjust="spacingAndGlyphs">(mW mm<tspan dy="-10.71" font-size="17.34">−2</tspan><tspan dy="10.71">)</tspan></text>
<text x="432" y="1484" font-size="25.5" textLength="90.7" lengthAdjust="spacingAndGlyphs">8 × 10<tspan dy="-10.71" font-size="17.34">−4</tspan></text>
<text x="432" y="1514.7" font-size="25.5" textLength="90.7" lengthAdjust="spacingAndGlyphs">8 × 10<tspan dy="-10.71" font-size="17.34">−3</tspan></text>
<text x="432" y="1545.3" font-size="25.5" textLength="90.7" lengthAdjust="spacingAndGlyphs">1 × 10<tspan dy="-10.71" font-size="17.34">−2</tspan></text>
<text x="432" y="1576" font-size="25.5" textLength="90.7" lengthAdjust="spacingAndGlyphs">8 × 10<tspan dy="-10.71" font-size="17.34">−1</tspan></text>
<text x="432" y="1606.7" font-size="25.5" textLength="80" lengthAdjust="spacingAndGlyphs">1 × 10<tspan dy="-10.71" font-size="17.34">0</tspan></text>
<text x="432" y="1636.5" font-size="25.5" textLength="80" lengthAdjust="spacingAndGlyphs">2 × 10<tspan dy="-10.71" font-size="17.34">0</tspan></text>
<rect x="402" y="1473.3" width="3.6" height="139" fill="url(#arr)" />
<polygon points="384,1610.7 424,1610.7 404,1645.3" fill="url(#arr)"/>
<text x="564.2" y="893.3" font-size="31" textLength="7.41" lengthAdjust="spacingAndGlyphs" font-weight="bold">i</text>
<text x="597.2" y="899.4" font-size="25.5" textLength="349" lengthAdjust="spacingAndGlyphs">Systemic delivery (5 × 10<tspan dy="-10.71" font-size="17.34">11</tspan><tspan dy="10.71"> VG)</tspan></text>
<rect x="624.45" y="921.05" width="295" height="193.4" fill="#000" stroke="#8c8c8c" stroke-width="4.5"/>
<path d="M776.24,939.75 C774.37,938.12 771.87,932.5 764.99,930 C758.12,927.5 744.99,925 734.99,924.75 C724.99,924.5 715,925.87 705,928.5 C695,931.12 683.75,935.75 675,940.5 C666.25,945.25 659.25,950.5 652.5,957 C645.75,963.5 638.37,971.5 634.5,979.5 C630.62,987.5 629.75,997.25 629.25,1005 C628.75,1012.74 629.62,1018.99 631.5,1025.99 C633.37,1032.99 637,1040.49 640.5,1046.99 C644,1053.49 648,1059.24 652.5,1064.99 C657,1070.74 662.5,1076.99 667.5,1081.49 C672.5,1085.99 676.25,1088.49 682.5,1091.99 C688.75,1095.49 697.5,1099.87 705,1102.49 C712.5,1105.12 719.99,1106.99 727.49,1107.74 C734.99,1108.49 743.74,1107.87 749.99,1106.99 C756.24,1106.12 760.99,1105.49 764.99,1102.49 C768.99,1099.49 770.74,1089.24 773.99,1088.99 C777.24,1088.74 779.74,1097.49 784.49,1100.99 C789.24,1104.49 795.74,1108.49 802.49,1109.99 C809.24,1111.49 817.49,1111.49 824.99,1109.99 C832.49,1108.49 839.99,1105.24 847.49,1100.99 C854.99,1096.74 863.24,1090.99 869.99,1084.49 C876.74,1077.99 882.49,1069.49 887.99,1061.99 C893.49,1054.49 898.74,1046.99 902.99,1039.49 C907.24,1031.99 911.36,1024.24 913.49,1016.99 C915.61,1009.75 915.98,1002.25 915.73,996 C915.48,989.75 914.61,984.75 911.99,979.5 C909.36,974.25 904.99,969.25 899.99,964.5 C894.99,959.75 889.49,955.5 881.99,951 C874.49,946.5 864.49,941.25 854.99,937.5 C845.49,933.75 834.99,930.25 824.99,928.5 C814.99,926.75 802.49,925.75 794.99,927 C787.49,928.25 783.12,933.87 779.99,936 C776.87,938.12 776.87,939.12 776.24,939.75 Z" fill="#1f1f1f"/>
<g clip-path="url(#br1)">
<g filter="url(#blur5)" fill="none" stroke-linecap="round">
<path d="M637.5,1025.99 C638.75,1019.99 640.5,1000.5 645,990 C649.5,979.5 656.5,970.25 664.5,963 C672.5,955.75 683.25,950 693,946.5 C702.75,943 713.5,941.75 722.99,942 C732.49,942.25 742.74,944.75 749.99,948 C757.24,951.25 763.74,959.25 766.49,961.5" stroke="#606060" stroke-width="28"/>
<path d="M781.49,961.5 C784.99,959 793.99,949 802.49,946.5 C810.99,944 822.49,944.25 832.49,946.5 C842.49,948.75 853.74,954.5 862.49,960 C871.24,965.5 879.24,972 884.99,979.5 C890.74,987 895.49,996.75 896.99,1005 C898.49,1013.24 894.49,1024.99 893.99,1028.99" stroke="#606060" stroke-width="28"/>
<path d="M660,972 C665.5,968.5 682.5,955.5 693,951 C703.5,946.5 714,945 722.99,945 C731.99,945 742.99,950 746.99,951" stroke="#858585" stroke-width="12"/>
<path d="M802.49,949.5 C807.49,949.5 822.49,947 832.49,949.5 C842.49,952 853.74,958.75 862.49,964.5 C871.24,970.25 881.24,980.75 884.99,984" stroke="#858585" stroke-width="12"/>
<path d="M669,1025.99 C670.5,1019.99 672,999 678,990 C684,981 694.25,974.5 705,972 C715.74,969.5 732.49,971 742.49,975 C752.49,979 761.24,992.5 764.99,996" stroke="#0e0e0e" stroke-width="18"/>
<path d="M784.49,996 C788.24,992.75 797.74,980 806.99,976.5 C816.24,973 829.99,971.75 839.99,975 C849.99,978.25 861.49,987.5 866.99,996 C872.49,1004.5 871.99,1020.99 872.99,1025.99" stroke="#0e0e0e" stroke-width="18"/>
<ellipse cx="711" cy="1024.49" rx="30" ry="27" fill="#191919"/>
<ellipse cx="827.99" cy="1027.49" rx="28" ry="28" fill="#191919"/>
<ellipse cx="712.5" cy="1076.99" rx="40" ry="20" fill="#161616"/>
<ellipse cx="817.49" cy="1076.99" rx="40" ry="20" fill="#161616"/>
<ellipse cx="775.49" cy="1009.5" rx="5" ry="20" fill="#4a4a4a"/>
<ellipse cx="866.99" cy="1037.99" rx="8" ry="8" fill="#4a4a4a"/>
<ellipse cx="675" cy="1061.99" rx="18" ry="14" fill="#2e2e2e"/>
<ellipse cx="854.99" cy="1061.99" rx="18" ry="14" fill="#2e2e2e"/>
</g>
<ellipse cx="743.99" cy="1033.49" rx="7" ry="11" fill="#0a0a0a" filter="url(#blur1)"/>
<ellipse cx="803.24" cy="1033.49" rx="6" ry="11" fill="#0a0a0a" filter="url(#blur1)"/>
<ellipse cx="719.99" cy="1067.99" rx="10" ry="8" fill="#0a0a0a" filter="url(#blur1)"/>
<ellipse cx="824.99" cy="1069.49" rx="10" ry="8" fill="#0a0a0a" filter="url(#blur1)"/>
</g>
<line x1="775.79" y1="940.5" x2="772.49" y2="1084.49" stroke="#111" stroke-width="1.3"/>
<path d="M776.24,939.75 C774.37,938.12 771.87,932.5 764.99,930 C758.12,927.5 744.99,925 734.99,924.75 C724.99,924.5 715,925.87 705,928.5 C695,931.12 683.75,935.75 675,940.5 C666.25,945.25 659.25,950.5 652.5,957 C645.75,963.5 638.37,971.5 634.5,979.5 C630.62,987.5 629.75,997.25 629.25,1005 C628.75,1012.74 629.62,1018.99 631.5,1025.99 C633.37,1032.99 637,1040.49 640.5,1046.99 C644,1053.49 648,1059.24 652.5,1064.99 C657,1070.74 662.5,1076.99 667.5,1081.49 C672.5,1085.99 676.25,1088.49 682.5,1091.99 C688.75,1095.49 697.5,1099.87 705,1102.49 C712.5,1105.12 719.99,1106.99 727.49,1107.74 C734.99,1108.49 743.74,1107.87 749.99,1106.99 C756.24,1106.12 760.99,1105.49 764.99,1102.49 C768.99,1099.49 770.74,1089.24 773.99,1088.99 C777.24,1088.74 779.74,1097.49 784.49,1100.99 C789.24,1104.49 795.74,1108.49 802.49,1109.99 C809.24,1111.49 817.49,1111.49 824.99,1109.99 C832.49,1108.49 839.99,1105.24 847.49,1100.99 C854.99,1096.74 863.24,1090.99 869.99,1084.49 C876.74,1077.99 882.49,1069.49 887.99,1061.99 C893.49,1054.49 898.74,1046.99 902.99,1039.49 C907.24,1031.99 911.36,1024.24 913.49,1016.99 C915.61,1009.75 915.98,1002.25 915.73,996 C915.48,989.75 914.61,984.75 911.99,979.5 C909.36,974.25 904.99,969.25 899.99,964.5 C894.99,959.75 889.49,955.5 881.99,951 C874.49,946.5 864.49,941.25 854.99,937.5 C845.49,933.75 834.99,930.25 824.99,928.5 C814.99,926.75 802.49,925.75 794.99,927 C787.49,928.25 783.12,933.87 779.99,936 C776.87,938.12 776.87,939.12 776.24,939.75 Z" fill="none" stroke="#fff" stroke-width="1.3" stroke-dasharray="4,4.5"/>
<rect x="624.35" y="1124.55" width="295.5" height="192.9" fill="#000" stroke="#0072B2" stroke-width="4.5"/>
<path d="M770.99,1143.5 C767.49,1141.5 757.24,1133.87 749.99,1131.5 C742.74,1129.12 736.24,1129 727.49,1129.25 C718.74,1129.5 706.75,1130.87 697.5,1133 C688.25,1135.12 680,1138 672,1142 C664,1146 655.75,1151.5 649.5,1157 C643.25,1162.5 638.12,1168.25 634.5,1175 C630.87,1181.75 628.5,1190 627.75,1197.5 C627,1205 628.37,1212.5 630,1219.99 C631.62,1227.49 634.5,1235.49 637.5,1242.49 C640.5,1249.49 643.5,1255.99 648,1261.99 C652.5,1267.99 658.75,1273.24 664.5,1278.49 C670.25,1283.74 675.75,1288.99 682.5,1293.49 C689.25,1297.99 697.5,1302.74 705,1305.49 C712.5,1308.24 720.49,1309.99 727.49,1309.99 C734.49,1309.99 741.24,1308.49 746.99,1305.49 C752.74,1302.49 758.37,1297.74 761.99,1291.99 C765.62,1286.24 766.74,1272.74 768.74,1270.99 C770.74,1269.24 770.87,1276.74 773.99,1281.49 C777.12,1286.24 781.49,1294.99 787.49,1299.49 C793.49,1303.99 802.49,1306.99 809.99,1308.49 C817.49,1309.99 825.99,1308.99 832.49,1308.49 C838.99,1307.99 846.74,1308.74 848.99,1305.49 C851.24,1302.24 843.74,1292.49 845.99,1288.99 C848.24,1285.49 855.99,1288.49 862.49,1284.49 C868.99,1280.49 880.49,1275.24 884.99,1264.99 C889.49,1254.74 886.99,1229.74 889.49,1222.99 C891.99,1216.24 895.86,1226.24 899.99,1224.49 C904.11,1222.74 911.99,1218.24 914.24,1212.5 C916.48,1206.75 915.36,1196.75 913.49,1190 C911.61,1183.25 907.74,1177.75 902.99,1172 C898.24,1166.25 891.74,1160.5 884.99,1155.5 C878.24,1150.5 871.24,1146 862.49,1142 C853.74,1138 842.49,1133.62 832.49,1131.5 C822.49,1129.37 808.74,1129 802.49,1129.25 C796.24,1129.5 797.24,1129.12 794.99,1133 C792.74,1136.87 790.99,1150.75 788.99,1152.5 C786.99,1154.25 785.99,1145 782.99,1143.5 C779.99,1142 772.99,1143.5 770.99,1143.5 Z" fill="#282828"/>
<g clip-path="url(#br2)">
<g filter="url(#blur5)" fill="none" stroke-linecap="round">
<path d="M643.5,1234.99 C644.5,1227.99 644.75,1204.75 649.5,1193 C654.25,1181.25 663.75,1171.5 672,1164.5 C680.25,1157.5 689.5,1153.5 699,1151 C708.5,1148.5 719.99,1148.25 728.99,1149.5 C737.99,1150.75 746.99,1154.75 752.99,1158.5 C758.99,1162.25 762.99,1169.75 764.99,1172" stroke="#707070" stroke-width="32"/>
<path d="M781.49,1164.5 C786.24,1162.25 800.24,1152.5 809.99,1151 C819.74,1149.5 829.99,1152.25 839.99,1155.5 C849.99,1158.75 861.24,1164.75 869.99,1170.5 C878.74,1176.25 887.49,1183.25 892.49,1190 C897.49,1196.75 898.74,1207.5 899.99,1211" stroke="#707070" stroke-width="32"/>
<path d="M678,1160 C682.5,1158.75 695.5,1153.75 705,1152.5 C714.5,1151.25 729.99,1152.5 734.99,1152.5" stroke="#909090" stroke-width="16"/>
<path d="M802.49,1154 C807.49,1154.25 822.49,1153 832.49,1155.5 C842.49,1158 857.49,1166.75 862.49,1169" stroke="#909090" stroke-width="16"/>
<path d="M675,1237.99 C676,1231.49 675.5,1208.5 681,1199 C686.5,1189.5 698.5,1184 708,1181 C717.49,1178 729.49,1177 737.99,1181 C746.49,1185 755.49,1201 758.99,1205" stroke="#151515" stroke-width="16"/>
<path d="M791.99,1216.99 C794.49,1212 798.99,1192.75 806.99,1187 C814.99,1181.25 830.74,1180 839.99,1182.5 C849.24,1185 856.99,1193.25 862.49,1202 C867.99,1210.75 871.24,1229.49 872.99,1234.99" stroke="#151515" stroke-width="16"/>
<ellipse cx="711" cy="1228.99" rx="30" ry="30" fill="#272727"/>
<ellipse cx="827.99" cy="1222.99" rx="28" ry="28" fill="#272727"/>
<ellipse cx="862.49" cy="1257.49" rx="22" ry="28" fill="#474747"/>
<ellipse cx="775.49" cy="1219.99" rx="5" ry="25" fill="#3e3e3e"/>
</g>
<ellipse cx="718.49" cy="1264.99" rx="8" ry="8" fill="#0a0a0a" filter="url(#blur1)"/>
<ellipse cx="708.75" cy="1266.49" rx="5" ry="6" fill="#0a0a0a" filter="url(#blur1)"/>
<ellipse cx="822.74" cy="1264.99" rx="8" ry="8" fill="#0a0a0a" filter="url(#blur1)"/>
</g>
<line x1="775.79" y1="1143.5" x2="772.49" y2="1287.49" stroke="#111" stroke-width="1.3"/>
<path d="M770.99,1143.5 C767.49,1141.5 757.24,1133.87 749.99,1131.5 C742.74,1129.12 736.24,1129 727.49,1129.25 C718.74,1129.5 706.75,1130.87 697.5,1133 C688.25,1135.12 680,1138 672,1142 C664,1146 655.75,1151.5 649.5,1157 C643.25,1162.5 638.12,1168.25 634.5,1175 C630.87,1181.75 628.5,1190 627.75,1197.5 C627,1205 628.37,1212.5 630,1219.99 C631.62,1227.49 634.5,1235.49 637.5,1242.49 C640.5,1249.49 643.5,1255.99 648,1261.99 C652.5,1267.99 658.75,1273.24 664.5,1278.49 C670.25,1283.74 675.75,1288.99 682.5,1293.49 C689.25,1297.99 697.5,1302.74 705,1305.49 C712.5,1308.24 720.49,1309.99 727.49,1309.99 C734.49,1309.99 741.24,1308.49 746.99,1305.49 C752.74,1302.49 758.37,1297.74 761.99,1291.99 C765.62,1286.24 766.74,1272.74 768.74,1270.99 C770.74,1269.24 770.87,1276.74 773.99,1281.49 C777.12,1286.24 781.49,1294.99 787.49,1299.49 C793.49,1303.99 802.49,1306.99 809.99,1308.49 C817.49,1309.99 824.99,1309.99 832.49,1308.49 C839.99,1306.99 847.49,1304.24 854.99,1299.49 C862.49,1294.74 870.49,1286.99 877.49,1279.99 C884.49,1272.99 891.74,1264.99 896.99,1257.49 C902.24,1249.99 906.11,1242.49 908.99,1234.99 C911.86,1227.49 913.49,1219.99 914.24,1212.5 C914.99,1205 915.36,1196.75 913.49,1190 C911.61,1183.25 907.74,1177.75 902.99,1172 C898.24,1166.25 891.74,1160.5 884.99,1155.5 C878.24,1150.5 871.24,1146 862.49,1142 C853.74,1138 842.49,1133.62 832.49,1131.5 C822.49,1129.37 810.74,1128 802.49,1129.25 C794.24,1130.5 788.24,1136.62 782.99,1139 C777.74,1141.37 772.99,1142.75 770.99,1143.5 Z" fill="none" stroke="#fff" stroke-width="1.3" stroke-dasharray="4,4.5"/>
<text x="630" y="1107" font-size="25.5" fill="#9a9a9a" textLength="63" lengthAdjust="spacingAndGlyphs">ChR2</text>
<text x="856.6" y="1096.8" font-size="25.5" fill="#fff" textLength="59.4" lengthAdjust="spacingAndGlyphs">1 mm</text>
<rect x="873.6" y="1102.8" width="37.8" height="7.7" fill="#fff" />
<text x="630" y="1312" font-size="25.5" fill="#0072B2" textLength="99.6" lengthAdjust="spacingAndGlyphs">ChRger2</text>
<text x="588.5" y="1390" font-size="31" textLength="7.41" lengthAdjust="spacingAndGlyphs" font-weight="bold">j</text>
<text x="645.3" y="1449.7" font-size="25.5" textLength="348.7" lengthAdjust="spacingAndGlyphs">Systemic delivery (1 × 10<tspan dy="-10.71" font-size="17.34">11</tspan><tspan dy="10.71"> VG)</tspan></text>
<text x="700.4" y="1483.6" font-size="25.5" textLength="262" lengthAdjust="spacingAndGlyphs">Light-excitable cells (%)</text>
<text x="691.1" y="1526" font-size="25.5" text-anchor="middle">0</text>
<text x="756.7" y="1526" font-size="25.5" text-anchor="middle">25</text>
<text x="826.8" y="1526" font-size="25.5" text-anchor="middle">50</text>
<text x="898.1" y="1526" font-size="25.5" text-anchor="middle">75</text>
<text x="962.4" y="1526" font-size="25.5" text-anchor="middle">100</text>
<rect x="690" y="1547.8" width="11.4" height="18.2" fill="#888" />
<text x="677.4" y="1564" font-size="23.5" fill="#9a9a9a" text-anchor="end">ChR2</text>
<text x="799" y="1561.8" font-size="21" fill="#000"><tspan font-style="italic">n</tspan> = 48</text>
<rect x="690" y="1572" width="236.8" height="18.7" fill="#000" />
<text x="677.4" y="1588.5" font-size="23.5" text-anchor="end">CoChR</text>
<text x="799" y="1587.5" font-size="21" fill="#fff"><tspan font-style="italic">n</tspan> = 13</text>
<rect x="690" y="1596" width="248.8" height="19" fill="#CC79A7" />
<text x="677.4" y="1612.7" font-size="23.5" fill="#CC79A7" text-anchor="end">ChRger1</text>
<text x="799" y="1611.7" font-size="21" fill="#000"><tspan font-style="italic">n</tspan> = 9</text>
<rect x="690" y="1620.3" width="280.3" height="19" fill="#0072B2" />
<text x="677.4" y="1637" font-size="23.5" fill="#0072B2" text-anchor="end">ChRger2</text>
<text x="799" y="1635.7" font-size="21" fill="#000"><tspan font-style="italic">n</tspan> = 13</text>
<rect x="690" y="1644.3" width="280.3" height="19.2" fill="#009E73" />
<text x="677.4" y="1661.3" font-size="23.5" fill="#009E73" text-anchor="end">ChRger3</text>
<text x="799" y="1660.3" font-size="21" fill="#000"><tspan font-style="italic">n</tspan> = 8</text>
<rect x="689.6" y="1541.4" width="294.7" height="127.9" fill="none" stroke="#111" stroke-width="1.5"/>
<text x="1039.2" y="894.5" font-size="31" textLength="14.83" lengthAdjust="spacingAndGlyphs" font-weight="bold">k</text>
<text x="1170.3" y="905.5" font-size="25.5" textLength="349" lengthAdjust="spacingAndGlyphs">Systemic delivery (1 × 10<tspan dy="-10.71" font-size="17.34">11</tspan><tspan dy="10.71"> VG)</tspan></text>
<g stroke="#0072B2" stroke-width="3" opacity="0.45">
<line x1="1170.3" y1="1071" x2="1170.3" y2="1103" stroke="#0072B2" stroke-width="3" />
<line x1="1162.3" y1="1071" x2="1178.3" y2="1071" stroke="#0072B2" stroke-width="3" />
<line x1="1162.3" y1="1103" x2="1178.3" y2="1103" stroke="#0072B2" stroke-width="3" />
</g>
<g stroke="#0072B2" stroke-width="3" opacity="0.45">
<line x1="1198" y1="1042.2" x2="1198" y2="1082.2" stroke="#0072B2" stroke-width="3" />
<line x1="1190" y1="1042.2" x2="1206" y2="1042.2" stroke="#0072B2" stroke-width="3" />
<line x1="1190" y1="1082.2" x2="1206" y2="1082.2" stroke="#0072B2" stroke-width="3" />
</g>
<g stroke="#0072B2" stroke-width="3" opacity="0.45">
<line x1="1243.1" y1="983.7" x2="1243.1" y2="1043.7" stroke="#0072B2" stroke-width="3" />
<line x1="1235.1" y1="983.7" x2="1251.1" y2="983.7" stroke="#0072B2" stroke-width="3" />
<line x1="1235.1" y1="1043.7" x2="1251.1" y2="1043.7" stroke="#0072B2" stroke-width="3" />
</g>
<g stroke="#0072B2" stroke-width="3" opacity="0.45">
<line x1="1286.3" y1="953.2" x2="1286.3" y2="1019.2" stroke="#0072B2" stroke-width="3" />
<line x1="1278.3" y1="953.2" x2="1294.3" y2="953.2" stroke="#0072B2" stroke-width="3" />
<line x1="1278.3" y1="1019.2" x2="1294.3" y2="1019.2" stroke="#0072B2" stroke-width="3" />
</g>
<g stroke="#0072B2" stroke-width="3" opacity="0.45">
<line x1="1318.5" y1="945.8" x2="1318.5" y2="1009.8" stroke="#0072B2" stroke-width="3" />
<line x1="1310.5" y1="945.8" x2="1326.5" y2="945.8" stroke="#0072B2" stroke-width="3" />
<line x1="1310.5" y1="1009.8" x2="1326.5" y2="1009.8" stroke="#0072B2" stroke-width="3" />
</g>
<g stroke="#0072B2" stroke-width="3" opacity="0.45">
<line x1="1430.4" y1="927.6" x2="1430.4" y2="997.6" stroke="#0072B2" stroke-width="3" />
<line x1="1422.4" y1="927.6" x2="1438.4" y2="927.6" stroke="#0072B2" stroke-width="3" />
<line x1="1422.4" y1="997.6" x2="1438.4" y2="997.6" stroke="#0072B2" stroke-width="3" />
</g>
<g stroke="#0072B2" stroke-width="3" opacity="0.45">
<line x1="1442.7" y1="939.6" x2="1442.7" y2="1005.6" stroke="#0072B2" stroke-width="3" />
<line x1="1434.7" y1="939.6" x2="1450.7" y2="939.6" stroke="#0072B2" stroke-width="3" />
<line x1="1434.7" y1="1005.6" x2="1450.7" y2="1005.6" stroke="#0072B2" stroke-width="3" />
</g>
<g stroke="#0072B2" stroke-width="3" opacity="0.45">
<line x1="1479.4" y1="944.4" x2="1479.4" y2="1004.4" stroke="#0072B2" stroke-width="3" />
<line x1="1471.4" y1="944.4" x2="1487.4" y2="944.4" stroke="#0072B2" stroke-width="3" />
<line x1="1471.4" y1="1004.4" x2="1487.4" y2="1004.4" stroke="#0072B2" stroke-width="3" />
</g>
<g stroke="#0072B2" stroke-width="3" opacity="0.45">
<line x1="1520.2" y1="943.7" x2="1520.2" y2="1007.7" stroke="#0072B2" stroke-width="3" />
<line x1="1512.2" y1="943.7" x2="1528.2" y2="943.7" stroke="#0072B2" stroke-width="3" />
<line x1="1512.2" y1="1007.7" x2="1528.2" y2="1007.7" stroke="#0072B2" stroke-width="3" />
</g>
<g stroke="#0072B2" stroke-width="3" opacity="0.45">
<line x1="1170.3" y1="1071" x2="1170.3" y2="1103" stroke="#0072B2" stroke-width="3" />
<line x1="1162.3" y1="1071" x2="1178.3" y2="1071" stroke="#0072B2" stroke-width="3" />
<line x1="1162.3" y1="1103" x2="1178.3" y2="1103" stroke="#0072B2" stroke-width="3" />
</g>
<g stroke="#0072B2" stroke-width="3" opacity="0.45">
<line x1="1198" y1="1042.2" x2="1198" y2="1082.2" stroke="#0072B2" stroke-width="3" />
<line x1="1190" y1="1042.2" x2="1206" y2="1042.2" stroke="#0072B2" stroke-width="3" />
<line x1="1190" y1="1082.2" x2="1206" y2="1082.2" stroke="#0072B2" stroke-width="3" />
</g>
<g stroke="#0072B2" stroke-width="3" opacity="0.45">
<line x1="1243.1" y1="983.7" x2="1243.1" y2="1043.7" stroke="#0072B2" stroke-width="3" />
<line x1="1235.1" y1="983.7" x2="1251.1" y2="983.7" stroke="#0072B2" stroke-width="3" />
<line x1="1235.1" y1="1043.7" x2="1251.1" y2="1043.7" stroke="#0072B2" stroke-width="3" />
</g>
<g stroke="#0072B2" stroke-width="3" opacity="0.45">
<line x1="1286.3" y1="959.7" x2="1286.3" y2="1025.7" stroke="#0072B2" stroke-width="3" />
<line x1="1278.3" y1="959.7" x2="1294.3" y2="959.7" stroke="#0072B2" stroke-width="3" />
<line x1="1278.3" y1="1025.7" x2="1294.3" y2="1025.7" stroke="#0072B2" stroke-width="3" />
</g>
<g stroke="#0072B2" stroke-width="3" opacity="0.45">
<line x1="1318.5" y1="960" x2="1318.5" y2="1024" stroke="#0072B2" stroke-width="3" />
<line x1="1310.5" y1="960" x2="1326.5" y2="960" stroke="#0072B2" stroke-width="3" />
<line x1="1310.5" y1="1024" x2="1326.5" y2="1024" stroke="#0072B2" stroke-width="3" />
</g>
<g stroke="#0072B2" stroke-width="3" opacity="0.45">
<line x1="1430.4" y1="953.8" x2="1430.4" y2="1023.8" stroke="#0072B2" stroke-width="3" />
<line x1="1422.4" y1="953.8" x2="1438.4" y2="953.8" stroke="#0072B2" stroke-width="3" />
<line x1="1422.4" y1="1023.8" x2="1438.4" y2="1023.8" stroke="#0072B2" stroke-width="3" />
</g>
<g stroke="#0072B2" stroke-width="3" opacity="0.45">
<line x1="1442.7" y1="964.2" x2="1442.7" y2="1030.2" stroke="#0072B2" stroke-width="3" />
<line x1="1434.7" y1="964.2" x2="1450.7" y2="964.2" stroke="#0072B2" stroke-width="3" />
<line x1="1434.7" y1="1030.2" x2="1450.7" y2="1030.2" stroke="#0072B2" stroke-width="3" />
</g>
<g stroke="#0072B2" stroke-width="3" opacity="0.45">
<line x1="1479.4" y1="965.4" x2="1479.4" y2="1025.4" stroke="#0072B2" stroke-width="3" />
<line x1="1471.4" y1="965.4" x2="1487.4" y2="965.4" stroke="#0072B2" stroke-width="3" />
<line x1="1471.4" y1="1025.4" x2="1487.4" y2="1025.4" stroke="#0072B2" stroke-width="3" />
</g>
<g stroke="#0072B2" stroke-width="3" opacity="0.45">
<line x1="1520.2" y1="960" x2="1520.2" y2="1024" stroke="#0072B2" stroke-width="3" />
<line x1="1512.2" y1="960" x2="1528.2" y2="960" stroke="#0072B2" stroke-width="3" />
<line x1="1512.2" y1="1024" x2="1528.2" y2="1024" stroke="#0072B2" stroke-width="3" />
</g>
<g stroke="#555" stroke-width="3" opacity="0.45">
<line x1="1170.3" y1="1160.3" x2="1170.3" y2="1168.3" stroke="#555" stroke-width="3" />
<line x1="1162.3" y1="1160.3" x2="1178.3" y2="1160.3" stroke="#555" stroke-width="3" />
<line x1="1162.3" y1="1168.3" x2="1178.3" y2="1168.3" stroke="#555" stroke-width="3" />
</g>
<g stroke="#555" stroke-width="3" opacity="0.45">
<line x1="1198" y1="1152" x2="1198" y2="1166" stroke="#555" stroke-width="3" />
<line x1="1190" y1="1152" x2="1206" y2="1152" stroke="#555" stroke-width="3" />
<line x1="1190" y1="1166" x2="1206" y2="1166" stroke="#555" stroke-width="3" />
</g>
<g stroke="#555" stroke-width="3" opacity="0.45">
<line x1="1243.1" y1="1135.4" x2="1243.1" y2="1155.4" stroke="#555" stroke-width="3" />
<line x1="1235.1" y1="1135.4" x2="1251.1" y2="1135.4" stroke="#555" stroke-width="3" />
<line x1="1235.1" y1="1155.4" x2="1251.1" y2="1155.4" stroke="#555" stroke-width="3" />
</g>
<g stroke="#555" stroke-width="3" opacity="0.45">
<line x1="1286.3" y1="1113.6" x2="1286.3" y2="1141.6" stroke="#555" stroke-width="3" />
<line x1="1278.3" y1="1113.6" x2="1294.3" y2="1113.6" stroke="#555" stroke-width="3" />
<line x1="1278.3" y1="1141.6" x2="1294.3" y2="1141.6" stroke="#555" stroke-width="3" />
</g>
<g stroke="#555" stroke-width="3" opacity="0.45">
<line x1="1318.5" y1="1098" x2="1318.5" y2="1130" stroke="#555" stroke-width="3" />
<line x1="1310.5" y1="1098" x2="1326.5" y2="1098" stroke="#555" stroke-width="3" />
<line x1="1310.5" y1="1130" x2="1326.5" y2="1130" stroke="#555" stroke-width="3" />
</g>
<g stroke="#555" stroke-width="3" opacity="0.45">
<line x1="1430.4" y1="1049.1" x2="1430.4" y2="1095.1" stroke="#555" stroke-width="3" />
<line x1="1422.4" y1="1049.1" x2="1438.4" y2="1049.1" stroke="#555" stroke-width="3" />
<line x1="1422.4" y1="1095.1" x2="1438.4" y2="1095.1" stroke="#555" stroke-width="3" />
</g>
<g stroke="#555" stroke-width="3" opacity="0.45">
<line x1="1442.7" y1="1055.4" x2="1442.7" y2="1101.4" stroke="#555" stroke-width="3" />
<line x1="1434.7" y1="1055.4" x2="1450.7" y2="1055.4" stroke="#555" stroke-width="3" />
<line x1="1434.7" y1="1101.4" x2="1450.7" y2="1101.4" stroke="#555" stroke-width="3" />
</g>
<g stroke="#555" stroke-width="3" opacity="0.45">
<line x1="1479.4" y1="1053.7" x2="1479.4" y2="1095.7" stroke="#555" stroke-width="3" />
<line x1="1471.4" y1="1053.7" x2="1487.4" y2="1053.7" stroke="#555" stroke-width="3" />
<line x1="1471.4" y1="1095.7" x2="1487.4" y2="1095.7" stroke="#555" stroke-width="3" />
</g>
<g stroke="#555" stroke-width="3" opacity="0.45">
<line x1="1520.2" y1="1056.3" x2="1520.2" y2="1098.3" stroke="#555" stroke-width="3" />
<line x1="1512.2" y1="1056.3" x2="1528.2" y2="1056.3" stroke="#555" stroke-width="3" />
<line x1="1512.2" y1="1098.3" x2="1528.2" y2="1098.3" stroke="#555" stroke-width="3" />
</g>
<g stroke="#555" stroke-width="3" opacity="0.45">
<line x1="1170.3" y1="1163.4" x2="1170.3" y2="1171.4" stroke="#555" stroke-width="3" />
<line x1="1162.3" y1="1163.4" x2="1178.3" y2="1163.4" stroke="#555" stroke-width="3" />
<line x1="1162.3" y1="1171.4" x2="1178.3" y2="1171.4" stroke="#555" stroke-width="3" />
</g>
<g stroke="#555" stroke-width="3" opacity="0.45">
<line x1="1198" y1="1156.2" x2="1198" y2="1168.2" stroke="#555" stroke-width="3" />
<line x1="1190" y1="1156.2" x2="1206" y2="1156.2" stroke="#555" stroke-width="3" />
<line x1="1190" y1="1168.2" x2="1206" y2="1168.2" stroke="#555" stroke-width="3" />
</g>
<g stroke="#555" stroke-width="3" opacity="0.45">
<line x1="1243.1" y1="1146.3" x2="1243.1" y2="1162.3" stroke="#555" stroke-width="3" />
<line x1="1235.1" y1="1146.3" x2="1251.1" y2="1146.3" stroke="#555" stroke-width="3" />
<line x1="1235.1" y1="1162.3" x2="1251.1" y2="1162.3" stroke="#555" stroke-width="3" />
</g>
<g stroke="#555" stroke-width="3" opacity="0.45">
<line x1="1286.3" y1="1138.5" x2="1286.3" y2="1154.5" stroke="#555" stroke-width="3" />
<line x1="1278.3" y1="1138.5" x2="1294.3" y2="1138.5" stroke="#555" stroke-width="3" />
<line x1="1278.3" y1="1154.5" x2="1294.3" y2="1154.5" stroke="#555" stroke-width="3" />
</g>
<g stroke="#555" stroke-width="3" opacity="0.45">
<line x1="1318.5" y1="1133.8" x2="1318.5" y2="1151.8" stroke="#555" stroke-width="3" />
<line x1="1310.5" y1="1133.8" x2="1326.5" y2="1133.8" stroke="#555" stroke-width="3" />
<line x1="1310.5" y1="1151.8" x2="1326.5" y2="1151.8" stroke="#555" stroke-width="3" />
</g>
<g stroke="#555" stroke-width="3" opacity="0.45">
<line x1="1430.4" y1="1127.3" x2="1430.4" y2="1145.3" stroke="#555" stroke-width="3" />
<line x1="1422.4" y1="1127.3" x2="1438.4" y2="1127.3" stroke="#555" stroke-width="3" />
<line x1="1422.4" y1="1145.3" x2="1438.4" y2="1145.3" stroke="#555" stroke-width="3" />
</g>
<g stroke="#555" stroke-width="3" opacity="0.45">
<line x1="1442.7" y1="1126.5" x2="1442.7" y2="1144.5" stroke="#555" stroke-width="3" />
<line x1="1434.7" y1="1126.5" x2="1450.7" y2="1126.5" stroke="#555" stroke-width="3" />
<line x1="1434.7" y1="1144.5" x2="1450.7" y2="1144.5" stroke="#555" stroke-width="3" />
</g>
<g stroke="#555" stroke-width="3" opacity="0.45">
<line x1="1479.4" y1="1125.9" x2="1479.4" y2="1139.9" stroke="#555" stroke-width="3" />
<line x1="1471.4" y1="1125.9" x2="1487.4" y2="1125.9" stroke="#555" stroke-width="3" />
<line x1="1471.4" y1="1139.9" x2="1487.4" y2="1139.9" stroke="#555" stroke-width="3" />
</g>
<g stroke="#555" stroke-width="3" opacity="0.45">
<line x1="1520.2" y1="1122.5" x2="1520.2" y2="1136.5" stroke="#555" stroke-width="3" />
<line x1="1512.2" y1="1122.5" x2="1528.2" y2="1122.5" stroke="#555" stroke-width="3" />
<line x1="1512.2" y1="1136.5" x2="1528.2" y2="1136.5" stroke="#555" stroke-width="3" />
</g>
<polyline points="1170.3,1164.3 1198,1159 1243.1,1145.4 1286.3,1127.6 1318.5,1114 1430.4,1072.1 1442.7,1078.4 1479.4,1074.7 1520.2,1077.3" fill="none" stroke="#000" stroke-width="3.5" stroke-linejoin="round" />
<circle cx="1170.3" cy="1164.3" r="6.8" fill="#000" stroke="none" stroke-width="0" />
<circle cx="1198" cy="1159" r="6.8" fill="#000" stroke="none" stroke-width="0" />
<circle cx="1243.1" cy="1145.4" r="6.8" fill="#000" stroke="none" stroke-width="0" />
<circle cx="1286.3" cy="1127.6" r="6.8" fill="#000" stroke="none" stroke-width="0" />
<circle cx="1318.5" cy="1114" r="6.8" fill="#000" stroke="none" stroke-width="0" />
<circle cx="1430.4" cy="1072.1" r="6.8" fill="#000" stroke="none" stroke-width="0" />
<circle cx="1442.7" cy="1078.4" r="6.8" fill="#000" stroke="none" stroke-width="0" />
<circle cx="1479.4" cy="1074.7" r="6.8" fill="#000" stroke="none" stroke-width="0" />
<circle cx="1520.2" cy="1077.3" r="6.8" fill="#000" stroke="none" stroke-width="0" />
<polyline points="1170.3,1167.4 1198,1162.2 1243.1,1154.3 1286.3,1146.5 1318.5,1142.8 1430.4,1136.3 1442.7,1135.5 1479.4,1132.9 1520.2,1129.5" fill="none" stroke="#000" stroke-width="3.5" stroke-linejoin="round" stroke-dasharray="11,7"/>
<circle cx="1170.3" cy="1167.4" r="5.4" fill="#fff" stroke="#000" stroke-width="2.8" />
<circle cx="1198" cy="1162.2" r="5.4" fill="#fff" stroke="#000" stroke-width="2.8" />
<circle cx="1243.1" cy="1154.3" r="5.4" fill="#fff" stroke="#000" stroke-width="2.8" />
<circle cx="1286.3" cy="1146.5" r="5.4" fill="#fff" stroke="#000" stroke-width="2.8" />
<circle cx="1318.5" cy="1142.8" r="5.4" fill="#fff" stroke="#000" stroke-width="2.8" />
<circle cx="1430.4" cy="1136.3" r="5.4" fill="#fff" stroke="#000" stroke-width="2.8" />
<circle cx="1442.7" cy="1135.5" r="5.4" fill="#fff" stroke="#000" stroke-width="2.8" />
<circle cx="1479.4" cy="1132.9" r="5.4" fill="#fff" stroke="#000" stroke-width="2.8" />
<circle cx="1520.2" cy="1129.5" r="5.4" fill="#fff" stroke="#000" stroke-width="2.8" />
<polyline points="1170.3,1087 1198,1062.2 1243.1,1013.7 1286.3,986.2 1318.5,977.8 1430.4,962.6 1442.7,972.6 1479.4,974.4 1520.2,975.7" fill="none" stroke="#0072B2" stroke-width="3.5" stroke-linejoin="round" />
<circle cx="1170.3" cy="1087" r="6.8" fill="#0072B2" stroke="none" stroke-width="0" />
<circle cx="1198" cy="1062.2" r="6.8" fill="#0072B2" stroke="none" stroke-width="0" />
<circle cx="1243.1" cy="1013.7" r="6.8" fill="#0072B2" stroke="none" stroke-width="0" />
<circle cx="1286.3" cy="986.2" r="6.8" fill="#0072B2" stroke="none" stroke-width="0" />
<circle cx="1318.5" cy="977.8" r="6.8" fill="#0072B2" stroke="none" stroke-width="0" />
<circle cx="1430.4" cy="962.6" r="6.8" fill="#0072B2" stroke="none" stroke-width="0" />
<circle cx="1442.7" cy="972.6" r="6.8" fill="#0072B2" stroke="none" stroke-width="0" />
<circle cx="1479.4" cy="974.4" r="6.8" fill="#0072B2" stroke="none" stroke-width="0" />
<circle cx="1520.2" cy="975.7" r="6.8" fill="#0072B2" stroke="none" stroke-width="0" />
<polyline points="1170.3,1087 1198,1062.2 1243.1,1013.7 1286.3,992.7 1318.5,992 1430.4,988.8 1442.7,997.2 1479.4,995.4 1520.2,992" fill="none" stroke="#0072B2" stroke-width="3.5" stroke-linejoin="round" stroke-dasharray="11,7"/>
<circle cx="1170.3" cy="1087" r="5.4" fill="#fff" stroke="#0072B2" stroke-width="2.8" />
<circle cx="1198" cy="1062.2" r="5.4" fill="#fff" stroke="#0072B2" stroke-width="2.8" />
<circle cx="1243.1" cy="1013.7" r="5.4" fill="#fff" stroke="#0072B2" stroke-width="2.8" />
<circle cx="1286.3" cy="992.7" r="5.4" fill="#fff" stroke="#0072B2" stroke-width="2.8" />
<circle cx="1318.5" cy="992" r="5.4" fill="#fff" stroke="#0072B2" stroke-width="2.8" />
<circle cx="1430.4" cy="988.8" r="5.4" fill="#fff" stroke="#0072B2" stroke-width="2.8" />
<circle cx="1442.7" cy="997.2" r="5.4" fill="#fff" stroke="#0072B2" stroke-width="2.8" />
<circle cx="1479.4" cy="995.4" r="5.4" fill="#fff" stroke="#0072B2" stroke-width="2.8" />
<circle cx="1520.2" cy="992" r="5.4" fill="#fff" stroke="#0072B2" stroke-width="2.8" />
<rect x="1152.7" y="925.4" width="384.3" height="250.7" fill="none" stroke="#444" stroke-width="1.5"/>
<text x="1139.5" y="986" font-size="26" text-anchor="end">1,000</text>
<text x="1139.5" y="1085.6" font-size="26" text-anchor="end">500</text>
<text x="1139.5" y="1185" font-size="26" text-anchor="end">0</text>
<text x="1160" y="1214" font-size="25.5" text-anchor="middle">10<tspan dy="-10.71" font-size="17.34">−2</tspan></text>
<text x="1291.5" y="1214" font-size="25.5" text-anchor="middle">10<tspan dy="-10.71" font-size="17.34">−1</tspan></text>
<text x="1425" y="1214" font-size="25.5" text-anchor="middle">10<tspan dy="-10.71" font-size="17.34">0</tspan></text>
<text x="1185" y="1257.3" font-size="25.5" textLength="288.6" lengthAdjust="spacingAndGlyphs">Light intensity (mW mm<tspan dy="-10.71" font-size="17.34">−2</tspan><tspan dy="10.71">)</tspan></text>
<text x="1058" y="1070.6" font-size="25.5" text-anchor="middle" textLength="195.2" lengthAdjust="spacingAndGlyphs" transform="rotate(-90 1058 1070.6)">Photocurrent (pA)</text>
<text x="1160.6" y="954.8" font-size="25.5" fill="#0072B2">ChRger2</text>
<text x="1160.6" y="983.6" font-size="25.5">CoChR</text>
<text x="1043.8" y="1389.8" font-size="31" textLength="7.41" lengthAdjust="spacingAndGlyphs" font-weight="bold">l</text>
<text x="1166.6" y="1412.8" font-size="25.5" textLength="348.4" lengthAdjust="spacingAndGlyphs">Systemic delivery (1 × 10<tspan dy="-10.71" font-size="17.34">11</tspan><tspan dy="10.71"> VG)</tspan></text>
<g stroke="#0072B2" stroke-width="3" opacity="0.45">
<line x1="1305.4" y1="1444.2" x2="1305.4" y2="1480.1" stroke="#0072B2" stroke-width="3" />
<line x1="1296.9" y1="1444.2" x2="1313.9" y2="1444.2" stroke="#0072B2" stroke-width="3" />
<line x1="1296.9" y1="1480.1" x2="1313.9" y2="1480.1" stroke="#0072B2" stroke-width="3" />
</g>
<g stroke="#0072B2" stroke-width="3" opacity="0.45">
<line x1="1276.6" y1="1594.6" x2="1276.6" y2="1646.4" stroke="#0072B2" stroke-width="3" />
<line x1="1268.1" y1="1594.6" x2="1285.1" y2="1594.6" stroke="#0072B2" stroke-width="3" />
<line x1="1268.1" y1="1646.4" x2="1285.1" y2="1646.4" stroke="#0072B2" stroke-width="3" />
</g>
<g stroke="#333" stroke-width="3" opacity="0.45">
<line x1="1304.6" y1="1621.6" x2="1304.6" y2="1660.8" stroke="#333" stroke-width="3" />
<line x1="1296.1" y1="1621.6" x2="1313.1" y2="1621.6" stroke="#333" stroke-width="3" />
<line x1="1296.1" y1="1660.8" x2="1313.1" y2="1660.8" stroke="#333" stroke-width="3" />
</g>
<g stroke="#333" stroke-width="3" opacity="0.45">
<line x1="1332.7" y1="1621" x2="1332.7" y2="1659" stroke="#333" stroke-width="3" />
<line x1="1324.2" y1="1621" x2="1341.2" y2="1621" stroke="#333" stroke-width="3" />
<line x1="1324.2" y1="1659" x2="1341.2" y2="1659" stroke="#333" stroke-width="3" />
</g>
<g stroke="#333" stroke-width="3" opacity="0.45">
<line x1="1353.1" y1="1583.6" x2="1353.1" y2="1636" stroke="#333" stroke-width="3" />
<line x1="1344.6" y1="1583.6" x2="1361.6" y2="1583.6" stroke="#333" stroke-width="3" />
<line x1="1344.6" y1="1636" x2="1361.6" y2="1636" stroke="#333" stroke-width="3" />
</g>
<g stroke="#333" stroke-width="3" opacity="0.45">
<line x1="1425.1" y1="1465.7" x2="1425.1" y2="1518.1" stroke="#333" stroke-width="3" />
<line x1="1416.6" y1="1465.7" x2="1433.6" y2="1465.7" stroke="#333" stroke-width="3" />
<line x1="1416.6" y1="1518.1" x2="1433.6" y2="1518.1" stroke="#333" stroke-width="3" />
</g>
<g stroke="#333" stroke-width="3" opacity="0.45">
<line x1="1432.2" y1="1459.2" x2="1432.2" y2="1506.3" stroke="#333" stroke-width="3" />
<line x1="1423.7" y1="1459.2" x2="1440.7" y2="1459.2" stroke="#333" stroke-width="3" />
<line x1="1423.7" y1="1506.3" x2="1440.7" y2="1506.3" stroke="#333" stroke-width="3" />
</g>
<g stroke="#333" stroke-width="3" opacity="0.45">
<line x1="1456.6" y1="1443.5" x2="1456.6" y2="1452.6" stroke="#333" stroke-width="3" />
<line x1="1448.1" y1="1443.5" x2="1465.1" y2="1443.5" stroke="#333" stroke-width="3" />
<line x1="1448.1" y1="1452.6" x2="1465.1" y2="1452.6" stroke="#333" stroke-width="3" />
</g>
<polyline points="1258.3,1662 1275.8,1660.8 1304.6,1640.7 1332.7,1639.9 1353.1,1609.8 1425.1,1491.9 1432.2,1482.7 1456.6,1447.4 1482.8,1443.5 1509.7,1443.5" fill="none" stroke="#000" stroke-width="4" stroke-linejoin="round" />
<circle cx="1258.3" cy="1662" r="7.2" fill="#000" stroke="none" stroke-width="0" />
<circle cx="1275.8" cy="1660.8" r="7.2" fill="#000" stroke="none" stroke-width="0" />
<circle cx="1304.6" cy="1640.7" r="7.2" fill="#000" stroke="none" stroke-width="0" />
<circle cx="1332.7" cy="1639.9" r="7.2" fill="#000" stroke="none" stroke-width="0" />
<circle cx="1353.1" cy="1609.8" r="7.2" fill="#000" stroke="none" stroke-width="0" />
<circle cx="1425.1" cy="1491.9" r="7.2" fill="#000" stroke="none" stroke-width="0" />
<circle cx="1432.2" cy="1482.7" r="7.2" fill="#000" stroke="none" stroke-width="0" />
<circle cx="1456.6" cy="1447.4" r="7.2" fill="#000" stroke="none" stroke-width="0" />
<circle cx="1482.8" cy="1443.5" r="7.2" fill="#000" stroke="none" stroke-width="0" />
<circle cx="1509.7" cy="1443.5" r="7.2" fill="#000" stroke="none" stroke-width="0" />
<polyline points="1172.4,1660 1258.3,1658.2 1276.6,1620.2 1305.4,1461.8 1332.7,1442.7 1353.1,1443.5" fill="none" stroke="#0072B2" stroke-width="4" stroke-linejoin="round" />
<circle cx="1172.4" cy="1660" r="7.2" fill="#0072B2" stroke="none" stroke-width="0" />
<circle cx="1258.3" cy="1658.2" r="7.2" fill="#0072B2" stroke="none" stroke-width="0" />
<circle cx="1276.6" cy="1620.2" r="7.2" fill="#0072B2" stroke="none" stroke-width="0" />
<circle cx="1305.4" cy="1461.8" r="7.2" fill="#0072B2" stroke="none" stroke-width="0" />
<circle cx="1332.7" cy="1442.7" r="7.2" fill="#0072B2" stroke="none" stroke-width="0" />
<circle cx="1353.1" cy="1443.5" r="7.2" fill="#0072B2" stroke="none" stroke-width="0" />
<rect x="1155.9" y="1432.2" width="370.6" height="241" fill="none" stroke="#444" stroke-width="1.5"/>
<text x="1142.2" y="1452.5" font-size="26" text-anchor="end">100</text>
<text x="1142.2" y="1508.2" font-size="26" text-anchor="end">75</text>
<text x="1142.2" y="1562.5" font-size="26" text-anchor="end">50</text>
<text x="1142.2" y="1617.5" font-size="26" text-anchor="end">25</text>
<text x="1142.2" y="1669.8" font-size="26" text-anchor="end">0</text>
<text x="1183.8" y="1710.6" font-size="25.5" text-anchor="middle">10<tspan dy="-10.71" font-size="17.34">−3</tspan></text>
<text x="1267.6" y="1710.6" font-size="25.5" text-anchor="middle">10<tspan dy="-10.71" font-size="17.34">−2</tspan></text>
<text x="1350.5" y="1710.6" font-size="25.5" text-anchor="middle">10<tspan dy="-10.71" font-size="17.34">−1</tspan></text>
<text x="1433.4" y="1710.6" font-size="25.5" text-anchor="middle">10<tspan dy="-10.71" font-size="17.34">0</tspan></text>
<text x="1516.3" y="1710.6" font-size="25.5" text-anchor="middle">10<tspan dy="-10.71" font-size="17.34">1</tspan></text>
<text x="1196.5" y="1759" font-size="25.5" textLength="288" lengthAdjust="spacingAndGlyphs">Light intensity (mW mm<tspan dy="-10.71" font-size="17.34">−2</tspan><tspan dy="10.71">)</tspan></text>
<text x="1088" y="1554.7" font-size="25.5" text-anchor="middle" textLength="183.4" lengthAdjust="spacingAndGlyphs" transform="rotate(-90 1088 1554.7)">Spike fidelity (%)</text>
<text x="1164" y="1462.6" font-size="25.5" fill="#0072B2">ChRger2</text>
<text x="1164" y="1495" font-size="25.5">CoChR</text>
<text x="1580.5" y="894.6" font-size="31" textLength="23.71" lengthAdjust="spacingAndGlyphs" font-weight="bold">m</text>
<text x="1717.3" y="907.1" font-size="25.5" textLength="348.9" lengthAdjust="spacingAndGlyphs">Systemic delivery (1 × 10<tspan dy="-10.71" font-size="17.34">11</tspan><tspan dy="10.71"> VG)</tspan></text>
<g stroke="#333" stroke-width="3" opacity="0.4">
<line x1="1882.9" y1="945.07" x2="1882.9" y2="966.17" stroke="#333" stroke-width="3" />
<line x1="1874.4" y1="945.07" x2="1891.4" y2="945.07" stroke="#333" stroke-width="3" />
<line x1="1874.4" y1="966.17" x2="1891.4" y2="966.17" stroke="#333" stroke-width="3" />
</g>
<g stroke="#333" stroke-width="3" opacity="0.4">
<line x1="2064.1" y1="1009.69" x2="2064.1" y2="1062.44" stroke="#333" stroke-width="3" />
<line x1="2055.6" y1="1009.69" x2="2072.6" y2="1009.69" stroke="#333" stroke-width="3" />
<line x1="2055.6" y1="1062.44" x2="2072.6" y2="1062.44" stroke="#333" stroke-width="3" />
</g>
<g stroke="#0072B2" stroke-width="3" opacity="0.4">
<line x1="1882.9" y1="954.31" x2="1882.9" y2="1036.07" stroke="#0072B2" stroke-width="3" />
<line x1="1874.4" y1="954.31" x2="1891.4" y2="954.31" stroke="#0072B2" stroke-width="3" />
<line x1="1874.4" y1="1036.07" x2="1891.4" y2="1036.07" stroke="#0072B2" stroke-width="3" />
</g>
<g stroke="#0072B2" stroke-width="3" opacity="0.4">
<line x1="2064.1" y1="1008.38" x2="2064.1" y2="1103.33" stroke="#0072B2" stroke-width="3" />
<line x1="2055.6" y1="1008.38" x2="2072.6" y2="1008.38" stroke="#0072B2" stroke-width="3" />
<line x1="2055.6" y1="1103.33" x2="2072.6" y2="1103.33" stroke="#0072B2" stroke-width="3" />
</g>
<g stroke="#009E73" stroke-width="3" opacity="0.4">
<line x1="1882.9" y1="1013.65" x2="1882.9" y2="1092.78" stroke="#009E73" stroke-width="3" />
<line x1="1874.4" y1="1013.65" x2="1891.4" y2="1013.65" stroke="#009E73" stroke-width="3" />
<line x1="1874.4" y1="1092.78" x2="1891.4" y2="1092.78" stroke="#009E73" stroke-width="3" />
</g>
<g stroke="#009E73" stroke-width="3" opacity="0.4">
<line x1="2064.1" y1="1071.67" x2="2064.1" y2="1124.42" stroke="#009E73" stroke-width="3" />
<line x1="2055.6" y1="1071.67" x2="2072.6" y2="1071.67" stroke="#009E73" stroke-width="3" />
<line x1="2055.6" y1="1124.42" x2="2072.6" y2="1124.42" stroke="#009E73" stroke-width="3" />
</g>
<g stroke="#009E73" stroke-width="3" opacity="0.4">
<line x1="1792" y1="947.71" x2="1792" y2="968.81" stroke="#009E73" stroke-width="3" />
<line x1="1783.5" y1="947.71" x2="1800.5" y2="947.71" stroke="#009E73" stroke-width="3" />
<line x1="1783.5" y1="968.81" x2="1800.5" y2="968.81" stroke="#009E73" stroke-width="3" />
</g>
<g stroke="#0072B2" stroke-width="3" opacity="0.4">
<line x1="1746.8" y1="941.12" x2="1746.8" y2="949.03" stroke="#0072B2" stroke-width="3" />
<line x1="1738.3" y1="941.12" x2="1755.3" y2="941.12" stroke="#0072B2" stroke-width="3" />
<line x1="1738.3" y1="949.03" x2="1755.3" y2="949.03" stroke="#0072B2" stroke-width="3" />
</g>
<g stroke="#CC79A7" stroke-width="3" opacity="0.4">
<line x1="1792" y1="1005.74" x2="1792" y2="1069.04" stroke="#CC79A7" stroke-width="3" />
<line x1="1783.5" y1="1005.74" x2="1800.5" y2="1005.74" stroke="#CC79A7" stroke-width="3" />
<line x1="1783.5" y1="1069.04" x2="1800.5" y2="1069.04" stroke="#CC79A7" stroke-width="3" />
</g>
<g stroke="#CC79A7" stroke-width="3" opacity="0.4">
<line x1="1882.9" y1="1076.95" x2="1882.9" y2="1145.53" stroke="#CC79A7" stroke-width="3" />
<line x1="1874.4" y1="1076.95" x2="1891.4" y2="1076.95" stroke="#CC79A7" stroke-width="3" />
<line x1="1874.4" y1="1145.53" x2="1891.4" y2="1145.53" stroke="#CC79A7" stroke-width="3" />
</g>
<g stroke="#CC79A7" stroke-width="3" opacity="0.4">
<line x1="2064.1" y1="1116.51" x2="2064.1" y2="1163.99" stroke="#CC79A7" stroke-width="3" />
<line x1="2055.6" y1="1116.51" x2="2072.6" y2="1116.51" stroke="#CC79A7" stroke-width="3" />
<line x1="2055.6" y1="1163.99" x2="2072.6" y2="1163.99" stroke="#CC79A7" stroke-width="3" />
</g>
<polyline points="1718.9,939.8 1746.8,939.8 1792,941.12 1882.9,955.62 2064.1,1036.07" fill="none" stroke="#000" stroke-width="4" stroke-linejoin="round" />
<circle cx="1718.9" cy="939.8" r="7.3" fill="#000" stroke="none" stroke-width="0" />
<circle cx="1746.8" cy="939.8" r="7.3" fill="#000" stroke="none" stroke-width="0" />
<circle cx="1792" cy="941.12" r="7.3" fill="#000" stroke="none" stroke-width="0" />
<circle cx="1882.9" cy="955.62" r="7.3" fill="#000" stroke="none" stroke-width="0" />
<circle cx="2064.1" cy="1036.07" r="7.3" fill="#000" stroke="none" stroke-width="0" />
<polyline points="1718.9,939.8 1746.8,945.07 1792,945.07 1882.9,992.55 2064.1,1055.85" fill="none" stroke="#0072B2" stroke-width="4" stroke-linejoin="round" />
<circle cx="1718.9" cy="939.8" r="7.3" fill="#0072B2" stroke="none" stroke-width="0" />
<circle cx="1746.8" cy="945.07" r="7.3" fill="#0072B2" stroke="none" stroke-width="0" />
<circle cx="1792" cy="945.07" r="7.3" fill="#0072B2" stroke="none" stroke-width="0" />
<circle cx="1882.9" cy="992.55" r="7.3" fill="#0072B2" stroke="none" stroke-width="0" />
<circle cx="2064.1" cy="1055.85" r="7.3" fill="#0072B2" stroke="none" stroke-width="0" />
<polyline points="1718.9,942.44 1746.8,945.07 1792,958.26 1882.9,1053.21 2064.1,1098.05" fill="none" stroke="#009E73" stroke-width="4" stroke-linejoin="round" />
<circle cx="1718.9" cy="942.44" r="7.3" fill="#009E73" stroke="none" stroke-width="0" />
<circle cx="1746.8" cy="945.07" r="7.3" fill="#009E73" stroke="none" stroke-width="0" />
<circle cx="1792" cy="958.26" r="7.3" fill="#009E73" stroke="none" stroke-width="0" />
<circle cx="1882.9" cy="1053.21" r="7.3" fill="#009E73" stroke="none" stroke-width="0" />
<circle cx="2064.1" cy="1098.05" r="7.3" fill="#009E73" stroke="none" stroke-width="0" />
<polyline points="1718.9,941.12 1746.8,942.44 1792,1037.39 1882.9,1111.24 2064.1,1140.25" fill="none" stroke="#CC79A7" stroke-width="4" stroke-linejoin="round" />
<circle cx="1718.9" cy="941.12" r="7.3" fill="#CC79A7" stroke="none" stroke-width="0" />
<circle cx="1746.8" cy="942.44" r="7.3" fill="#CC79A7" stroke="none" stroke-width="0" />
<circle cx="1792" cy="1037.39" r="7.3" fill="#CC79A7" stroke="none" stroke-width="0" />
<circle cx="1882.9" cy="1111.24" r="7.3" fill="#CC79A7" stroke="none" stroke-width="0" />
<circle cx="2064.1" cy="1140.25" r="7.3" fill="#CC79A7" stroke="none" stroke-width="0" />
<rect x="1702.2" y="927.9" width="379.2" height="246.3" fill="none" stroke="#222" stroke-width="1.5"/>
<text x="1694.1" y="948.8" font-size="26" text-anchor="end">100</text>
<text x="1694.1" y="1001.55" font-size="26" text-anchor="end">80</text>
<text x="1694.1" y="1054.3" font-size="26" text-anchor="end">60</text>
<text x="1694.1" y="1107.05" font-size="26" text-anchor="end">40</text>
<text x="1694.1" y="1159.8" font-size="26" text-anchor="end">20</text>
<text x="1700.8" y="1206.1" font-size="25.5" text-anchor="middle">0</text>
<text x="1791.7" y="1206.1" font-size="25.5" text-anchor="middle">10</text>
<text x="1882.1" y="1206.1" font-size="25.5" text-anchor="middle">20</text>
<text x="1973.2" y="1206.1" font-size="25.5" text-anchor="middle">30</text>
<text x="2063.6" y="1206.1" font-size="25.5" text-anchor="middle">40</text>
<text x="1793.3" y="1243.3" font-size="25.5" textLength="169.3" lengthAdjust="spacingAndGlyphs">Frequency (Hz)</text>
<text x="1633" y="1054.7" font-size="25.5" text-anchor="middle" textLength="183.3" lengthAdjust="spacingAndGlyphs" transform="rotate(-90 1633 1054.7)">Spike fidelity (%)</text>
<text x="1711.5" y="1081.7" font-size="25.5">CoChR</text>
<text x="1711.5" y="1108.3" font-size="25.5" fill="#CC79A7">ChRger1</text>
<text x="1711.5" y="1134.9" font-size="25.5" fill="#0072B2">ChRger2</text>
<text x="1711.5" y="1161.5" font-size="25.5" fill="#009E73">ChRger3</text>
<text x="1580.5" y="1390" font-size="31" textLength="16.28" lengthAdjust="spacingAndGlyphs" font-weight="bold">n</text>
<text x="1680.9" y="1427.7" font-size="25.5" fill="#CC79A7" textLength="96.5" lengthAdjust="spacingAndGlyphs">ChRger1</text>
<text x="1819.9" y="1427.7" font-size="25.5" fill="#0072B2" textLength="98.3" lengthAdjust="spacingAndGlyphs">ChRger2</text>
<text x="1970.6" y="1427.7" font-size="25.5" fill="#009E73" textLength="99.1" lengthAdjust="spacingAndGlyphs">ChRger3</text>
<text x="1650.9" y="1493.6" font-size="25.5" text-anchor="end">2 Hz</text>
<text x="1650.9" y="1593.8" font-size="25.5" text-anchor="end">5 Hz</text>
<text x="1650.9" y="1678" font-size="25.5" text-anchor="end">20 Hz</text>
<path d="M1663.6,1521.2 L1674.3,1521.2 L1674.6,1497 L1674.8,1453 L1675.4,1499 Q1676.73,1516 1679.85,1516 L1680.2,1497 L1680.7,1453 L1681.3,1499 Q1682.63,1516 1685.75,1516 L1686.1,1497 L1686.6,1453 L1687.2,1499 Q1688.53,1516 1691.65,1516 L1692,1497 L1692.5,1453 L1693.1,1499 Q1694.43,1516 1697.55,1516 L1697.9,1497 L1698.4,1453 L1699,1499 Q1700.34,1516 1703.45,1516 L1703.8,1497 L1704.3,1453 L1704.9,1499 Q1706.23,1516 1709.35,1516 L1709.7,1497 L1710.2,1453 L1710.8,1499 Q1712.13,1516 1715.25,1516 L1715.6,1497 L1716.1,1453 L1716.7,1499 Q1718.03,1516 1721.15,1516 L1721.5,1497 L1722,1453 L1722.6,1499 Q1723.93,1516 1727.05,1516 L1727.4,1497 L1727.9,1453 L1728.5,1499 Q1729.84,1516 1732.95,1516 L1733.3,1497 L1733.8,1453 L1734.4,1499 Q1735.73,1516 1738.85,1516 L1739.2,1497 L1739.7,1453 L1740.3,1499 Q1741.63,1516 1744.75,1516 L1745.1,1497 L1745.6,1453 L1746.2,1499 Q1747.54,1516 1750.65,1516 L1751,1497 L1751.5,1453 L1752.1,1499 Q1753.43,1516 1756.55,1516 L1756.9,1497 L1757.4,1453 L1758,1499 Q1759.34,1516 1762.45,1516 L1762.8,1497 L1763.3,1453 L1763.9,1499 Q1765.24,1516 1768.35,1516 L1768.7,1497 L1769.2,1453 L1769.8,1499 Q1771.13,1516 1774.25,1516 L1774.6,1497 L1775.1,1453 L1775.7,1499 Q1777.04,1516 1780.15,1516 L1780.5,1497 L1781,1453 L1781.6,1499 Q1782.93,1516 1786.05,1516 L1786.4,1497 L1786.9,1453 L1787.5,1499 C1790.5,1516 1795.75,1521.2 1804,1521.2" fill="none" stroke="#CC79A7" stroke-width="1.4" stroke-linejoin="round"/>
<path d="M1808.5,1521.5 L1818.3,1521.5 L1818.6,1497 L1818.8,1447.6 L1819.4,1499 Q1820.74,1517 1823.87,1517 L1824.22,1497 L1824.72,1447.6 L1825.32,1499 Q1826.66,1517 1829.78,1517 L1830.13,1497 L1830.63,1447.6 L1831.23,1499 Q1832.57,1517 1835.7,1517 L1836.05,1497 L1836.55,1447.6 L1837.15,1499 Q1838.49,1517 1841.61,1517 L1841.96,1497 L1842.46,1447.6 L1843.06,1499 Q1844.4,1517 1847.53,1517 L1847.88,1497 L1848.38,1447.6 L1848.98,1499 Q1850.32,1517 1853.44,1517 L1853.79,1497 L1854.29,1447.6 L1854.89,1499 Q1856.23,1517 1859.36,1517 L1859.71,1497 L1860.21,1447.6 L1860.81,1499 Q1862.15,1517 1865.28,1517 L1865.63,1497 L1866.13,1447.6 L1866.73,1499 Q1868.07,1517 1871.19,1517 L1871.54,1497 L1872.04,1447.6 L1872.64,1499 Q1873.98,1517 1877.11,1517 L1877.46,1497 L1877.96,1447.6 L1878.56,1499 Q1879.9,1517 1883.02,1517 L1883.37,1497 L1883.87,1447.6 L1884.47,1499 Q1885.81,1517 1888.94,1517 L1889.29,1497 L1889.79,1447.6 L1890.39,1499 Q1891.73,1517 1894.86,1517 L1895.21,1497 L1895.71,1447.6 L1896.31,1499 Q1897.64,1517 1900.77,1517 L1901.12,1497 L1901.62,1447.6 L1902.22,1499 Q1903.56,1517 1906.69,1517 L1907.04,1497 L1907.54,1447.6 L1908.14,1499 Q1909.48,1517 1912.6,1517 L1912.95,1497 L1913.45,1447.6 L1914.05,1499 Q1915.39,1517 1918.52,1517 L1918.87,1497 L1919.37,1447.6 L1919.97,1499 Q1921.31,1517 1924.43,1517 L1924.78,1497 L1925.28,1447.6 L1925.88,1499 Q1927.22,1517 1930.35,1517 L1930.7,1497 L1931.2,1447.6 L1931.8,1499 C1934.8,1517 1940.15,1521.5 1948.5,1521.5" fill="none" stroke="#0072B2" stroke-width="1.4" stroke-linejoin="round"/>
<path d="M1955.2,1522.6 L1965.8,1522.6 L1966.1,1498 L1966.3,1443.1 L1966.9,1500 Q1968.23,1519 1971.34,1519 L1971.69,1498 L1972.19,1443.1 L1972.79,1500 Q1974.12,1519 1977.23,1519 L1977.58,1498 L1978.08,1443.1 L1978.68,1500 Q1980.01,1519 1983.12,1519 L1983.47,1498 L1983.97,1443.1 L1984.57,1500 Q1985.9,1519 1989.01,1519 L1989.36,1498 L1989.86,1443.1 L1990.46,1500 Q1991.79,1519 1994.9,1519 L1995.25,1498 L1995.75,1443.1 L1996.35,1500 Q1997.68,1519 2000.79,1519 L2001.14,1498 L2001.64,1443.1 L2002.24,1500 Q2003.57,1519 2006.68,1519 L2007.03,1498 L2007.53,1443.1 L2008.13,1500 Q2009.46,1519 2012.57,1519 L2012.92,1498 L2013.42,1443.1 L2014.02,1500 Q2015.35,1519 2018.46,1519 L2018.81,1498 L2019.31,1443.1 L2019.91,1500 Q2021.24,1519 2024.34,1519 L2024.69,1498 L2025.19,1443.1 L2025.79,1500 Q2027.13,1519 2030.23,1519 L2030.58,1498 L2031.08,1443.1 L2031.68,1500 Q2033.02,1519 2036.12,1519 L2036.47,1498 L2036.97,1443.1 L2037.57,1500 Q2038.91,1519 2042.01,1519 L2042.36,1498 L2042.86,1443.1 L2043.46,1500 Q2044.79,1519 2047.9,1519 L2048.25,1498 L2048.75,1443.1 L2049.35,1500 Q2050.68,1519 2053.79,1519 L2054.14,1498 L2054.64,1443.1 L2055.24,1500 Q2056.57,1519 2059.68,1519 L2060.03,1498 L2060.53,1443.1 L2061.13,1500 Q2062.46,1519 2065.57,1519 L2065.92,1498 L2066.42,1443.1 L2067.02,1500 Q2068.35,1519 2071.46,1519 L2071.81,1498 L2072.31,1443.1 L2072.91,1500 Q2074.24,1519 2077.35,1519 L2077.7,1498 L2078.2,1443.1 L2078.8,1500 C2081.8,1519 2087.15,1522.6 2095.5,1522.6" fill="none" stroke="#009E73" stroke-width="1.4" stroke-linejoin="round"/>
<path d="M1663.6,1616.4 L1674.3,1616.4 L1674.6,1583 L1674.8,1546 L1675.4,1585 Q1675.69,1595 1676.36,1595 L1676.71,1583 L1677.21,1546 L1677.81,1585 Q1678.09,1595 1678.76,1595 L1679.11,1583 L1679.61,1546 L1680.21,1585 Q1680.5,1595 1681.17,1595 L1681.52,1583 L1682.02,1546 L1682.62,1585 Q1682.9,1595 1683.57,1595 L1683.92,1583 L1684.42,1546 L1685.02,1585 Q1685.31,1595 1685.98,1595 L1686.33,1583 L1686.83,1546 L1687.43,1585 Q1687.71,1595 1688.38,1595 L1688.73,1583 L1689.23,1546 L1689.83,1585 Q1690.12,1595 1690.79,1595 L1691.14,1583 L1691.64,1546 L1692.24,1585 Q1692.52,1595 1693.19,1595 L1693.54,1583 L1694.04,1546 L1694.64,1585 Q1694.93,1595 1695.6,1595 L1695.95,1583 L1696.45,1546 L1697.05,1585 Q1697.33,1595 1698,1595 L1698.35,1583 L1698.85,1546 L1699.45,1585 Q1699.74,1595 1700.41,1595 L1700.76,1583 L1701.26,1546 L1701.86,1585 Q1702.14,1595 1702.81,1595 L1703.16,1583 L1703.66,1546 L1704.26,1585 Q1704.55,1595 1705.22,1595 L1705.57,1583 L1706.07,1546 L1706.67,1585 Q1706.95,1595 1707.62,1595 L1707.97,1583 L1708.47,1546 L1709.07,1585 Q1709.36,1595 1710.03,1595 L1710.38,1583 L1710.88,1546 L1711.48,1585 Q1711.77,1595 1712.43,1595 L1712.78,1583 L1713.28,1546 L1713.88,1585 Q1714.17,1595 1714.84,1595 L1715.19,1583 L1715.69,1546 L1716.29,1585 Q1716.58,1595 1717.24,1595 L1717.59,1583 L1718.09,1546 L1718.69,1585 Q1718.98,1595 1719.65,1595 L1720,1583 L1720.5,1546 L1721.1,1585 C1724.1,1595 1746.85,1616.4 1772.6,1616.4" fill="none" stroke="#CC79A7" stroke-width="1.4" stroke-linejoin="round"/>
<path d="M1808.5,1619.6 L1818.3,1619.6 L1818.6,1596 L1818.8,1543.3 L1819.4,1598 Q1819.68,1608 1820.34,1608 L1820.69,1596 L1821.19,1543.3 L1821.79,1598 Q1822.07,1608 1822.73,1608 L1823.08,1596 L1823.58,1543.3 L1824.18,1598 Q1824.46,1608 1825.12,1608 L1825.47,1596 L1825.97,1543.3 L1826.57,1598 Q1826.85,1608 1827.51,1608 L1827.86,1596 L1828.36,1543.3 L1828.96,1598 Q1829.24,1608 1829.9,1608 L1830.25,1596 L1830.75,1543.3 L1831.35,1598 Q1831.63,1608 1832.29,1608 L1832.64,1596 L1833.14,1543.3 L1833.74,1598 Q1834.02,1608 1834.68,1608 L1835.03,1596 L1835.53,1543.3 L1836.13,1598 Q1836.41,1608 1837.07,1608 L1837.42,1596 L1837.92,1543.3 L1838.52,1598 Q1838.8,1608 1839.46,1608 L1839.81,1596 L1840.31,1543.3 L1840.91,1598 Q1841.19,1608 1841.84,1608 L1842.19,1596 L1842.69,1543.3 L1843.29,1598 Q1843.58,1608 1844.23,1608 L1844.58,1596 L1845.08,1543.3 L1845.68,1598 Q1845.97,1608 1846.62,1608 L1846.97,1596 L1847.47,1543.3 L1848.07,1598 Q1848.36,1608 1849.01,1608 L1849.36,1596 L1849.86,1543.3 L1850.46,1598 Q1850.74,1608 1851.4,1608 L1851.75,1596 L1852.25,1543.3 L1852.85,1598 Q1853.13,1608 1853.79,1608 L1854.14,1596 L1854.64,1543.3 L1855.24,1598 Q1855.52,1608 1856.18,1608 L1856.53,1596 L1857.03,1543.3 L1857.63,1598 Q1857.91,1608 1858.57,1608 L1858.92,1596 L1859.42,1543.3 L1860.02,1598 Q1860.3,1608 1860.96,1608 L1861.31,1596 L1861.81,1543.3 L1862.41,1598 Q1862.69,1608 1863.35,1608 L1863.7,1596 L1864.2,1543.3 L1864.8,1598 C1867.8,1608 1890.85,1619.6 1916.9,1619.6" fill="none" stroke="#0072B2" stroke-width="1.4" stroke-linejoin="round"/>
<path d="M1955.2,1620.9 L1965.8,1620.9 L1966.1,1598 L1966.3,1538 L1966.9,1600 Q1967.17,1610 1967.8,1610 L1968.15,1598 L1968.65,1538 L1969.25,1600 Q1969.52,1610 1970.14,1610 L1970.49,1598 L1970.99,1538 L1971.59,1600 Q1971.86,1610 1972.49,1610 L1972.84,1598 L1973.34,1538 L1973.94,1600 Q1974.21,1610 1974.84,1610 L1975.19,1598 L1975.69,1538 L1976.29,1600 Q1976.56,1610 1977.19,1610 L1977.54,1598 L1978.04,1538 L1978.64,1600 Q1978.91,1610 1979.53,1610 L1979.88,1598 L1980.38,1538 L1980.98,1600 Q1981.25,1610 1981.88,1610 L1982.23,1598 L1982.73,1538 L1983.33,1600 Q1983.6,1610 1984.23,1610 L1984.58,1598 L1985.08,1538 L1985.68,1600 Q1985.95,1610 1986.58,1610 L1986.93,1598 L1987.43,1538 L1988.03,1600 Q1988.3,1610 1988.92,1610 L1989.27,1598 L1989.77,1538 L1990.37,1600 Q1990.64,1610 1991.27,1610 L1991.62,1598 L1992.12,1538 L1992.72,1600 Q1992.99,1610 1993.62,1610 L1993.97,1598 L1994.47,1538 L1995.07,1600 Q1995.34,1610 1995.97,1610 L1996.32,1598 L1996.82,1538 L1997.42,1600 Q1997.68,1610 1998.31,1610 L1998.66,1598 L1999.16,1538 L1999.76,1600 Q2000.03,1610 2000.66,1610 L2001.01,1598 L2001.51,1538 L2002.11,1600 Q2002.38,1610 2003.01,1610 L2003.36,1598 L2003.86,1538 L2004.46,1600 Q2004.73,1610 2005.36,1610 L2005.71,1598 L2006.21,1538 L2006.81,1600 Q2007.07,1610 2007.7,1610 L2008.05,1598 L2008.55,1538 L2009.15,1600 Q2009.42,1610 2010.05,1610 L2010.4,1598 L2010.9,1538 L2011.5,1600 C2014.5,1610 2037.55,1620.9 2063.6,1620.9" fill="none" stroke="#009E73" stroke-width="1.4" stroke-linejoin="round"/>
<rect x="1753.8" y="1559.2" width="4.3" height="47.8" fill="#000" />
<rect x="1898.6" y="1559.2" width="4.3" height="47.8" fill="#000" />
<rect x="2032.2" y="1562.7" width="4.3" height="40.9" fill="#000" />
<text x="2045.8" y="1593.8" font-size="25.5" textLength="75" lengthAdjust="spacingAndGlyphs">50 mV</text>
<path d="M1663.6,1708.6 L1674.3,1708.6 L1674.6,1640.3 L1675.3,1672" fill="none" stroke="#CC79A7" stroke-width="1.5"/>
<rect x="1674.8" y="1668" width="11.1" height="4" fill="#CC79A7" />
<path d="M1685.4,1672 L1686.9,1678 C1690.4,1698.6 1700.4,1706.6 1740.2,1708.6" fill="none" stroke="#CC79A7" stroke-width="1.5"/>
<path d="M1808.5,1711.2 L1818.3,1711.2 L1818.6,1637.6 L1819.3,1688.1" fill="none" stroke="#0072B2" stroke-width="1.5"/>
<rect x="1818.8" y="1645.6" width="11.4" height="42.5" fill="#0072B2" />
<path d="M1829.7,1688.1 L1831.2,1694.1 C1834.7,1701.2 1844.7,1709.2 1884.2,1711.2" fill="none" stroke="#0072B2" stroke-width="1.5"/>
<path d="M1955.2,1711.5 L1965.8,1711.5 L1966.1,1629.7 L1966.8,1685.5" fill="none" stroke="#009E73" stroke-width="1.5"/>
<rect x="1966.3" y="1643" width="10.6" height="42.5" fill="#009E73" />
<path d="M1976.4,1685.5 L1977.9,1691.5 C1981.4,1701.5 1991.4,1709.5 2030.4,1711.5" fill="none" stroke="#009E73" stroke-width="1.5"/>
<rect x="2031.7" y="1652.2" width="23.9" height="4" fill="#000" />
<text x="2029.8" y="1682.8" font-size="25.5" textLength="31.9" lengthAdjust="spacingAndGlyphs">2 s</text>
</svg></body></html>
